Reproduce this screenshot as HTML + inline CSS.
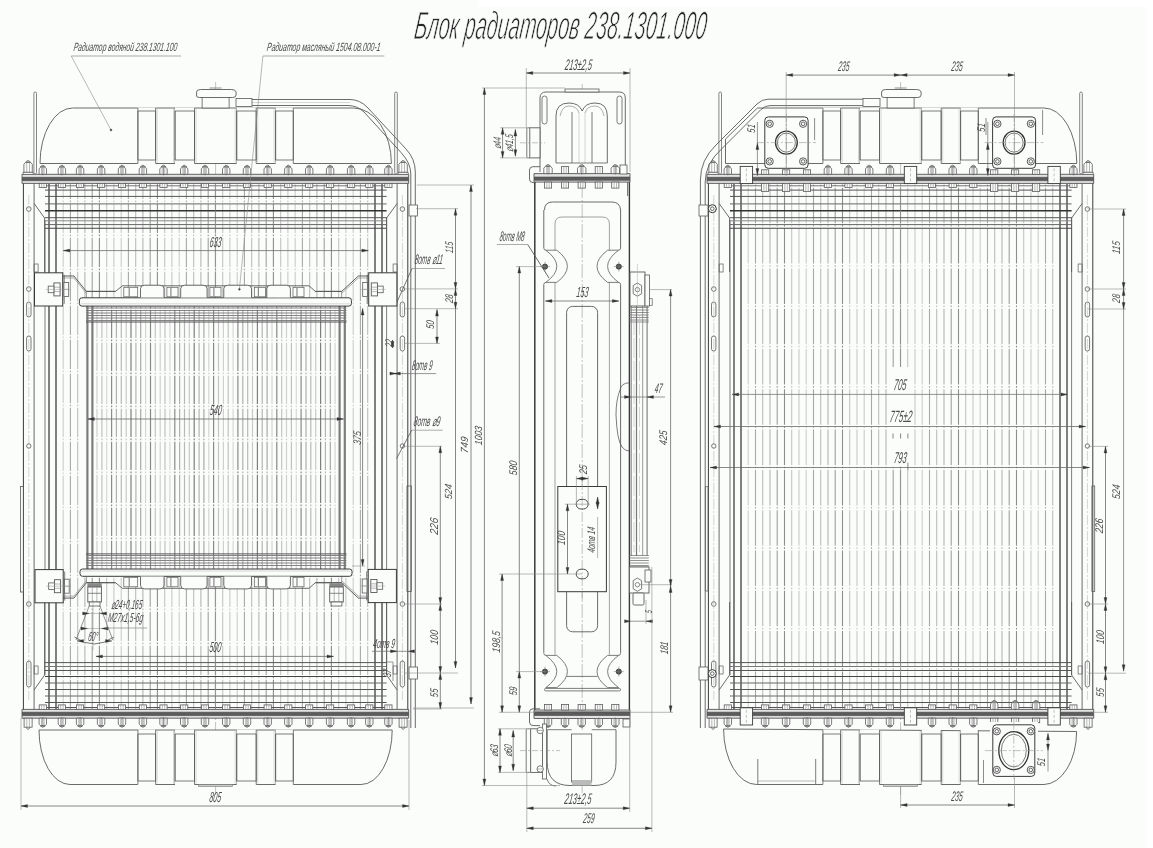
<!DOCTYPE html>
<html><head><meta charset="utf-8"><title>Блок радиаторов 238.1301.000</title>
<style>html,body{margin:0;padding:0;background:#fff;}body{width:1153px;height:848px;overflow:hidden;position:relative;font-family:"Liberation Sans",sans-serif;}
#bg{position:absolute;left:0;top:7px;width:1146px;height:841px;background:#fbfdfb;}
#bg2{position:absolute;left:0;top:0;width:478px;height:7px;background:#fbfdfb;}
svg{position:absolute;left:0;top:0;display:block;will-change:transform;filter:blur(0.35px);}</style></head>
<body><div id="bg"></div><div id="bg2"></div>
<svg width="1153" height="848" viewBox="0 0 1153 848" font-family="Liberation Sans, sans-serif" font-style="italic"><line x1="63.2" y1="184" x2="63.2" y2="710" stroke="#cccccc" stroke-width="1.1" stroke-dasharray="29.2 1.6 1.6 1.6" stroke-dashoffset="14.2"/>
<line x1="70.4" y1="184" x2="70.4" y2="710" stroke="#a8a8a8" stroke-width="1.1" stroke-dasharray="29.2 1.6 1.6 1.6" stroke-dashoffset="14.2"/>
<line x1="77.7" y1="184" x2="77.7" y2="710" stroke="#bcbcbc" stroke-width="1.1" stroke-dasharray="29.2 1.6 1.6 1.6" stroke-dashoffset="14.2"/>
<line x1="84.9" y1="184" x2="84.9" y2="710" stroke="#b4b4b4" stroke-width="1.1" stroke-dasharray="29.2 1.6 1.6 1.6" stroke-dashoffset="14.2"/>
<line x1="92.2" y1="184" x2="92.2" y2="710" stroke="#a0a0a0" stroke-width="1.1" stroke-dasharray="29.2 1.6 1.6 1.6" stroke-dashoffset="14.2"/>
<line x1="99.4" y1="184" x2="99.4" y2="710" stroke="#8e8e8e" stroke-width="1.1" stroke-dasharray="29.2 1.6 1.6 1.6" stroke-dashoffset="14.2"/>
<line x1="106.7" y1="184" x2="106.7" y2="710" stroke="#c4c4c4" stroke-width="1.1" stroke-dasharray="29.2 1.6 1.6 1.6" stroke-dashoffset="14.2"/>
<line x1="113.9" y1="184" x2="113.9" y2="710" stroke="#c8c8c8" stroke-width="1.1" stroke-dasharray="29.2 1.6 1.6 1.6" stroke-dashoffset="14.2"/>
<line x1="121.2" y1="184" x2="121.2" y2="710" stroke="#cccccc" stroke-width="1.1" stroke-dasharray="29.2 1.6 1.6 1.6" stroke-dashoffset="14.2"/>
<line x1="128.4" y1="184" x2="128.4" y2="710" stroke="#a8a8a8" stroke-width="1.1" stroke-dasharray="29.2 1.6 1.6 1.6" stroke-dashoffset="14.2"/>
<line x1="135.7" y1="184" x2="135.7" y2="710" stroke="#bcbcbc" stroke-width="1.1" stroke-dasharray="29.2 1.6 1.6 1.6" stroke-dashoffset="14.2"/>
<line x1="142.9" y1="184" x2="142.9" y2="710" stroke="#b4b4b4" stroke-width="1.1" stroke-dasharray="29.2 1.6 1.6 1.6" stroke-dashoffset="14.2"/>
<line x1="150.2" y1="184" x2="150.2" y2="710" stroke="#a0a0a0" stroke-width="1.1" stroke-dasharray="29.2 1.6 1.6 1.6" stroke-dashoffset="14.2"/>
<line x1="157.4" y1="184" x2="157.4" y2="710" stroke="#8e8e8e" stroke-width="1.1" stroke-dasharray="29.2 1.6 1.6 1.6" stroke-dashoffset="14.2"/>
<line x1="164.7" y1="184" x2="164.7" y2="710" stroke="#c4c4c4" stroke-width="1.1" stroke-dasharray="29.2 1.6 1.6 1.6" stroke-dashoffset="14.2"/>
<line x1="171.9" y1="184" x2="171.9" y2="710" stroke="#c8c8c8" stroke-width="1.1" stroke-dasharray="29.2 1.6 1.6 1.6" stroke-dashoffset="14.2"/>
<line x1="179.2" y1="184" x2="179.2" y2="710" stroke="#cccccc" stroke-width="1.1" stroke-dasharray="29.2 1.6 1.6 1.6" stroke-dashoffset="14.2"/>
<line x1="186.4" y1="184" x2="186.4" y2="710" stroke="#a8a8a8" stroke-width="1.1" stroke-dasharray="29.2 1.6 1.6 1.6" stroke-dashoffset="14.2"/>
<line x1="193.7" y1="184" x2="193.7" y2="710" stroke="#bcbcbc" stroke-width="1.1" stroke-dasharray="29.2 1.6 1.6 1.6" stroke-dashoffset="14.2"/>
<line x1="200.9" y1="184" x2="200.9" y2="710" stroke="#b4b4b4" stroke-width="1.1" stroke-dasharray="29.2 1.6 1.6 1.6" stroke-dashoffset="14.2"/>
<line x1="208.2" y1="184" x2="208.2" y2="710" stroke="#a0a0a0" stroke-width="1.1" stroke-dasharray="29.2 1.6 1.6 1.6" stroke-dashoffset="14.2"/>
<line x1="215.4" y1="184" x2="215.4" y2="710" stroke="#8e8e8e" stroke-width="1.1" stroke-dasharray="29.2 1.6 1.6 1.6" stroke-dashoffset="14.2"/>
<line x1="222.7" y1="184" x2="222.7" y2="710" stroke="#c4c4c4" stroke-width="1.1" stroke-dasharray="29.2 1.6 1.6 1.6" stroke-dashoffset="14.2"/>
<line x1="229.9" y1="184" x2="229.9" y2="710" stroke="#c8c8c8" stroke-width="1.1" stroke-dasharray="29.2 1.6 1.6 1.6" stroke-dashoffset="14.2"/>
<line x1="237.2" y1="184" x2="237.2" y2="710" stroke="#cccccc" stroke-width="1.1" stroke-dasharray="29.2 1.6 1.6 1.6" stroke-dashoffset="14.2"/>
<line x1="244.4" y1="184" x2="244.4" y2="710" stroke="#a8a8a8" stroke-width="1.1" stroke-dasharray="29.2 1.6 1.6 1.6" stroke-dashoffset="14.2"/>
<line x1="251.7" y1="184" x2="251.7" y2="710" stroke="#bcbcbc" stroke-width="1.1" stroke-dasharray="29.2 1.6 1.6 1.6" stroke-dashoffset="14.2"/>
<line x1="258.9" y1="184" x2="258.9" y2="710" stroke="#b4b4b4" stroke-width="1.1" stroke-dasharray="29.2 1.6 1.6 1.6" stroke-dashoffset="14.2"/>
<line x1="266.2" y1="184" x2="266.2" y2="710" stroke="#a0a0a0" stroke-width="1.1" stroke-dasharray="29.2 1.6 1.6 1.6" stroke-dashoffset="14.2"/>
<line x1="273.4" y1="184" x2="273.4" y2="710" stroke="#8e8e8e" stroke-width="1.1" stroke-dasharray="29.2 1.6 1.6 1.6" stroke-dashoffset="14.2"/>
<line x1="280.7" y1="184" x2="280.7" y2="710" stroke="#c4c4c4" stroke-width="1.1" stroke-dasharray="29.2 1.6 1.6 1.6" stroke-dashoffset="14.2"/>
<line x1="287.9" y1="184" x2="287.9" y2="710" stroke="#c8c8c8" stroke-width="1.1" stroke-dasharray="29.2 1.6 1.6 1.6" stroke-dashoffset="14.2"/>
<line x1="295.2" y1="184" x2="295.2" y2="710" stroke="#cccccc" stroke-width="1.1" stroke-dasharray="29.2 1.6 1.6 1.6" stroke-dashoffset="14.2"/>
<line x1="302.4" y1="184" x2="302.4" y2="710" stroke="#a8a8a8" stroke-width="1.1" stroke-dasharray="29.2 1.6 1.6 1.6" stroke-dashoffset="14.2"/>
<line x1="309.7" y1="184" x2="309.7" y2="710" stroke="#bcbcbc" stroke-width="1.1" stroke-dasharray="29.2 1.6 1.6 1.6" stroke-dashoffset="14.2"/>
<line x1="316.9" y1="184" x2="316.9" y2="710" stroke="#b4b4b4" stroke-width="1.1" stroke-dasharray="29.2 1.6 1.6 1.6" stroke-dashoffset="14.2"/>
<line x1="324.2" y1="184" x2="324.2" y2="710" stroke="#a0a0a0" stroke-width="1.1" stroke-dasharray="29.2 1.6 1.6 1.6" stroke-dashoffset="14.2"/>
<line x1="331.4" y1="184" x2="331.4" y2="710" stroke="#8e8e8e" stroke-width="1.1" stroke-dasharray="29.2 1.6 1.6 1.6" stroke-dashoffset="14.2"/>
<line x1="338.7" y1="184" x2="338.7" y2="710" stroke="#c4c4c4" stroke-width="1.1" stroke-dasharray="29.2 1.6 1.6 1.6" stroke-dashoffset="14.2"/>
<line x1="345.9" y1="184" x2="345.9" y2="710" stroke="#c8c8c8" stroke-width="1.1" stroke-dasharray="29.2 1.6 1.6 1.6" stroke-dashoffset="14.2"/>
<line x1="353.2" y1="184" x2="353.2" y2="710" stroke="#cccccc" stroke-width="1.1" stroke-dasharray="29.2 1.6 1.6 1.6" stroke-dashoffset="14.2"/>
<line x1="360.4" y1="184" x2="360.4" y2="710" stroke="#a8a8a8" stroke-width="1.1" stroke-dasharray="29.2 1.6 1.6 1.6" stroke-dashoffset="14.2"/>
<line x1="367.7" y1="184" x2="367.7" y2="710" stroke="#bcbcbc" stroke-width="1.1" stroke-dasharray="29.2 1.6 1.6 1.6" stroke-dashoffset="14.2"/>
<line x1="49" y1="184" x2="49" y2="710" stroke="#4a4a4a" stroke-width="1.4"/>
<line x1="56" y1="184" x2="56" y2="710" stroke="#4a4a4a" stroke-width="1.4"/>
<line x1="375" y1="184" x2="375" y2="710" stroke="#4a4a4a" stroke-width="1.4"/>
<line x1="382" y1="184" x2="382" y2="710" stroke="#4a4a4a" stroke-width="1.4"/>
<line x1="45" y1="220" x2="45" y2="675" stroke="#5a5a5a" stroke-width="0.8"/>
<line x1="386.6" y1="217" x2="386.6" y2="675" stroke="#5a5a5a" stroke-width="0.8"/>
<line x1="45" y1="185.8" x2="386.6" y2="185.8" stroke="#666" stroke-width="0.9"/>
<line x1="45" y1="190.1" x2="386.6" y2="190.1" stroke="#555" stroke-width="1"/>
<line x1="45" y1="196.4" x2="386.6" y2="196.4" stroke="#555" stroke-width="1"/>
<line x1="45" y1="203.9" x2="386.6" y2="203.9" stroke="#666" stroke-width="1"/>
<line x1="45" y1="210.8" x2="386.6" y2="210.8" stroke="#333" stroke-width="1.4"/>
<line x1="45" y1="217.7" x2="386.6" y2="217.7" stroke="#555" stroke-width="1"/>
<line x1="45" y1="220.8" x2="386.6" y2="220.8" stroke="#888" stroke-width="1"/>
<line x1="45" y1="224.6" x2="386.6" y2="224.6" stroke="#666" stroke-width="1"/>
<line x1="45" y1="228.3" x2="386.6" y2="228.3" stroke="#444" stroke-width="1.1"/>
<line x1="45" y1="662.6" x2="386.6" y2="662.6" stroke="#555" stroke-width="1"/>
<line x1="45" y1="666.5" x2="386.6" y2="666.5" stroke="#777" stroke-width="1"/>
<line x1="45" y1="670.5" x2="386.6" y2="670.5" stroke="#555" stroke-width="1"/>
<line x1="45" y1="676.5" x2="386.6" y2="676.5" stroke="#444" stroke-width="1.2"/>
<line x1="45" y1="683" x2="386.6" y2="683" stroke="#666" stroke-width="1"/>
<line x1="45" y1="689.5" x2="386.6" y2="689.5" stroke="#555" stroke-width="1"/>
<line x1="45" y1="696" x2="386.6" y2="696" stroke="#666" stroke-width="1"/>
<line x1="45" y1="702.5" x2="386.6" y2="702.5" stroke="#555" stroke-width="1"/>
<line x1="45" y1="707.5" x2="386.6" y2="707.5" stroke="#555" stroke-width="1"/>
<line x1="215.6" y1="82" x2="215.6" y2="795" stroke="#999" stroke-width="0.6" stroke-dasharray="14 2 2 2"/>
<line x1="23.4" y1="182" x2="23.4" y2="712" stroke="#3a3a3a" stroke-width="1"/>
<line x1="34.1" y1="182" x2="34.1" y2="712" stroke="#5a5a5a" stroke-width="0.9"/>
<line x1="28.8" y1="195" x2="28.8" y2="700" stroke="#aaa" stroke-width="0.5" stroke-dasharray="10 2 2 2"/>
<path d="M34.1 203.5 L44.6 218 L44.6 272" stroke="#5a5a5a" stroke-width="0.9" fill="none"/>
<path d="M44.6 602 L44.6 675 L34.1 690" stroke="#5a5a5a" stroke-width="0.9" fill="none"/>
<circle cx="28.8" cy="209" r="2.3" stroke="#5a5a5a" stroke-width="0.8" fill="none"/>
<circle cx="28.8" cy="289" r="2.3" stroke="#5a5a5a" stroke-width="0.8" fill="none"/>
<rect x="26.6" y="302" width="4.4" height="15" stroke="#5a5a5a" stroke-width="0.8" fill="none" rx="2.2"/>
<rect x="26.6" y="336" width="4.4" height="15" stroke="#5a5a5a" stroke-width="0.8" fill="none" rx="2.2"/>
<circle cx="28.8" cy="446" r="2.2" stroke="#5a5a5a" stroke-width="0.8" fill="none"/>
<circle cx="28.8" cy="604" r="2.3" stroke="#5a5a5a" stroke-width="0.8" fill="none"/>
<rect x="26.6" y="661" width="4.4" height="26" stroke="#5a5a5a" stroke-width="0.8" fill="none" rx="2.2"/>
<rect x="34.1" y="264" width="4" height="8" stroke="#5a5a5a" stroke-width="0.7" fill="none"/>
<rect x="34.1" y="666" width="4" height="8" stroke="#5a5a5a" stroke-width="0.7" fill="none"/>
<line x1="407.8" y1="182" x2="407.8" y2="712" stroke="#3a3a3a" stroke-width="1"/>
<line x1="397.1" y1="182" x2="397.1" y2="712" stroke="#5a5a5a" stroke-width="0.9"/>
<line x1="402.4" y1="195" x2="402.4" y2="700" stroke="#aaa" stroke-width="0.5" stroke-dasharray="10 2 2 2"/>
<path d="M397.1 203.5 L386.6 218 L386.6 272" stroke="#5a5a5a" stroke-width="0.9" fill="none"/>
<path d="M386.6 602 L386.6 675 L397.1 690" stroke="#5a5a5a" stroke-width="0.9" fill="none"/>
<circle cx="402.4" cy="209" r="2.3" stroke="#5a5a5a" stroke-width="0.8" fill="none"/>
<circle cx="402.4" cy="289" r="2.3" stroke="#5a5a5a" stroke-width="0.8" fill="none"/>
<rect x="400.2" y="302" width="4.4" height="15" stroke="#5a5a5a" stroke-width="0.8" fill="none" rx="2.2"/>
<rect x="400.2" y="336" width="4.4" height="15" stroke="#5a5a5a" stroke-width="0.8" fill="none" rx="2.2"/>
<circle cx="402.4" cy="446" r="2.2" stroke="#5a5a5a" stroke-width="0.8" fill="none"/>
<circle cx="402.4" cy="604" r="2.3" stroke="#5a5a5a" stroke-width="0.8" fill="none"/>
<rect x="400.2" y="661" width="4.4" height="26" stroke="#5a5a5a" stroke-width="0.8" fill="none" rx="2.2"/>
<rect x="393.1" y="264" width="4" height="8" stroke="#5a5a5a" stroke-width="0.7" fill="none"/>
<rect x="393.1" y="666" width="4" height="8" stroke="#5a5a5a" stroke-width="0.7" fill="none"/>
<path d="M137.9 108 L72.6 108 A32.6 55.5 0 0 0 40 163.5 L391.4 163.5 A37.9 55.5 0 0 0 353.5 108 Z" stroke="#5a5a5a" stroke-width="0.9" fill="#fbfdfb" />
<rect x="137.9" y="107.5" width="17.7" height="3.3" fill="#fbfdfb"/>
<rect x="137.9" y="160.2" width="17.7" height="3.8" fill="#fbfdfb"/>
<line x1="137.9" y1="111" x2="155.6" y2="111" stroke="#5a5a5a" stroke-width="0.8"/>
<line x1="137.9" y1="160" x2="155.6" y2="160" stroke="#5a5a5a" stroke-width="0.8"/>
<line x1="137.9" y1="111" x2="137.9" y2="160" stroke="#5a5a5a" stroke-width="0.8"/>
<line x1="155.6" y1="111" x2="155.6" y2="160" stroke="#5a5a5a" stroke-width="0.8"/>
<line x1="155.6" y1="108" x2="155.6" y2="163.5" stroke="#5a5a5a" stroke-width="0.8"/>
<line x1="175" y1="108" x2="175" y2="163.5" stroke="#5a5a5a" stroke-width="0.8"/>
<line x1="157.1" y1="109" x2="157.1" y2="162.5" stroke="#bbb" stroke-width="0.6"/>
<line x1="173.5" y1="109" x2="173.5" y2="162.5" stroke="#bbb" stroke-width="0.6"/>
<rect x="175" y="107.5" width="19.5" height="3.3" fill="#fbfdfb"/>
<rect x="175" y="160.2" width="19.5" height="3.8" fill="#fbfdfb"/>
<line x1="175" y1="111" x2="194.5" y2="111" stroke="#5a5a5a" stroke-width="0.8"/>
<line x1="175" y1="160" x2="194.5" y2="160" stroke="#5a5a5a" stroke-width="0.8"/>
<line x1="175" y1="111" x2="175" y2="160" stroke="#5a5a5a" stroke-width="0.8"/>
<line x1="194.5" y1="111" x2="194.5" y2="160" stroke="#5a5a5a" stroke-width="0.8"/>
<line x1="194.5" y1="108" x2="194.5" y2="163.5" stroke="#5a5a5a" stroke-width="0.8"/>
<line x1="236.7" y1="108" x2="236.7" y2="163.5" stroke="#5a5a5a" stroke-width="0.8"/>
<line x1="196" y1="109" x2="196" y2="162.5" stroke="#bbb" stroke-width="0.6"/>
<line x1="235.2" y1="109" x2="235.2" y2="162.5" stroke="#bbb" stroke-width="0.6"/>
<rect x="236.7" y="107.5" width="19.5" height="3.3" fill="#fbfdfb"/>
<rect x="236.7" y="160.2" width="19.5" height="3.8" fill="#fbfdfb"/>
<line x1="236.7" y1="111" x2="256.2" y2="111" stroke="#5a5a5a" stroke-width="0.8"/>
<line x1="236.7" y1="160" x2="256.2" y2="160" stroke="#5a5a5a" stroke-width="0.8"/>
<line x1="236.7" y1="111" x2="236.7" y2="160" stroke="#5a5a5a" stroke-width="0.8"/>
<line x1="256.2" y1="111" x2="256.2" y2="160" stroke="#5a5a5a" stroke-width="0.8"/>
<line x1="256.2" y1="108" x2="256.2" y2="163.5" stroke="#5a5a5a" stroke-width="0.8"/>
<line x1="275.6" y1="108" x2="275.6" y2="163.5" stroke="#5a5a5a" stroke-width="0.8"/>
<line x1="257.7" y1="109" x2="257.7" y2="162.5" stroke="#bbb" stroke-width="0.6"/>
<line x1="274.1" y1="109" x2="274.1" y2="162.5" stroke="#bbb" stroke-width="0.6"/>
<rect x="275.6" y="107.5" width="17.7" height="3.3" fill="#fbfdfb"/>
<rect x="275.6" y="160.2" width="17.7" height="3.8" fill="#fbfdfb"/>
<line x1="275.6" y1="111" x2="293.3" y2="111" stroke="#5a5a5a" stroke-width="0.8"/>
<line x1="275.6" y1="160" x2="293.3" y2="160" stroke="#5a5a5a" stroke-width="0.8"/>
<line x1="275.6" y1="111" x2="275.6" y2="160" stroke="#5a5a5a" stroke-width="0.8"/>
<line x1="293.3" y1="111" x2="293.3" y2="160" stroke="#5a5a5a" stroke-width="0.8"/>
<line x1="137.9" y1="108" x2="137.9" y2="163.5" stroke="#5a5a5a" stroke-width="0.8"/>
<line x1="293.3" y1="108" x2="293.3" y2="163.5" stroke="#5a5a5a" stroke-width="0.8"/>
<path d="M137.9 784.5 L70 784.5 A31 54.5 0 0 1 39 730 L392.2 730 A31 54.5 0 0 1 361.2 784.5 Z" stroke="#5a5a5a" stroke-width="0.9" fill="#fbfdfb" />
<rect x="137.9" y="729.5" width="17.7" height="4.3" fill="#fbfdfb"/>
<rect x="137.9" y="781.2" width="17.7" height="3.8" fill="#fbfdfb"/>
<line x1="137.9" y1="734" x2="155.6" y2="734" stroke="#5a5a5a" stroke-width="0.8"/>
<line x1="137.9" y1="781" x2="155.6" y2="781" stroke="#5a5a5a" stroke-width="0.8"/>
<line x1="137.9" y1="734" x2="137.9" y2="781" stroke="#5a5a5a" stroke-width="0.8"/>
<line x1="155.6" y1="734" x2="155.6" y2="781" stroke="#5a5a5a" stroke-width="0.8"/>
<line x1="155.6" y1="730" x2="155.6" y2="784.5" stroke="#5a5a5a" stroke-width="0.8"/>
<line x1="175" y1="730" x2="175" y2="784.5" stroke="#5a5a5a" stroke-width="0.8"/>
<line x1="157.1" y1="731" x2="157.1" y2="783.5" stroke="#bbb" stroke-width="0.6"/>
<line x1="173.5" y1="731" x2="173.5" y2="783.5" stroke="#bbb" stroke-width="0.6"/>
<rect x="175" y="729.5" width="19.5" height="4.3" fill="#fbfdfb"/>
<rect x="175" y="781.2" width="19.5" height="3.8" fill="#fbfdfb"/>
<line x1="175" y1="734" x2="194.5" y2="734" stroke="#5a5a5a" stroke-width="0.8"/>
<line x1="175" y1="781" x2="194.5" y2="781" stroke="#5a5a5a" stroke-width="0.8"/>
<line x1="175" y1="734" x2="175" y2="781" stroke="#5a5a5a" stroke-width="0.8"/>
<line x1="194.5" y1="734" x2="194.5" y2="781" stroke="#5a5a5a" stroke-width="0.8"/>
<line x1="194.5" y1="730" x2="194.5" y2="784.5" stroke="#5a5a5a" stroke-width="0.8"/>
<line x1="236.7" y1="730" x2="236.7" y2="784.5" stroke="#5a5a5a" stroke-width="0.8"/>
<line x1="196" y1="731" x2="196" y2="783.5" stroke="#bbb" stroke-width="0.6"/>
<line x1="235.2" y1="731" x2="235.2" y2="783.5" stroke="#bbb" stroke-width="0.6"/>
<rect x="236.7" y="729.5" width="19.5" height="4.3" fill="#fbfdfb"/>
<rect x="236.7" y="781.2" width="19.5" height="3.8" fill="#fbfdfb"/>
<line x1="236.7" y1="734" x2="256.2" y2="734" stroke="#5a5a5a" stroke-width="0.8"/>
<line x1="236.7" y1="781" x2="256.2" y2="781" stroke="#5a5a5a" stroke-width="0.8"/>
<line x1="236.7" y1="734" x2="236.7" y2="781" stroke="#5a5a5a" stroke-width="0.8"/>
<line x1="256.2" y1="734" x2="256.2" y2="781" stroke="#5a5a5a" stroke-width="0.8"/>
<line x1="256.2" y1="730" x2="256.2" y2="784.5" stroke="#5a5a5a" stroke-width="0.8"/>
<line x1="275.6" y1="730" x2="275.6" y2="784.5" stroke="#5a5a5a" stroke-width="0.8"/>
<line x1="257.7" y1="731" x2="257.7" y2="783.5" stroke="#bbb" stroke-width="0.6"/>
<line x1="274.1" y1="731" x2="274.1" y2="783.5" stroke="#bbb" stroke-width="0.6"/>
<rect x="275.6" y="729.5" width="17.7" height="4.3" fill="#fbfdfb"/>
<rect x="275.6" y="781.2" width="17.7" height="3.8" fill="#fbfdfb"/>
<line x1="275.6" y1="734" x2="293.3" y2="734" stroke="#5a5a5a" stroke-width="0.8"/>
<line x1="275.6" y1="781" x2="293.3" y2="781" stroke="#5a5a5a" stroke-width="0.8"/>
<line x1="275.6" y1="734" x2="275.6" y2="781" stroke="#5a5a5a" stroke-width="0.8"/>
<line x1="293.3" y1="734" x2="293.3" y2="781" stroke="#5a5a5a" stroke-width="0.8"/>
<line x1="137.9" y1="730" x2="137.9" y2="784.5" stroke="#5a5a5a" stroke-width="0.8"/>
<line x1="293.3" y1="730" x2="293.3" y2="784.5" stroke="#5a5a5a" stroke-width="0.8"/>
<rect x="198.6" y="784.5" width="34" height="2" stroke="#777" stroke-width="0.6" fill="#ccc"/>
<rect x="22" y="174.3" width="386.7" height="9.1" fill="#e4e4e4"/>
<rect x="22" y="177.3" width="386.7" height="3.4" fill="#5c5c5c"/>
<line x1="22" y1="174.3" x2="408.7" y2="174.3" stroke="#555" stroke-width="0.9"/>
<line x1="22" y1="183.4" x2="408.7" y2="183.4" stroke="#555" stroke-width="0.9"/>
<line x1="22" y1="177.3" x2="408.7" y2="177.3" stroke="#444" stroke-width="0.6"/>
<line x1="22" y1="180.7" x2="408.7" y2="180.7" stroke="#444" stroke-width="0.6"/>
<line x1="22" y1="174.3" x2="22" y2="183.4" stroke="#555" stroke-width="0.9"/>
<line x1="408.7" y1="174.3" x2="408.7" y2="183.4" stroke="#555" stroke-width="0.9"/>
<rect x="22" y="709.4" width="386.7" height="8.8" fill="#e4e4e4"/>
<rect x="22" y="712.2" width="386.7" height="3.4" fill="#5c5c5c"/>
<line x1="22" y1="709.4" x2="408.7" y2="709.4" stroke="#555" stroke-width="0.9"/>
<line x1="22" y1="718.2" x2="408.7" y2="718.2" stroke="#555" stroke-width="0.9"/>
<line x1="22" y1="712.2" x2="408.7" y2="712.2" stroke="#444" stroke-width="0.6"/>
<line x1="22" y1="715.6" x2="408.7" y2="715.6" stroke="#444" stroke-width="0.6"/>
<line x1="22" y1="709.4" x2="22" y2="718.2" stroke="#555" stroke-width="0.9"/>
<line x1="408.7" y1="709.4" x2="408.7" y2="718.2" stroke="#555" stroke-width="0.9"/>
<rect x="33.9" y="92" width="2.6" height="82" stroke="#666" stroke-width="0.8" fill="#fbfdfb" rx="1.3"/>
<rect x="394.7" y="92" width="2.6" height="82" stroke="#666" stroke-width="0.8" fill="#fbfdfb" rx="1.3"/>
<path d="M196.6 96 L196.6 92 Q196.6 89.5 200.6 89.5 L231.6 89.5 Q235.6 89.5 236.1 92 L236.1 95 Q236.1 97.5 232.6 97.5 L199.6 97.5 Q196.6 97.5 196.6 96 Z" stroke="#5a5a5a" stroke-width="0.9" fill="#fbfdfb" />
<rect x="202.1" y="97.5" width="27" height="10.5" stroke="#5a5a5a" stroke-width="0.8" fill="#fbfdfb"/>
<line x1="209.6" y1="88" x2="221.6" y2="88" stroke="#777" stroke-width="0.8"/>
<path d="M202.4 167.1 Q205 163.3 207.6 167.1 Z" stroke="#5a5a5a" stroke-width="0.7" fill="#b8b8b8" />
<path d="M201.3 174.3 L201.3 168.9 L202.9 167.1 L207.1 167.1 L208.7 168.9 L208.7 174.3Z" stroke="#5a5a5a" stroke-width="0.8" fill="#fbfdfb"/>
<line x1="203.7" y1="167.3" x2="203.7" y2="174.3" stroke="#888" stroke-width="0.6"/>
<line x1="206.3" y1="167.3" x2="206.3" y2="174.3" stroke="#888" stroke-width="0.6"/>
<line x1="205" y1="167.3" x2="205" y2="175.3" stroke="#555" stroke-width="0.6"/>
<rect x="201.4" y="183.4" width="7.2" height="4.2" stroke="#5a5a5a" stroke-width="0.8" fill="#fbfdfb"/>
<line x1="203.8" y1="183.4" x2="203.8" y2="187.6" stroke="#8a8a8a" stroke-width="0.6"/>
<line x1="206.2" y1="183.4" x2="206.2" y2="187.6" stroke="#8a8a8a" stroke-width="0.6"/>
<rect x="201.4" y="704.9" width="7.2" height="4.5" stroke="#5a5a5a" stroke-width="0.8" fill="#fbfdfb"/>
<line x1="203.8" y1="704.9" x2="203.8" y2="709.4" stroke="#8a8a8a" stroke-width="0.6"/>
<line x1="206.2" y1="704.9" x2="206.2" y2="709.4" stroke="#8a8a8a" stroke-width="0.6"/>
<path d="M201.3 718.2 L201.3 724.2 L202.9 725.8 L207.1 725.8 L208.7 724.2 L208.7 718.2Z" stroke="#5a5a5a" stroke-width="0.8" fill="#fbfdfb"/>
<line x1="203.7" y1="718.2" x2="203.7" y2="725.6" stroke="#888" stroke-width="0.6"/>
<line x1="206.3" y1="718.2" x2="206.3" y2="725.6" stroke="#888" stroke-width="0.6"/>
<path d="M202.4 725.8 Q205 728.8 207.6 725.8 Z" stroke="#5a5a5a" stroke-width="0.7" fill="#b8b8b8" />
<line x1="205" y1="717.2" x2="205" y2="726.2" stroke="#555" stroke-width="0.6"/>
<path d="M223.6 167.1 Q226.2 163.3 228.8 167.1 Z" stroke="#5a5a5a" stroke-width="0.7" fill="#b8b8b8" />
<path d="M222.5 174.3 L222.5 168.9 L224.1 167.1 L228.3 167.1 L229.9 168.9 L229.9 174.3Z" stroke="#5a5a5a" stroke-width="0.8" fill="#fbfdfb"/>
<line x1="224.9" y1="167.3" x2="224.9" y2="174.3" stroke="#888" stroke-width="0.6"/>
<line x1="227.5" y1="167.3" x2="227.5" y2="174.3" stroke="#888" stroke-width="0.6"/>
<line x1="226.2" y1="167.3" x2="226.2" y2="175.3" stroke="#555" stroke-width="0.6"/>
<rect x="222.6" y="183.4" width="7.2" height="4.2" stroke="#5a5a5a" stroke-width="0.8" fill="#fbfdfb"/>
<line x1="225" y1="183.4" x2="225" y2="187.6" stroke="#8a8a8a" stroke-width="0.6"/>
<line x1="227.4" y1="183.4" x2="227.4" y2="187.6" stroke="#8a8a8a" stroke-width="0.6"/>
<rect x="222.6" y="704.9" width="7.2" height="4.5" stroke="#5a5a5a" stroke-width="0.8" fill="#fbfdfb"/>
<line x1="225" y1="704.9" x2="225" y2="709.4" stroke="#8a8a8a" stroke-width="0.6"/>
<line x1="227.4" y1="704.9" x2="227.4" y2="709.4" stroke="#8a8a8a" stroke-width="0.6"/>
<path d="M222.5 718.2 L222.5 724.2 L224.1 725.8 L228.3 725.8 L229.9 724.2 L229.9 718.2Z" stroke="#5a5a5a" stroke-width="0.8" fill="#fbfdfb"/>
<line x1="224.9" y1="718.2" x2="224.9" y2="725.6" stroke="#888" stroke-width="0.6"/>
<line x1="227.5" y1="718.2" x2="227.5" y2="725.6" stroke="#888" stroke-width="0.6"/>
<path d="M223.6 725.8 Q226.2 728.8 228.8 725.8 Z" stroke="#5a5a5a" stroke-width="0.7" fill="#b8b8b8" />
<line x1="226.2" y1="717.2" x2="226.2" y2="726.2" stroke="#555" stroke-width="0.6"/>
<path d="M181.6 167.1 Q184.2 163.3 186.8 167.1 Z" stroke="#5a5a5a" stroke-width="0.7" fill="#b8b8b8" />
<path d="M180.5 174.3 L180.5 168.9 L182.1 167.1 L186.3 167.1 L187.9 168.9 L187.9 174.3Z" stroke="#5a5a5a" stroke-width="0.8" fill="#fbfdfb"/>
<line x1="182.9" y1="167.3" x2="182.9" y2="174.3" stroke="#888" stroke-width="0.6"/>
<line x1="185.5" y1="167.3" x2="185.5" y2="174.3" stroke="#888" stroke-width="0.6"/>
<line x1="184.2" y1="167.3" x2="184.2" y2="175.3" stroke="#555" stroke-width="0.6"/>
<rect x="180.6" y="183.4" width="7.2" height="4.2" stroke="#5a5a5a" stroke-width="0.8" fill="#fbfdfb"/>
<line x1="183" y1="183.4" x2="183" y2="187.6" stroke="#8a8a8a" stroke-width="0.6"/>
<line x1="185.4" y1="183.4" x2="185.4" y2="187.6" stroke="#8a8a8a" stroke-width="0.6"/>
<rect x="180.6" y="704.9" width="7.2" height="4.5" stroke="#5a5a5a" stroke-width="0.8" fill="#fbfdfb"/>
<line x1="183" y1="704.9" x2="183" y2="709.4" stroke="#8a8a8a" stroke-width="0.6"/>
<line x1="185.4" y1="704.9" x2="185.4" y2="709.4" stroke="#8a8a8a" stroke-width="0.6"/>
<path d="M180.5 718.2 L180.5 724.2 L182.1 725.8 L186.3 725.8 L187.9 724.2 L187.9 718.2Z" stroke="#5a5a5a" stroke-width="0.8" fill="#fbfdfb"/>
<line x1="182.9" y1="718.2" x2="182.9" y2="725.6" stroke="#888" stroke-width="0.6"/>
<line x1="185.5" y1="718.2" x2="185.5" y2="725.6" stroke="#888" stroke-width="0.6"/>
<path d="M181.6 725.8 Q184.2 728.8 186.8 725.8 Z" stroke="#5a5a5a" stroke-width="0.7" fill="#b8b8b8" />
<line x1="184.2" y1="717.2" x2="184.2" y2="726.2" stroke="#555" stroke-width="0.6"/>
<path d="M244.4 167.1 Q247 163.3 249.6 167.1 Z" stroke="#5a5a5a" stroke-width="0.7" fill="#b8b8b8" />
<path d="M243.3 174.3 L243.3 168.9 L244.9 167.1 L249.1 167.1 L250.7 168.9 L250.7 174.3Z" stroke="#5a5a5a" stroke-width="0.8" fill="#fbfdfb"/>
<line x1="245.7" y1="167.3" x2="245.7" y2="174.3" stroke="#888" stroke-width="0.6"/>
<line x1="248.3" y1="167.3" x2="248.3" y2="174.3" stroke="#888" stroke-width="0.6"/>
<line x1="247" y1="167.3" x2="247" y2="175.3" stroke="#555" stroke-width="0.6"/>
<rect x="243.4" y="183.4" width="7.2" height="4.2" stroke="#5a5a5a" stroke-width="0.8" fill="#fbfdfb"/>
<line x1="245.8" y1="183.4" x2="245.8" y2="187.6" stroke="#8a8a8a" stroke-width="0.6"/>
<line x1="248.2" y1="183.4" x2="248.2" y2="187.6" stroke="#8a8a8a" stroke-width="0.6"/>
<rect x="243.4" y="704.9" width="7.2" height="4.5" stroke="#5a5a5a" stroke-width="0.8" fill="#fbfdfb"/>
<line x1="245.8" y1="704.9" x2="245.8" y2="709.4" stroke="#8a8a8a" stroke-width="0.6"/>
<line x1="248.2" y1="704.9" x2="248.2" y2="709.4" stroke="#8a8a8a" stroke-width="0.6"/>
<path d="M243.3 718.2 L243.3 724.2 L244.9 725.8 L249.1 725.8 L250.7 724.2 L250.7 718.2Z" stroke="#5a5a5a" stroke-width="0.8" fill="#fbfdfb"/>
<line x1="245.7" y1="718.2" x2="245.7" y2="725.6" stroke="#888" stroke-width="0.6"/>
<line x1="248.3" y1="718.2" x2="248.3" y2="725.6" stroke="#888" stroke-width="0.6"/>
<path d="M244.4 725.8 Q247 728.8 249.6 725.8 Z" stroke="#5a5a5a" stroke-width="0.7" fill="#b8b8b8" />
<line x1="247" y1="717.2" x2="247" y2="726.2" stroke="#555" stroke-width="0.6"/>
<path d="M160.9 167.1 Q163.5 163.3 166.1 167.1 Z" stroke="#5a5a5a" stroke-width="0.7" fill="#b8b8b8" />
<path d="M159.8 174.3 L159.8 168.9 L161.4 167.1 L165.6 167.1 L167.2 168.9 L167.2 174.3Z" stroke="#5a5a5a" stroke-width="0.8" fill="#fbfdfb"/>
<line x1="162.2" y1="167.3" x2="162.2" y2="174.3" stroke="#888" stroke-width="0.6"/>
<line x1="164.8" y1="167.3" x2="164.8" y2="174.3" stroke="#888" stroke-width="0.6"/>
<line x1="163.5" y1="167.3" x2="163.5" y2="175.3" stroke="#555" stroke-width="0.6"/>
<rect x="159.9" y="183.4" width="7.2" height="4.2" stroke="#5a5a5a" stroke-width="0.8" fill="#fbfdfb"/>
<line x1="162.3" y1="183.4" x2="162.3" y2="187.6" stroke="#8a8a8a" stroke-width="0.6"/>
<line x1="164.7" y1="183.4" x2="164.7" y2="187.6" stroke="#8a8a8a" stroke-width="0.6"/>
<rect x="159.9" y="704.9" width="7.2" height="4.5" stroke="#5a5a5a" stroke-width="0.8" fill="#fbfdfb"/>
<line x1="162.3" y1="704.9" x2="162.3" y2="709.4" stroke="#8a8a8a" stroke-width="0.6"/>
<line x1="164.7" y1="704.9" x2="164.7" y2="709.4" stroke="#8a8a8a" stroke-width="0.6"/>
<path d="M159.8 718.2 L159.8 724.2 L161.4 725.8 L165.6 725.8 L167.2 724.2 L167.2 718.2Z" stroke="#5a5a5a" stroke-width="0.8" fill="#fbfdfb"/>
<line x1="162.2" y1="718.2" x2="162.2" y2="725.6" stroke="#888" stroke-width="0.6"/>
<line x1="164.8" y1="718.2" x2="164.8" y2="725.6" stroke="#888" stroke-width="0.6"/>
<path d="M160.9 725.8 Q163.5 728.8 166.1 725.8 Z" stroke="#5a5a5a" stroke-width="0.7" fill="#b8b8b8" />
<line x1="163.5" y1="717.2" x2="163.5" y2="726.2" stroke="#555" stroke-width="0.6"/>
<path d="M265.1 167.1 Q267.7 163.3 270.3 167.1 Z" stroke="#5a5a5a" stroke-width="0.7" fill="#b8b8b8" />
<path d="M264 174.3 L264 168.9 L265.6 167.1 L269.8 167.1 L271.4 168.9 L271.4 174.3Z" stroke="#5a5a5a" stroke-width="0.8" fill="#fbfdfb"/>
<line x1="266.4" y1="167.3" x2="266.4" y2="174.3" stroke="#888" stroke-width="0.6"/>
<line x1="269" y1="167.3" x2="269" y2="174.3" stroke="#888" stroke-width="0.6"/>
<line x1="267.7" y1="167.3" x2="267.7" y2="175.3" stroke="#555" stroke-width="0.6"/>
<rect x="264.1" y="183.4" width="7.2" height="4.2" stroke="#5a5a5a" stroke-width="0.8" fill="#fbfdfb"/>
<line x1="266.5" y1="183.4" x2="266.5" y2="187.6" stroke="#8a8a8a" stroke-width="0.6"/>
<line x1="268.9" y1="183.4" x2="268.9" y2="187.6" stroke="#8a8a8a" stroke-width="0.6"/>
<rect x="264.1" y="704.9" width="7.2" height="4.5" stroke="#5a5a5a" stroke-width="0.8" fill="#fbfdfb"/>
<line x1="266.5" y1="704.9" x2="266.5" y2="709.4" stroke="#8a8a8a" stroke-width="0.6"/>
<line x1="268.9" y1="704.9" x2="268.9" y2="709.4" stroke="#8a8a8a" stroke-width="0.6"/>
<path d="M264 718.2 L264 724.2 L265.6 725.8 L269.8 725.8 L271.4 724.2 L271.4 718.2Z" stroke="#5a5a5a" stroke-width="0.8" fill="#fbfdfb"/>
<line x1="266.4" y1="718.2" x2="266.4" y2="725.6" stroke="#888" stroke-width="0.6"/>
<line x1="269" y1="718.2" x2="269" y2="725.6" stroke="#888" stroke-width="0.6"/>
<path d="M265.1 725.8 Q267.7 728.8 270.3 725.8 Z" stroke="#5a5a5a" stroke-width="0.7" fill="#b8b8b8" />
<line x1="267.7" y1="717.2" x2="267.7" y2="726.2" stroke="#555" stroke-width="0.6"/>
<path d="M140.3 167.1 Q142.9 163.3 145.5 167.1 Z" stroke="#5a5a5a" stroke-width="0.7" fill="#b8b8b8" />
<path d="M139.2 174.3 L139.2 168.9 L140.8 167.1 L145 167.1 L146.6 168.9 L146.6 174.3Z" stroke="#5a5a5a" stroke-width="0.8" fill="#fbfdfb"/>
<line x1="141.6" y1="167.3" x2="141.6" y2="174.3" stroke="#888" stroke-width="0.6"/>
<line x1="144.2" y1="167.3" x2="144.2" y2="174.3" stroke="#888" stroke-width="0.6"/>
<line x1="142.9" y1="167.3" x2="142.9" y2="175.3" stroke="#555" stroke-width="0.6"/>
<rect x="139.3" y="183.4" width="7.2" height="4.2" stroke="#5a5a5a" stroke-width="0.8" fill="#fbfdfb"/>
<line x1="141.7" y1="183.4" x2="141.7" y2="187.6" stroke="#8a8a8a" stroke-width="0.6"/>
<line x1="144.1" y1="183.4" x2="144.1" y2="187.6" stroke="#8a8a8a" stroke-width="0.6"/>
<rect x="139.3" y="704.9" width="7.2" height="4.5" stroke="#5a5a5a" stroke-width="0.8" fill="#fbfdfb"/>
<line x1="141.7" y1="704.9" x2="141.7" y2="709.4" stroke="#8a8a8a" stroke-width="0.6"/>
<line x1="144.1" y1="704.9" x2="144.1" y2="709.4" stroke="#8a8a8a" stroke-width="0.6"/>
<path d="M139.2 718.2 L139.2 724.2 L140.8 725.8 L145 725.8 L146.6 724.2 L146.6 718.2Z" stroke="#5a5a5a" stroke-width="0.8" fill="#fbfdfb"/>
<line x1="141.6" y1="718.2" x2="141.6" y2="725.6" stroke="#888" stroke-width="0.6"/>
<line x1="144.2" y1="718.2" x2="144.2" y2="725.6" stroke="#888" stroke-width="0.6"/>
<path d="M140.3 725.8 Q142.9 728.8 145.5 725.8 Z" stroke="#5a5a5a" stroke-width="0.7" fill="#b8b8b8" />
<line x1="142.9" y1="717.2" x2="142.9" y2="726.2" stroke="#555" stroke-width="0.6"/>
<path d="M285.7 167.1 Q288.3 163.3 290.9 167.1 Z" stroke="#5a5a5a" stroke-width="0.7" fill="#b8b8b8" />
<path d="M284.6 174.3 L284.6 168.9 L286.2 167.1 L290.4 167.1 L292 168.9 L292 174.3Z" stroke="#5a5a5a" stroke-width="0.8" fill="#fbfdfb"/>
<line x1="287" y1="167.3" x2="287" y2="174.3" stroke="#888" stroke-width="0.6"/>
<line x1="289.6" y1="167.3" x2="289.6" y2="174.3" stroke="#888" stroke-width="0.6"/>
<line x1="288.3" y1="167.3" x2="288.3" y2="175.3" stroke="#555" stroke-width="0.6"/>
<rect x="284.7" y="183.4" width="7.2" height="4.2" stroke="#5a5a5a" stroke-width="0.8" fill="#fbfdfb"/>
<line x1="287.1" y1="183.4" x2="287.1" y2="187.6" stroke="#8a8a8a" stroke-width="0.6"/>
<line x1="289.5" y1="183.4" x2="289.5" y2="187.6" stroke="#8a8a8a" stroke-width="0.6"/>
<rect x="284.7" y="704.9" width="7.2" height="4.5" stroke="#5a5a5a" stroke-width="0.8" fill="#fbfdfb"/>
<line x1="287.1" y1="704.9" x2="287.1" y2="709.4" stroke="#8a8a8a" stroke-width="0.6"/>
<line x1="289.5" y1="704.9" x2="289.5" y2="709.4" stroke="#8a8a8a" stroke-width="0.6"/>
<path d="M284.6 718.2 L284.6 724.2 L286.2 725.8 L290.4 725.8 L292 724.2 L292 718.2Z" stroke="#5a5a5a" stroke-width="0.8" fill="#fbfdfb"/>
<line x1="287" y1="718.2" x2="287" y2="725.6" stroke="#888" stroke-width="0.6"/>
<line x1="289.6" y1="718.2" x2="289.6" y2="725.6" stroke="#888" stroke-width="0.6"/>
<path d="M285.7 725.8 Q288.3 728.8 290.9 725.8 Z" stroke="#5a5a5a" stroke-width="0.7" fill="#b8b8b8" />
<line x1="288.3" y1="717.2" x2="288.3" y2="726.2" stroke="#555" stroke-width="0.6"/>
<path d="M119.4 167.1 Q122 163.3 124.6 167.1 Z" stroke="#5a5a5a" stroke-width="0.7" fill="#b8b8b8" />
<path d="M118.3 174.3 L118.3 168.9 L119.9 167.1 L124.1 167.1 L125.7 168.9 L125.7 174.3Z" stroke="#5a5a5a" stroke-width="0.8" fill="#fbfdfb"/>
<line x1="120.7" y1="167.3" x2="120.7" y2="174.3" stroke="#888" stroke-width="0.6"/>
<line x1="123.3" y1="167.3" x2="123.3" y2="174.3" stroke="#888" stroke-width="0.6"/>
<line x1="122" y1="167.3" x2="122" y2="175.3" stroke="#555" stroke-width="0.6"/>
<rect x="118.4" y="183.4" width="7.2" height="4.2" stroke="#5a5a5a" stroke-width="0.8" fill="#fbfdfb"/>
<line x1="120.8" y1="183.4" x2="120.8" y2="187.6" stroke="#8a8a8a" stroke-width="0.6"/>
<line x1="123.2" y1="183.4" x2="123.2" y2="187.6" stroke="#8a8a8a" stroke-width="0.6"/>
<rect x="118.4" y="704.9" width="7.2" height="4.5" stroke="#5a5a5a" stroke-width="0.8" fill="#fbfdfb"/>
<line x1="120.8" y1="704.9" x2="120.8" y2="709.4" stroke="#8a8a8a" stroke-width="0.6"/>
<line x1="123.2" y1="704.9" x2="123.2" y2="709.4" stroke="#8a8a8a" stroke-width="0.6"/>
<path d="M118.3 718.2 L118.3 724.2 L119.9 725.8 L124.1 725.8 L125.7 724.2 L125.7 718.2Z" stroke="#5a5a5a" stroke-width="0.8" fill="#fbfdfb"/>
<line x1="120.7" y1="718.2" x2="120.7" y2="725.6" stroke="#888" stroke-width="0.6"/>
<line x1="123.3" y1="718.2" x2="123.3" y2="725.6" stroke="#888" stroke-width="0.6"/>
<path d="M119.4 725.8 Q122 728.8 124.6 725.8 Z" stroke="#5a5a5a" stroke-width="0.7" fill="#b8b8b8" />
<line x1="122" y1="717.2" x2="122" y2="726.2" stroke="#555" stroke-width="0.6"/>
<path d="M306.6 167.1 Q309.2 163.3 311.8 167.1 Z" stroke="#5a5a5a" stroke-width="0.7" fill="#b8b8b8" />
<path d="M305.5 174.3 L305.5 168.9 L307.1 167.1 L311.3 167.1 L312.9 168.9 L312.9 174.3Z" stroke="#5a5a5a" stroke-width="0.8" fill="#fbfdfb"/>
<line x1="307.9" y1="167.3" x2="307.9" y2="174.3" stroke="#888" stroke-width="0.6"/>
<line x1="310.5" y1="167.3" x2="310.5" y2="174.3" stroke="#888" stroke-width="0.6"/>
<line x1="309.2" y1="167.3" x2="309.2" y2="175.3" stroke="#555" stroke-width="0.6"/>
<rect x="305.6" y="183.4" width="7.2" height="4.2" stroke="#5a5a5a" stroke-width="0.8" fill="#fbfdfb"/>
<line x1="308" y1="183.4" x2="308" y2="187.6" stroke="#8a8a8a" stroke-width="0.6"/>
<line x1="310.4" y1="183.4" x2="310.4" y2="187.6" stroke="#8a8a8a" stroke-width="0.6"/>
<rect x="305.6" y="704.9" width="7.2" height="4.5" stroke="#5a5a5a" stroke-width="0.8" fill="#fbfdfb"/>
<line x1="308" y1="704.9" x2="308" y2="709.4" stroke="#8a8a8a" stroke-width="0.6"/>
<line x1="310.4" y1="704.9" x2="310.4" y2="709.4" stroke="#8a8a8a" stroke-width="0.6"/>
<path d="M305.5 718.2 L305.5 724.2 L307.1 725.8 L311.3 725.8 L312.9 724.2 L312.9 718.2Z" stroke="#5a5a5a" stroke-width="0.8" fill="#fbfdfb"/>
<line x1="307.9" y1="718.2" x2="307.9" y2="725.6" stroke="#888" stroke-width="0.6"/>
<line x1="310.5" y1="718.2" x2="310.5" y2="725.6" stroke="#888" stroke-width="0.6"/>
<path d="M306.6 725.8 Q309.2 728.8 311.8 725.8 Z" stroke="#5a5a5a" stroke-width="0.7" fill="#b8b8b8" />
<line x1="309.2" y1="717.2" x2="309.2" y2="726.2" stroke="#555" stroke-width="0.6"/>
<path d="M98.5 167.1 Q101.1 163.3 103.7 167.1 Z" stroke="#5a5a5a" stroke-width="0.7" fill="#b8b8b8" />
<path d="M97.4 174.3 L97.4 168.9 L99 167.1 L103.2 167.1 L104.8 168.9 L104.8 174.3Z" stroke="#5a5a5a" stroke-width="0.8" fill="#fbfdfb"/>
<line x1="99.8" y1="167.3" x2="99.8" y2="174.3" stroke="#888" stroke-width="0.6"/>
<line x1="102.4" y1="167.3" x2="102.4" y2="174.3" stroke="#888" stroke-width="0.6"/>
<line x1="101.1" y1="167.3" x2="101.1" y2="175.3" stroke="#555" stroke-width="0.6"/>
<rect x="97.5" y="183.4" width="7.2" height="4.2" stroke="#5a5a5a" stroke-width="0.8" fill="#fbfdfb"/>
<line x1="99.9" y1="183.4" x2="99.9" y2="187.6" stroke="#8a8a8a" stroke-width="0.6"/>
<line x1="102.3" y1="183.4" x2="102.3" y2="187.6" stroke="#8a8a8a" stroke-width="0.6"/>
<rect x="97.5" y="704.9" width="7.2" height="4.5" stroke="#5a5a5a" stroke-width="0.8" fill="#fbfdfb"/>
<line x1="99.9" y1="704.9" x2="99.9" y2="709.4" stroke="#8a8a8a" stroke-width="0.6"/>
<line x1="102.3" y1="704.9" x2="102.3" y2="709.4" stroke="#8a8a8a" stroke-width="0.6"/>
<path d="M97.4 718.2 L97.4 724.2 L99 725.8 L103.2 725.8 L104.8 724.2 L104.8 718.2Z" stroke="#5a5a5a" stroke-width="0.8" fill="#fbfdfb"/>
<line x1="99.8" y1="718.2" x2="99.8" y2="725.6" stroke="#888" stroke-width="0.6"/>
<line x1="102.4" y1="718.2" x2="102.4" y2="725.6" stroke="#888" stroke-width="0.6"/>
<path d="M98.5 725.8 Q101.1 728.8 103.7 725.8 Z" stroke="#5a5a5a" stroke-width="0.7" fill="#b8b8b8" />
<line x1="101.1" y1="717.2" x2="101.1" y2="726.2" stroke="#555" stroke-width="0.6"/>
<path d="M327.5 167.1 Q330.1 163.3 332.7 167.1 Z" stroke="#5a5a5a" stroke-width="0.7" fill="#b8b8b8" />
<path d="M326.4 174.3 L326.4 168.9 L328 167.1 L332.2 167.1 L333.8 168.9 L333.8 174.3Z" stroke="#5a5a5a" stroke-width="0.8" fill="#fbfdfb"/>
<line x1="328.8" y1="167.3" x2="328.8" y2="174.3" stroke="#888" stroke-width="0.6"/>
<line x1="331.4" y1="167.3" x2="331.4" y2="174.3" stroke="#888" stroke-width="0.6"/>
<line x1="330.1" y1="167.3" x2="330.1" y2="175.3" stroke="#555" stroke-width="0.6"/>
<rect x="326.5" y="183.4" width="7.2" height="4.2" stroke="#5a5a5a" stroke-width="0.8" fill="#fbfdfb"/>
<line x1="328.9" y1="183.4" x2="328.9" y2="187.6" stroke="#8a8a8a" stroke-width="0.6"/>
<line x1="331.3" y1="183.4" x2="331.3" y2="187.6" stroke="#8a8a8a" stroke-width="0.6"/>
<rect x="326.5" y="704.9" width="7.2" height="4.5" stroke="#5a5a5a" stroke-width="0.8" fill="#fbfdfb"/>
<line x1="328.9" y1="704.9" x2="328.9" y2="709.4" stroke="#8a8a8a" stroke-width="0.6"/>
<line x1="331.3" y1="704.9" x2="331.3" y2="709.4" stroke="#8a8a8a" stroke-width="0.6"/>
<path d="M326.4 718.2 L326.4 724.2 L328 725.8 L332.2 725.8 L333.8 724.2 L333.8 718.2Z" stroke="#5a5a5a" stroke-width="0.8" fill="#fbfdfb"/>
<line x1="328.8" y1="718.2" x2="328.8" y2="725.6" stroke="#888" stroke-width="0.6"/>
<line x1="331.4" y1="718.2" x2="331.4" y2="725.6" stroke="#888" stroke-width="0.6"/>
<path d="M327.5 725.8 Q330.1 728.8 332.7 725.8 Z" stroke="#5a5a5a" stroke-width="0.7" fill="#b8b8b8" />
<line x1="330.1" y1="717.2" x2="330.1" y2="726.2" stroke="#555" stroke-width="0.6"/>
<path d="M77.5 167.1 Q80.1 163.3 82.7 167.1 Z" stroke="#5a5a5a" stroke-width="0.7" fill="#b8b8b8" />
<path d="M76.4 174.3 L76.4 168.9 L78 167.1 L82.2 167.1 L83.8 168.9 L83.8 174.3Z" stroke="#5a5a5a" stroke-width="0.8" fill="#fbfdfb"/>
<line x1="78.8" y1="167.3" x2="78.8" y2="174.3" stroke="#888" stroke-width="0.6"/>
<line x1="81.4" y1="167.3" x2="81.4" y2="174.3" stroke="#888" stroke-width="0.6"/>
<line x1="80.1" y1="167.3" x2="80.1" y2="175.3" stroke="#555" stroke-width="0.6"/>
<rect x="76.5" y="183.4" width="7.2" height="4.2" stroke="#5a5a5a" stroke-width="0.8" fill="#fbfdfb"/>
<line x1="78.9" y1="183.4" x2="78.9" y2="187.6" stroke="#8a8a8a" stroke-width="0.6"/>
<line x1="81.3" y1="183.4" x2="81.3" y2="187.6" stroke="#8a8a8a" stroke-width="0.6"/>
<rect x="76.5" y="704.9" width="7.2" height="4.5" stroke="#5a5a5a" stroke-width="0.8" fill="#fbfdfb"/>
<line x1="78.9" y1="704.9" x2="78.9" y2="709.4" stroke="#8a8a8a" stroke-width="0.6"/>
<line x1="81.3" y1="704.9" x2="81.3" y2="709.4" stroke="#8a8a8a" stroke-width="0.6"/>
<path d="M76.4 718.2 L76.4 724.2 L78 725.8 L82.2 725.8 L83.8 724.2 L83.8 718.2Z" stroke="#5a5a5a" stroke-width="0.8" fill="#fbfdfb"/>
<line x1="78.8" y1="718.2" x2="78.8" y2="725.6" stroke="#888" stroke-width="0.6"/>
<line x1="81.4" y1="718.2" x2="81.4" y2="725.6" stroke="#888" stroke-width="0.6"/>
<path d="M77.5 725.8 Q80.1 728.8 82.7 725.8 Z" stroke="#5a5a5a" stroke-width="0.7" fill="#b8b8b8" />
<line x1="80.1" y1="717.2" x2="80.1" y2="726.2" stroke="#555" stroke-width="0.6"/>
<path d="M348.5 167.1 Q351.1 163.3 353.7 167.1 Z" stroke="#5a5a5a" stroke-width="0.7" fill="#b8b8b8" />
<path d="M347.4 174.3 L347.4 168.9 L349 167.1 L353.2 167.1 L354.8 168.9 L354.8 174.3Z" stroke="#5a5a5a" stroke-width="0.8" fill="#fbfdfb"/>
<line x1="349.8" y1="167.3" x2="349.8" y2="174.3" stroke="#888" stroke-width="0.6"/>
<line x1="352.4" y1="167.3" x2="352.4" y2="174.3" stroke="#888" stroke-width="0.6"/>
<line x1="351.1" y1="167.3" x2="351.1" y2="175.3" stroke="#555" stroke-width="0.6"/>
<rect x="347.5" y="183.4" width="7.2" height="4.2" stroke="#5a5a5a" stroke-width="0.8" fill="#fbfdfb"/>
<line x1="349.9" y1="183.4" x2="349.9" y2="187.6" stroke="#8a8a8a" stroke-width="0.6"/>
<line x1="352.3" y1="183.4" x2="352.3" y2="187.6" stroke="#8a8a8a" stroke-width="0.6"/>
<rect x="347.5" y="704.9" width="7.2" height="4.5" stroke="#5a5a5a" stroke-width="0.8" fill="#fbfdfb"/>
<line x1="349.9" y1="704.9" x2="349.9" y2="709.4" stroke="#8a8a8a" stroke-width="0.6"/>
<line x1="352.3" y1="704.9" x2="352.3" y2="709.4" stroke="#8a8a8a" stroke-width="0.6"/>
<path d="M347.4 718.2 L347.4 724.2 L349 725.8 L353.2 725.8 L354.8 724.2 L354.8 718.2Z" stroke="#5a5a5a" stroke-width="0.8" fill="#fbfdfb"/>
<line x1="349.8" y1="718.2" x2="349.8" y2="725.6" stroke="#888" stroke-width="0.6"/>
<line x1="352.4" y1="718.2" x2="352.4" y2="725.6" stroke="#888" stroke-width="0.6"/>
<path d="M348.5 725.8 Q351.1 728.8 353.7 725.8 Z" stroke="#5a5a5a" stroke-width="0.7" fill="#b8b8b8" />
<line x1="351.1" y1="717.2" x2="351.1" y2="726.2" stroke="#555" stroke-width="0.6"/>
<path d="M59.3 167.1 Q61.9 163.3 64.5 167.1 Z" stroke="#5a5a5a" stroke-width="0.7" fill="#b8b8b8" />
<path d="M58.2 174.3 L58.2 168.9 L59.8 167.1 L64 167.1 L65.6 168.9 L65.6 174.3Z" stroke="#5a5a5a" stroke-width="0.8" fill="#fbfdfb"/>
<line x1="60.6" y1="167.3" x2="60.6" y2="174.3" stroke="#888" stroke-width="0.6"/>
<line x1="63.2" y1="167.3" x2="63.2" y2="174.3" stroke="#888" stroke-width="0.6"/>
<line x1="61.9" y1="167.3" x2="61.9" y2="175.3" stroke="#555" stroke-width="0.6"/>
<rect x="58.3" y="183.4" width="7.2" height="4.2" stroke="#5a5a5a" stroke-width="0.8" fill="#fbfdfb"/>
<line x1="60.7" y1="183.4" x2="60.7" y2="187.6" stroke="#8a8a8a" stroke-width="0.6"/>
<line x1="63.1" y1="183.4" x2="63.1" y2="187.6" stroke="#8a8a8a" stroke-width="0.6"/>
<rect x="58.3" y="704.9" width="7.2" height="4.5" stroke="#5a5a5a" stroke-width="0.8" fill="#fbfdfb"/>
<line x1="60.7" y1="704.9" x2="60.7" y2="709.4" stroke="#8a8a8a" stroke-width="0.6"/>
<line x1="63.1" y1="704.9" x2="63.1" y2="709.4" stroke="#8a8a8a" stroke-width="0.6"/>
<path d="M58.2 718.2 L58.2 724.2 L59.8 725.8 L64 725.8 L65.6 724.2 L65.6 718.2Z" stroke="#5a5a5a" stroke-width="0.8" fill="#fbfdfb"/>
<line x1="60.6" y1="718.2" x2="60.6" y2="725.6" stroke="#888" stroke-width="0.6"/>
<line x1="63.2" y1="718.2" x2="63.2" y2="725.6" stroke="#888" stroke-width="0.6"/>
<path d="M59.3 725.8 Q61.9 728.8 64.5 725.8 Z" stroke="#5a5a5a" stroke-width="0.7" fill="#b8b8b8" />
<line x1="61.9" y1="717.2" x2="61.9" y2="726.2" stroke="#555" stroke-width="0.6"/>
<path d="M366.7 167.1 Q369.3 163.3 371.9 167.1 Z" stroke="#5a5a5a" stroke-width="0.7" fill="#b8b8b8" />
<path d="M365.6 174.3 L365.6 168.9 L367.2 167.1 L371.4 167.1 L373 168.9 L373 174.3Z" stroke="#5a5a5a" stroke-width="0.8" fill="#fbfdfb"/>
<line x1="368" y1="167.3" x2="368" y2="174.3" stroke="#888" stroke-width="0.6"/>
<line x1="370.6" y1="167.3" x2="370.6" y2="174.3" stroke="#888" stroke-width="0.6"/>
<line x1="369.3" y1="167.3" x2="369.3" y2="175.3" stroke="#555" stroke-width="0.6"/>
<rect x="365.7" y="183.4" width="7.2" height="4.2" stroke="#5a5a5a" stroke-width="0.8" fill="#fbfdfb"/>
<line x1="368.1" y1="183.4" x2="368.1" y2="187.6" stroke="#8a8a8a" stroke-width="0.6"/>
<line x1="370.5" y1="183.4" x2="370.5" y2="187.6" stroke="#8a8a8a" stroke-width="0.6"/>
<rect x="365.7" y="704.9" width="7.2" height="4.5" stroke="#5a5a5a" stroke-width="0.8" fill="#fbfdfb"/>
<line x1="368.1" y1="704.9" x2="368.1" y2="709.4" stroke="#8a8a8a" stroke-width="0.6"/>
<line x1="370.5" y1="704.9" x2="370.5" y2="709.4" stroke="#8a8a8a" stroke-width="0.6"/>
<path d="M365.6 718.2 L365.6 724.2 L367.2 725.8 L371.4 725.8 L373 724.2 L373 718.2Z" stroke="#5a5a5a" stroke-width="0.8" fill="#fbfdfb"/>
<line x1="368" y1="718.2" x2="368" y2="725.6" stroke="#888" stroke-width="0.6"/>
<line x1="370.6" y1="718.2" x2="370.6" y2="725.6" stroke="#888" stroke-width="0.6"/>
<path d="M366.7 725.8 Q369.3 728.8 371.9 725.8 Z" stroke="#5a5a5a" stroke-width="0.7" fill="#b8b8b8" />
<line x1="369.3" y1="717.2" x2="369.3" y2="726.2" stroke="#555" stroke-width="0.6"/>
<path d="M40.2 167.1 Q42.8 163.3 45.4 167.1 Z" stroke="#5a5a5a" stroke-width="0.7" fill="#b8b8b8" />
<path d="M39.1 174.3 L39.1 168.9 L40.7 167.1 L44.9 167.1 L46.5 168.9 L46.5 174.3Z" stroke="#5a5a5a" stroke-width="0.8" fill="#fbfdfb"/>
<line x1="41.5" y1="167.3" x2="41.5" y2="174.3" stroke="#888" stroke-width="0.6"/>
<line x1="44.1" y1="167.3" x2="44.1" y2="174.3" stroke="#888" stroke-width="0.6"/>
<line x1="42.8" y1="167.3" x2="42.8" y2="175.3" stroke="#555" stroke-width="0.6"/>
<rect x="39.2" y="183.4" width="7.2" height="4.2" stroke="#5a5a5a" stroke-width="0.8" fill="#fbfdfb"/>
<line x1="41.6" y1="183.4" x2="41.6" y2="187.6" stroke="#8a8a8a" stroke-width="0.6"/>
<line x1="44" y1="183.4" x2="44" y2="187.6" stroke="#8a8a8a" stroke-width="0.6"/>
<rect x="39.2" y="704.9" width="7.2" height="4.5" stroke="#5a5a5a" stroke-width="0.8" fill="#fbfdfb"/>
<line x1="41.6" y1="704.9" x2="41.6" y2="709.4" stroke="#8a8a8a" stroke-width="0.6"/>
<line x1="44" y1="704.9" x2="44" y2="709.4" stroke="#8a8a8a" stroke-width="0.6"/>
<path d="M39.1 718.2 L39.1 724.2 L40.7 725.8 L44.9 725.8 L46.5 724.2 L46.5 718.2Z" stroke="#5a5a5a" stroke-width="0.8" fill="#fbfdfb"/>
<line x1="41.5" y1="718.2" x2="41.5" y2="725.6" stroke="#888" stroke-width="0.6"/>
<line x1="44.1" y1="718.2" x2="44.1" y2="725.6" stroke="#888" stroke-width="0.6"/>
<path d="M40.2 725.8 Q42.8 728.8 45.4 725.8 Z" stroke="#5a5a5a" stroke-width="0.7" fill="#b8b8b8" />
<line x1="42.8" y1="717.2" x2="42.8" y2="726.2" stroke="#555" stroke-width="0.6"/>
<path d="M385.8 167.1 Q388.4 163.3 391 167.1 Z" stroke="#5a5a5a" stroke-width="0.7" fill="#b8b8b8" />
<path d="M384.7 174.3 L384.7 168.9 L386.3 167.1 L390.5 167.1 L392.1 168.9 L392.1 174.3Z" stroke="#5a5a5a" stroke-width="0.8" fill="#fbfdfb"/>
<line x1="387.1" y1="167.3" x2="387.1" y2="174.3" stroke="#888" stroke-width="0.6"/>
<line x1="389.7" y1="167.3" x2="389.7" y2="174.3" stroke="#888" stroke-width="0.6"/>
<line x1="388.4" y1="167.3" x2="388.4" y2="175.3" stroke="#555" stroke-width="0.6"/>
<rect x="384.8" y="183.4" width="7.2" height="4.2" stroke="#5a5a5a" stroke-width="0.8" fill="#fbfdfb"/>
<line x1="387.2" y1="183.4" x2="387.2" y2="187.6" stroke="#8a8a8a" stroke-width="0.6"/>
<line x1="389.6" y1="183.4" x2="389.6" y2="187.6" stroke="#8a8a8a" stroke-width="0.6"/>
<rect x="384.8" y="704.9" width="7.2" height="4.5" stroke="#5a5a5a" stroke-width="0.8" fill="#fbfdfb"/>
<line x1="387.2" y1="704.9" x2="387.2" y2="709.4" stroke="#8a8a8a" stroke-width="0.6"/>
<line x1="389.6" y1="704.9" x2="389.6" y2="709.4" stroke="#8a8a8a" stroke-width="0.6"/>
<path d="M384.7 718.2 L384.7 724.2 L386.3 725.8 L390.5 725.8 L392.1 724.2 L392.1 718.2Z" stroke="#5a5a5a" stroke-width="0.8" fill="#fbfdfb"/>
<line x1="387.1" y1="718.2" x2="387.1" y2="725.6" stroke="#888" stroke-width="0.6"/>
<line x1="389.7" y1="718.2" x2="389.7" y2="725.6" stroke="#888" stroke-width="0.6"/>
<path d="M385.8 725.8 Q388.4 728.8 391 725.8 Z" stroke="#5a5a5a" stroke-width="0.7" fill="#b8b8b8" />
<line x1="388.4" y1="717.2" x2="388.4" y2="726.2" stroke="#555" stroke-width="0.6"/>
<path d="M25.5 162.5 Q28.1 158.5 30.7 162.5 Z" stroke="#5a5a5a" stroke-width="0.7" fill="#b8b8b8" />
<path d="M23.9 172.3 L23.9 164.2 L25.5 162.5 L30.7 162.5 L32.3 164.2 L32.3 172.3Z" stroke="#5a5a5a" stroke-width="0.8" fill="#fbfdfb"/>
<rect x="23.1" y="172.3" width="10" height="2" stroke="#5a5a5a" stroke-width="0.7" fill="#fbfdfb"/>
<line x1="26.7" y1="162.5" x2="26.7" y2="172.3" stroke="#888" stroke-width="0.6"/>
<line x1="29.5" y1="162.5" x2="29.5" y2="172.3" stroke="#888" stroke-width="0.6"/>
<rect x="24.1" y="718.2" width="8" height="9" stroke="#5a5a5a" stroke-width="0.8" fill="#fbfdfb"/>
<line x1="26.8" y1="718.2" x2="26.8" y2="727.2" stroke="#8a8a8a" stroke-width="0.6"/>
<line x1="29.4" y1="718.2" x2="29.4" y2="727.2" stroke="#8a8a8a" stroke-width="0.6"/>
<path d="M26.1 727.2 Q28.1 731.5 30.1 727.2" stroke="#5a5a5a" stroke-width="0.8" fill="none" />
<path d="M400.5 162.5 Q403.1 158.5 405.7 162.5 Z" stroke="#5a5a5a" stroke-width="0.7" fill="#b8b8b8" />
<path d="M398.9 172.3 L398.9 164.2 L400.5 162.5 L405.7 162.5 L407.3 164.2 L407.3 172.3Z" stroke="#5a5a5a" stroke-width="0.8" fill="#fbfdfb"/>
<rect x="398.1" y="172.3" width="10" height="2" stroke="#5a5a5a" stroke-width="0.7" fill="#fbfdfb"/>
<line x1="401.7" y1="162.5" x2="401.7" y2="172.3" stroke="#888" stroke-width="0.6"/>
<line x1="404.5" y1="162.5" x2="404.5" y2="172.3" stroke="#888" stroke-width="0.6"/>
<rect x="399.1" y="718.2" width="8" height="9" stroke="#5a5a5a" stroke-width="0.8" fill="#fbfdfb"/>
<line x1="401.8" y1="718.2" x2="401.8" y2="727.2" stroke="#8a8a8a" stroke-width="0.6"/>
<line x1="404.4" y1="718.2" x2="404.4" y2="727.2" stroke="#8a8a8a" stroke-width="0.6"/>
<path d="M401.1 727.2 Q403.1 731.5 405.1 727.2" stroke="#5a5a5a" stroke-width="0.8" fill="none" />
<line x1="748.2" y1="184" x2="748.2" y2="710" stroke="#cccccc" stroke-width="1.1" stroke-dasharray="35.5 1.6 1.6 1.6" stroke-dashoffset="36.5"/>
<line x1="755.5" y1="184" x2="755.5" y2="710" stroke="#a8a8a8" stroke-width="1.1" stroke-dasharray="35.5 1.6 1.6 1.6" stroke-dashoffset="36.5"/>
<line x1="762.7" y1="184" x2="762.7" y2="710" stroke="#bcbcbc" stroke-width="1.1" stroke-dasharray="35.5 1.6 1.6 1.6" stroke-dashoffset="36.5"/>
<line x1="770" y1="184" x2="770" y2="710" stroke="#b4b4b4" stroke-width="1.1" stroke-dasharray="35.5 1.6 1.6 1.6" stroke-dashoffset="36.5"/>
<line x1="777.2" y1="184" x2="777.2" y2="710" stroke="#a0a0a0" stroke-width="1.1" stroke-dasharray="35.5 1.6 1.6 1.6" stroke-dashoffset="36.5"/>
<line x1="784.5" y1="184" x2="784.5" y2="710" stroke="#8e8e8e" stroke-width="1.1" stroke-dasharray="35.5 1.6 1.6 1.6" stroke-dashoffset="36.5"/>
<line x1="791.7" y1="184" x2="791.7" y2="710" stroke="#c4c4c4" stroke-width="1.1" stroke-dasharray="35.5 1.6 1.6 1.6" stroke-dashoffset="36.5"/>
<line x1="799" y1="184" x2="799" y2="710" stroke="#c8c8c8" stroke-width="1.1" stroke-dasharray="35.5 1.6 1.6 1.6" stroke-dashoffset="36.5"/>
<line x1="806.2" y1="184" x2="806.2" y2="710" stroke="#cccccc" stroke-width="1.1" stroke-dasharray="35.5 1.6 1.6 1.6" stroke-dashoffset="36.5"/>
<line x1="813.5" y1="184" x2="813.5" y2="710" stroke="#a8a8a8" stroke-width="1.1" stroke-dasharray="35.5 1.6 1.6 1.6" stroke-dashoffset="36.5"/>
<line x1="820.7" y1="184" x2="820.7" y2="710" stroke="#bcbcbc" stroke-width="1.1" stroke-dasharray="35.5 1.6 1.6 1.6" stroke-dashoffset="36.5"/>
<line x1="828" y1="184" x2="828" y2="710" stroke="#b4b4b4" stroke-width="1.1" stroke-dasharray="35.5 1.6 1.6 1.6" stroke-dashoffset="36.5"/>
<line x1="835.2" y1="184" x2="835.2" y2="710" stroke="#a0a0a0" stroke-width="1.1" stroke-dasharray="35.5 1.6 1.6 1.6" stroke-dashoffset="36.5"/>
<line x1="842.5" y1="184" x2="842.5" y2="710" stroke="#8e8e8e" stroke-width="1.1" stroke-dasharray="35.5 1.6 1.6 1.6" stroke-dashoffset="36.5"/>
<line x1="849.7" y1="184" x2="849.7" y2="710" stroke="#c4c4c4" stroke-width="1.1" stroke-dasharray="35.5 1.6 1.6 1.6" stroke-dashoffset="36.5"/>
<line x1="857" y1="184" x2="857" y2="710" stroke="#c8c8c8" stroke-width="1.1" stroke-dasharray="35.5 1.6 1.6 1.6" stroke-dashoffset="36.5"/>
<line x1="864.2" y1="184" x2="864.2" y2="710" stroke="#cccccc" stroke-width="1.1" stroke-dasharray="35.5 1.6 1.6 1.6" stroke-dashoffset="36.5"/>
<line x1="871.5" y1="184" x2="871.5" y2="710" stroke="#a8a8a8" stroke-width="1.1" stroke-dasharray="35.5 1.6 1.6 1.6" stroke-dashoffset="36.5"/>
<line x1="878.7" y1="184" x2="878.7" y2="710" stroke="#bcbcbc" stroke-width="1.1" stroke-dasharray="35.5 1.6 1.6 1.6" stroke-dashoffset="36.5"/>
<line x1="886" y1="184" x2="886" y2="710" stroke="#b4b4b4" stroke-width="1.1" stroke-dasharray="35.5 1.6 1.6 1.6" stroke-dashoffset="36.5"/>
<line x1="893.2" y1="184" x2="893.2" y2="710" stroke="#a0a0a0" stroke-width="1.1" stroke-dasharray="35.5 1.6 1.6 1.6" stroke-dashoffset="36.5"/>
<line x1="900.5" y1="184" x2="900.5" y2="710" stroke="#8e8e8e" stroke-width="1.1" stroke-dasharray="35.5 1.6 1.6 1.6" stroke-dashoffset="36.5"/>
<line x1="907.7" y1="184" x2="907.7" y2="710" stroke="#c4c4c4" stroke-width="1.1" stroke-dasharray="35.5 1.6 1.6 1.6" stroke-dashoffset="36.5"/>
<line x1="915" y1="184" x2="915" y2="710" stroke="#c8c8c8" stroke-width="1.1" stroke-dasharray="35.5 1.6 1.6 1.6" stroke-dashoffset="36.5"/>
<line x1="922.2" y1="184" x2="922.2" y2="710" stroke="#cccccc" stroke-width="1.1" stroke-dasharray="35.5 1.6 1.6 1.6" stroke-dashoffset="36.5"/>
<line x1="929.5" y1="184" x2="929.5" y2="710" stroke="#a8a8a8" stroke-width="1.1" stroke-dasharray="35.5 1.6 1.6 1.6" stroke-dashoffset="36.5"/>
<line x1="936.7" y1="184" x2="936.7" y2="710" stroke="#bcbcbc" stroke-width="1.1" stroke-dasharray="35.5 1.6 1.6 1.6" stroke-dashoffset="36.5"/>
<line x1="944" y1="184" x2="944" y2="710" stroke="#b4b4b4" stroke-width="1.1" stroke-dasharray="35.5 1.6 1.6 1.6" stroke-dashoffset="36.5"/>
<line x1="951.2" y1="184" x2="951.2" y2="710" stroke="#a0a0a0" stroke-width="1.1" stroke-dasharray="35.5 1.6 1.6 1.6" stroke-dashoffset="36.5"/>
<line x1="958.5" y1="184" x2="958.5" y2="710" stroke="#8e8e8e" stroke-width="1.1" stroke-dasharray="35.5 1.6 1.6 1.6" stroke-dashoffset="36.5"/>
<line x1="965.7" y1="184" x2="965.7" y2="710" stroke="#c4c4c4" stroke-width="1.1" stroke-dasharray="35.5 1.6 1.6 1.6" stroke-dashoffset="36.5"/>
<line x1="973" y1="184" x2="973" y2="710" stroke="#c8c8c8" stroke-width="1.1" stroke-dasharray="35.5 1.6 1.6 1.6" stroke-dashoffset="36.5"/>
<line x1="980.2" y1="184" x2="980.2" y2="710" stroke="#cccccc" stroke-width="1.1" stroke-dasharray="35.5 1.6 1.6 1.6" stroke-dashoffset="36.5"/>
<line x1="987.5" y1="184" x2="987.5" y2="710" stroke="#a8a8a8" stroke-width="1.1" stroke-dasharray="35.5 1.6 1.6 1.6" stroke-dashoffset="36.5"/>
<line x1="994.7" y1="184" x2="994.7" y2="710" stroke="#bcbcbc" stroke-width="1.1" stroke-dasharray="35.5 1.6 1.6 1.6" stroke-dashoffset="36.5"/>
<line x1="1002" y1="184" x2="1002" y2="710" stroke="#b4b4b4" stroke-width="1.1" stroke-dasharray="35.5 1.6 1.6 1.6" stroke-dashoffset="36.5"/>
<line x1="1009.2" y1="184" x2="1009.2" y2="710" stroke="#a0a0a0" stroke-width="1.1" stroke-dasharray="35.5 1.6 1.6 1.6" stroke-dashoffset="36.5"/>
<line x1="1016.5" y1="184" x2="1016.5" y2="710" stroke="#8e8e8e" stroke-width="1.1" stroke-dasharray="35.5 1.6 1.6 1.6" stroke-dashoffset="36.5"/>
<line x1="1023.7" y1="184" x2="1023.7" y2="710" stroke="#c4c4c4" stroke-width="1.1" stroke-dasharray="35.5 1.6 1.6 1.6" stroke-dashoffset="36.5"/>
<line x1="1031" y1="184" x2="1031" y2="710" stroke="#c8c8c8" stroke-width="1.1" stroke-dasharray="35.5 1.6 1.6 1.6" stroke-dashoffset="36.5"/>
<line x1="1038.2" y1="184" x2="1038.2" y2="710" stroke="#cccccc" stroke-width="1.1" stroke-dasharray="35.5 1.6 1.6 1.6" stroke-dashoffset="36.5"/>
<line x1="1045.5" y1="184" x2="1045.5" y2="710" stroke="#a8a8a8" stroke-width="1.1" stroke-dasharray="35.5 1.6 1.6 1.6" stroke-dashoffset="36.5"/>
<line x1="1052.7" y1="184" x2="1052.7" y2="710" stroke="#bcbcbc" stroke-width="1.1" stroke-dasharray="35.5 1.6 1.6 1.6" stroke-dashoffset="36.5"/>
<line x1="734" y1="184" x2="734" y2="710" stroke="#4a4a4a" stroke-width="1.4"/>
<line x1="741" y1="184" x2="741" y2="710" stroke="#4a4a4a" stroke-width="1.4"/>
<line x1="1060" y1="184" x2="1060" y2="710" stroke="#4a4a4a" stroke-width="1.4"/>
<line x1="1067" y1="184" x2="1067" y2="710" stroke="#4a4a4a" stroke-width="1.4"/>
<line x1="730" y1="220" x2="730" y2="675" stroke="#5a5a5a" stroke-width="0.8"/>
<line x1="1071.6" y1="217" x2="1071.6" y2="675" stroke="#5a5a5a" stroke-width="0.8"/>
<line x1="730" y1="185.8" x2="1071.6" y2="185.8" stroke="#666" stroke-width="0.9"/>
<line x1="730" y1="190.1" x2="1071.6" y2="190.1" stroke="#555" stroke-width="1"/>
<line x1="730" y1="196.4" x2="1071.6" y2="196.4" stroke="#555" stroke-width="1"/>
<line x1="730" y1="203.9" x2="1071.6" y2="203.9" stroke="#666" stroke-width="1"/>
<line x1="730" y1="210.8" x2="1071.6" y2="210.8" stroke="#333" stroke-width="1.4"/>
<line x1="730" y1="217.7" x2="1071.6" y2="217.7" stroke="#555" stroke-width="1"/>
<line x1="730" y1="220.8" x2="1071.6" y2="220.8" stroke="#888" stroke-width="1"/>
<line x1="730" y1="224.6" x2="1071.6" y2="224.6" stroke="#666" stroke-width="1"/>
<line x1="730" y1="228.3" x2="1071.6" y2="228.3" stroke="#444" stroke-width="1.1"/>
<line x1="730" y1="662.6" x2="1071.6" y2="662.6" stroke="#555" stroke-width="1"/>
<line x1="730" y1="666.5" x2="1071.6" y2="666.5" stroke="#777" stroke-width="1"/>
<line x1="730" y1="670.5" x2="1071.6" y2="670.5" stroke="#555" stroke-width="1"/>
<line x1="730" y1="676.5" x2="1071.6" y2="676.5" stroke="#444" stroke-width="1.2"/>
<line x1="730" y1="683" x2="1071.6" y2="683" stroke="#666" stroke-width="1"/>
<line x1="730" y1="689.5" x2="1071.6" y2="689.5" stroke="#555" stroke-width="1"/>
<line x1="730" y1="696" x2="1071.6" y2="696" stroke="#666" stroke-width="1"/>
<line x1="730" y1="702.5" x2="1071.6" y2="702.5" stroke="#555" stroke-width="1"/>
<line x1="730" y1="707.5" x2="1071.6" y2="707.5" stroke="#555" stroke-width="1"/>
<line x1="900.6" y1="82" x2="900.6" y2="795" stroke="#999" stroke-width="0.6" stroke-dasharray="14 2 2 2"/>
<line x1="708.4" y1="182" x2="708.4" y2="712" stroke="#3a3a3a" stroke-width="1"/>
<line x1="719.1" y1="182" x2="719.1" y2="712" stroke="#5a5a5a" stroke-width="0.9"/>
<line x1="713.8" y1="195" x2="713.8" y2="700" stroke="#aaa" stroke-width="0.5" stroke-dasharray="10 2 2 2"/>
<path d="M719.1 203.5 L729.6 218 L729.6 272" stroke="#5a5a5a" stroke-width="0.9" fill="none"/>
<path d="M729.6 602 L729.6 675 L719.1 690" stroke="#5a5a5a" stroke-width="0.9" fill="none"/>
<circle cx="713.8" cy="209" r="2.3" stroke="#5a5a5a" stroke-width="0.8" fill="none"/>
<circle cx="713.8" cy="289" r="2.3" stroke="#5a5a5a" stroke-width="0.8" fill="none"/>
<rect x="711.5" y="302" width="4.4" height="15" stroke="#5a5a5a" stroke-width="0.8" fill="none" rx="2.2"/>
<rect x="711.5" y="336" width="4.4" height="15" stroke="#5a5a5a" stroke-width="0.8" fill="none" rx="2.2"/>
<circle cx="713.8" cy="446" r="2.2" stroke="#5a5a5a" stroke-width="0.8" fill="none"/>
<circle cx="713.8" cy="604" r="2.3" stroke="#5a5a5a" stroke-width="0.8" fill="none"/>
<rect x="711.5" y="661" width="4.4" height="26" stroke="#5a5a5a" stroke-width="0.8" fill="none" rx="2.2"/>
<rect x="719.1" y="264" width="4" height="8" stroke="#5a5a5a" stroke-width="0.7" fill="none"/>
<rect x="719.1" y="666" width="4" height="8" stroke="#5a5a5a" stroke-width="0.7" fill="none"/>
<line x1="1092.8" y1="182" x2="1092.8" y2="712" stroke="#3a3a3a" stroke-width="1"/>
<line x1="1082.1" y1="182" x2="1082.1" y2="712" stroke="#5a5a5a" stroke-width="0.9"/>
<line x1="1087.4" y1="195" x2="1087.4" y2="700" stroke="#aaa" stroke-width="0.5" stroke-dasharray="10 2 2 2"/>
<path d="M1082.1 203.5 L1071.6 218 L1071.6 272" stroke="#5a5a5a" stroke-width="0.9" fill="none"/>
<path d="M1071.6 602 L1071.6 675 L1082.1 690" stroke="#5a5a5a" stroke-width="0.9" fill="none"/>
<circle cx="1087.4" cy="209" r="2.3" stroke="#5a5a5a" stroke-width="0.8" fill="none"/>
<circle cx="1087.4" cy="289" r="2.3" stroke="#5a5a5a" stroke-width="0.8" fill="none"/>
<rect x="1085.2" y="302" width="4.4" height="15" stroke="#5a5a5a" stroke-width="0.8" fill="none" rx="2.2"/>
<rect x="1085.2" y="336" width="4.4" height="15" stroke="#5a5a5a" stroke-width="0.8" fill="none" rx="2.2"/>
<circle cx="1087.4" cy="446" r="2.2" stroke="#5a5a5a" stroke-width="0.8" fill="none"/>
<circle cx="1087.4" cy="604" r="2.3" stroke="#5a5a5a" stroke-width="0.8" fill="none"/>
<rect x="1085.2" y="661" width="4.4" height="26" stroke="#5a5a5a" stroke-width="0.8" fill="none" rx="2.2"/>
<rect x="1078.1" y="264" width="4" height="8" stroke="#5a5a5a" stroke-width="0.7" fill="none"/>
<rect x="1078.1" y="666" width="4" height="8" stroke="#5a5a5a" stroke-width="0.7" fill="none"/>
<path d="M822.9 108 L757.4 108 L725.5 139 L725.5 163.5 L1076.8 163.5 A32.8 55.5 0 0 0 1044 108 Z" stroke="#5a5a5a" stroke-width="0.9" fill="#fbfdfb" />
<rect x="822.9" y="107.5" width="17.7" height="3.3" fill="#fbfdfb"/>
<rect x="822.9" y="160.2" width="17.7" height="3.8" fill="#fbfdfb"/>
<line x1="822.9" y1="111" x2="840.6" y2="111" stroke="#5a5a5a" stroke-width="0.8"/>
<line x1="822.9" y1="160" x2="840.6" y2="160" stroke="#5a5a5a" stroke-width="0.8"/>
<line x1="822.9" y1="111" x2="822.9" y2="160" stroke="#5a5a5a" stroke-width="0.8"/>
<line x1="840.6" y1="111" x2="840.6" y2="160" stroke="#5a5a5a" stroke-width="0.8"/>
<line x1="840.6" y1="108" x2="840.6" y2="163.5" stroke="#5a5a5a" stroke-width="0.8"/>
<line x1="860" y1="108" x2="860" y2="163.5" stroke="#5a5a5a" stroke-width="0.8"/>
<line x1="842.1" y1="109" x2="842.1" y2="162.5" stroke="#bbb" stroke-width="0.6"/>
<line x1="858.5" y1="109" x2="858.5" y2="162.5" stroke="#bbb" stroke-width="0.6"/>
<rect x="860" y="107.5" width="19.5" height="3.3" fill="#fbfdfb"/>
<rect x="860" y="160.2" width="19.5" height="3.8" fill="#fbfdfb"/>
<line x1="860" y1="111" x2="879.5" y2="111" stroke="#5a5a5a" stroke-width="0.8"/>
<line x1="860" y1="160" x2="879.5" y2="160" stroke="#5a5a5a" stroke-width="0.8"/>
<line x1="860" y1="111" x2="860" y2="160" stroke="#5a5a5a" stroke-width="0.8"/>
<line x1="879.5" y1="111" x2="879.5" y2="160" stroke="#5a5a5a" stroke-width="0.8"/>
<line x1="879.5" y1="108" x2="879.5" y2="163.5" stroke="#5a5a5a" stroke-width="0.8"/>
<line x1="921.7" y1="108" x2="921.7" y2="163.5" stroke="#5a5a5a" stroke-width="0.8"/>
<line x1="881" y1="109" x2="881" y2="162.5" stroke="#bbb" stroke-width="0.6"/>
<line x1="920.2" y1="109" x2="920.2" y2="162.5" stroke="#bbb" stroke-width="0.6"/>
<rect x="921.7" y="107.5" width="19.5" height="3.3" fill="#fbfdfb"/>
<rect x="921.7" y="160.2" width="19.5" height="3.8" fill="#fbfdfb"/>
<line x1="921.7" y1="111" x2="941.2" y2="111" stroke="#5a5a5a" stroke-width="0.8"/>
<line x1="921.7" y1="160" x2="941.2" y2="160" stroke="#5a5a5a" stroke-width="0.8"/>
<line x1="921.7" y1="111" x2="921.7" y2="160" stroke="#5a5a5a" stroke-width="0.8"/>
<line x1="941.2" y1="111" x2="941.2" y2="160" stroke="#5a5a5a" stroke-width="0.8"/>
<line x1="941.2" y1="108" x2="941.2" y2="163.5" stroke="#5a5a5a" stroke-width="0.8"/>
<line x1="960.6" y1="108" x2="960.6" y2="163.5" stroke="#5a5a5a" stroke-width="0.8"/>
<line x1="942.7" y1="109" x2="942.7" y2="162.5" stroke="#bbb" stroke-width="0.6"/>
<line x1="959.1" y1="109" x2="959.1" y2="162.5" stroke="#bbb" stroke-width="0.6"/>
<rect x="960.6" y="107.5" width="17.7" height="3.3" fill="#fbfdfb"/>
<rect x="960.6" y="160.2" width="17.7" height="3.8" fill="#fbfdfb"/>
<line x1="960.6" y1="111" x2="978.3" y2="111" stroke="#5a5a5a" stroke-width="0.8"/>
<line x1="960.6" y1="160" x2="978.3" y2="160" stroke="#5a5a5a" stroke-width="0.8"/>
<line x1="960.6" y1="111" x2="960.6" y2="160" stroke="#5a5a5a" stroke-width="0.8"/>
<line x1="978.3" y1="111" x2="978.3" y2="160" stroke="#5a5a5a" stroke-width="0.8"/>
<line x1="822.9" y1="108" x2="822.9" y2="163.5" stroke="#5a5a5a" stroke-width="0.8"/>
<line x1="978.3" y1="108" x2="978.3" y2="163.5" stroke="#5a5a5a" stroke-width="0.8"/>
<path d="M822.9 784.5 L756.6 784.5 A33 55.5 0 0 1 723.6 729 L1076.6 731.5 A33 53 0 0 1 1044 784.5 Z" stroke="#5a5a5a" stroke-width="0.9" fill="#fbfdfb" />
<rect x="822.9" y="729.5" width="17.7" height="4.3" fill="#fbfdfb"/>
<rect x="822.9" y="781.2" width="17.7" height="3.8" fill="#fbfdfb"/>
<line x1="822.9" y1="734" x2="840.6" y2="734" stroke="#5a5a5a" stroke-width="0.8"/>
<line x1="822.9" y1="781" x2="840.6" y2="781" stroke="#5a5a5a" stroke-width="0.8"/>
<line x1="822.9" y1="734" x2="822.9" y2="781" stroke="#5a5a5a" stroke-width="0.8"/>
<line x1="840.6" y1="734" x2="840.6" y2="781" stroke="#5a5a5a" stroke-width="0.8"/>
<line x1="840.6" y1="730" x2="840.6" y2="784.5" stroke="#5a5a5a" stroke-width="0.8"/>
<line x1="860" y1="730" x2="860" y2="784.5" stroke="#5a5a5a" stroke-width="0.8"/>
<line x1="842.1" y1="731" x2="842.1" y2="783.5" stroke="#bbb" stroke-width="0.6"/>
<line x1="858.5" y1="731" x2="858.5" y2="783.5" stroke="#bbb" stroke-width="0.6"/>
<rect x="860" y="729.5" width="19.5" height="4.3" fill="#fbfdfb"/>
<rect x="860" y="781.2" width="19.5" height="3.8" fill="#fbfdfb"/>
<line x1="860" y1="734" x2="879.5" y2="734" stroke="#5a5a5a" stroke-width="0.8"/>
<line x1="860" y1="781" x2="879.5" y2="781" stroke="#5a5a5a" stroke-width="0.8"/>
<line x1="860" y1="734" x2="860" y2="781" stroke="#5a5a5a" stroke-width="0.8"/>
<line x1="879.5" y1="734" x2="879.5" y2="781" stroke="#5a5a5a" stroke-width="0.8"/>
<line x1="879.5" y1="730" x2="879.5" y2="784.5" stroke="#5a5a5a" stroke-width="0.8"/>
<line x1="921.7" y1="730" x2="921.7" y2="784.5" stroke="#5a5a5a" stroke-width="0.8"/>
<line x1="881" y1="731" x2="881" y2="783.5" stroke="#bbb" stroke-width="0.6"/>
<line x1="920.2" y1="731" x2="920.2" y2="783.5" stroke="#bbb" stroke-width="0.6"/>
<rect x="921.7" y="729.5" width="19.5" height="4.3" fill="#fbfdfb"/>
<rect x="921.7" y="781.2" width="19.5" height="3.8" fill="#fbfdfb"/>
<line x1="921.7" y1="734" x2="941.2" y2="734" stroke="#5a5a5a" stroke-width="0.8"/>
<line x1="921.7" y1="781" x2="941.2" y2="781" stroke="#5a5a5a" stroke-width="0.8"/>
<line x1="921.7" y1="734" x2="921.7" y2="781" stroke="#5a5a5a" stroke-width="0.8"/>
<line x1="941.2" y1="734" x2="941.2" y2="781" stroke="#5a5a5a" stroke-width="0.8"/>
<line x1="941.2" y1="730" x2="941.2" y2="784.5" stroke="#5a5a5a" stroke-width="0.8"/>
<line x1="960.6" y1="730" x2="960.6" y2="784.5" stroke="#5a5a5a" stroke-width="0.8"/>
<line x1="942.7" y1="731" x2="942.7" y2="783.5" stroke="#bbb" stroke-width="0.6"/>
<line x1="959.1" y1="731" x2="959.1" y2="783.5" stroke="#bbb" stroke-width="0.6"/>
<rect x="960.6" y="729.5" width="17.7" height="4.3" fill="#fbfdfb"/>
<rect x="960.6" y="781.2" width="17.7" height="3.8" fill="#fbfdfb"/>
<line x1="960.6" y1="734" x2="978.3" y2="734" stroke="#5a5a5a" stroke-width="0.8"/>
<line x1="960.6" y1="781" x2="978.3" y2="781" stroke="#5a5a5a" stroke-width="0.8"/>
<line x1="960.6" y1="734" x2="960.6" y2="781" stroke="#5a5a5a" stroke-width="0.8"/>
<line x1="978.3" y1="734" x2="978.3" y2="781" stroke="#5a5a5a" stroke-width="0.8"/>
<line x1="822.9" y1="730" x2="822.9" y2="784.5" stroke="#5a5a5a" stroke-width="0.8"/>
<line x1="978.3" y1="730" x2="978.3" y2="784.5" stroke="#5a5a5a" stroke-width="0.8"/>
<rect x="883.6" y="784.5" width="34" height="2" stroke="#777" stroke-width="0.6" fill="#ccc"/>
<rect x="707" y="174.3" width="386.7" height="9.1" fill="#e4e4e4"/>
<rect x="707" y="177.3" width="386.7" height="3.4" fill="#5c5c5c"/>
<line x1="707" y1="174.3" x2="1093.7" y2="174.3" stroke="#555" stroke-width="0.9"/>
<line x1="707" y1="183.4" x2="1093.7" y2="183.4" stroke="#555" stroke-width="0.9"/>
<line x1="707" y1="177.3" x2="1093.7" y2="177.3" stroke="#444" stroke-width="0.6"/>
<line x1="707" y1="180.7" x2="1093.7" y2="180.7" stroke="#444" stroke-width="0.6"/>
<line x1="707" y1="174.3" x2="707" y2="183.4" stroke="#555" stroke-width="0.9"/>
<line x1="1093.7" y1="174.3" x2="1093.7" y2="183.4" stroke="#555" stroke-width="0.9"/>
<rect x="707" y="709.4" width="386.7" height="8.8" fill="#e4e4e4"/>
<rect x="707" y="712.2" width="386.7" height="3.4" fill="#5c5c5c"/>
<line x1="707" y1="709.4" x2="1093.7" y2="709.4" stroke="#555" stroke-width="0.9"/>
<line x1="707" y1="718.2" x2="1093.7" y2="718.2" stroke="#555" stroke-width="0.9"/>
<line x1="707" y1="712.2" x2="1093.7" y2="712.2" stroke="#444" stroke-width="0.6"/>
<line x1="707" y1="715.6" x2="1093.7" y2="715.6" stroke="#444" stroke-width="0.6"/>
<line x1="707" y1="709.4" x2="707" y2="718.2" stroke="#555" stroke-width="0.9"/>
<line x1="1093.7" y1="709.4" x2="1093.7" y2="718.2" stroke="#555" stroke-width="0.9"/>
<rect x="718.9" y="92" width="2.6" height="82" stroke="#666" stroke-width="0.8" fill="#fbfdfb" rx="1.3"/>
<rect x="1079.7" y="92" width="2.6" height="82" stroke="#666" stroke-width="0.8" fill="#fbfdfb" rx="1.3"/>
<path d="M881.6 96 L881.6 92 Q881.6 89.5 885.6 89.5 L916.6 89.5 Q920.6 89.5 921.1 92 L921.1 95 Q921.1 97.5 917.6 97.5 L884.6 97.5 Q881.6 97.5 881.6 96 Z" stroke="#5a5a5a" stroke-width="0.9" fill="#fbfdfb" />
<rect x="887.1" y="97.5" width="27" height="10.5" stroke="#5a5a5a" stroke-width="0.8" fill="#fbfdfb"/>
<line x1="894.6" y1="88" x2="906.6" y2="88" stroke="#777" stroke-width="0.8"/>
<path d="M887.4 167.1 Q890 163.3 892.6 167.1 Z" stroke="#5a5a5a" stroke-width="0.7" fill="#b8b8b8" />
<path d="M886.3 174.3 L886.3 168.9 L887.9 167.1 L892.1 167.1 L893.7 168.9 L893.7 174.3Z" stroke="#5a5a5a" stroke-width="0.8" fill="#fbfdfb"/>
<line x1="888.7" y1="167.3" x2="888.7" y2="174.3" stroke="#888" stroke-width="0.6"/>
<line x1="891.3" y1="167.3" x2="891.3" y2="174.3" stroke="#888" stroke-width="0.6"/>
<line x1="890" y1="167.3" x2="890" y2="175.3" stroke="#555" stroke-width="0.6"/>
<rect x="886.4" y="183.4" width="7.2" height="4.2" stroke="#5a5a5a" stroke-width="0.8" fill="#fbfdfb"/>
<line x1="888.8" y1="183.4" x2="888.8" y2="187.6" stroke="#8a8a8a" stroke-width="0.6"/>
<line x1="891.2" y1="183.4" x2="891.2" y2="187.6" stroke="#8a8a8a" stroke-width="0.6"/>
<rect x="886.4" y="704.9" width="7.2" height="4.5" stroke="#5a5a5a" stroke-width="0.8" fill="#fbfdfb"/>
<line x1="888.8" y1="704.9" x2="888.8" y2="709.4" stroke="#8a8a8a" stroke-width="0.6"/>
<line x1="891.2" y1="704.9" x2="891.2" y2="709.4" stroke="#8a8a8a" stroke-width="0.6"/>
<path d="M886.3 718.2 L886.3 724.2 L887.9 725.8 L892.1 725.8 L893.7 724.2 L893.7 718.2Z" stroke="#5a5a5a" stroke-width="0.8" fill="#fbfdfb"/>
<line x1="888.7" y1="718.2" x2="888.7" y2="725.6" stroke="#888" stroke-width="0.6"/>
<line x1="891.3" y1="718.2" x2="891.3" y2="725.6" stroke="#888" stroke-width="0.6"/>
<path d="M887.4 725.8 Q890 728.8 892.6 725.8 Z" stroke="#5a5a5a" stroke-width="0.7" fill="#b8b8b8" />
<line x1="890" y1="717.2" x2="890" y2="726.2" stroke="#555" stroke-width="0.6"/>
<path d="M866.6 167.1 Q869.2 163.3 871.8 167.1 Z" stroke="#5a5a5a" stroke-width="0.7" fill="#b8b8b8" />
<path d="M865.5 174.3 L865.5 168.9 L867.1 167.1 L871.3 167.1 L872.9 168.9 L872.9 174.3Z" stroke="#5a5a5a" stroke-width="0.8" fill="#fbfdfb"/>
<line x1="867.9" y1="167.3" x2="867.9" y2="174.3" stroke="#888" stroke-width="0.6"/>
<line x1="870.5" y1="167.3" x2="870.5" y2="174.3" stroke="#888" stroke-width="0.6"/>
<line x1="869.2" y1="167.3" x2="869.2" y2="175.3" stroke="#555" stroke-width="0.6"/>
<rect x="865.6" y="183.4" width="7.2" height="4.2" stroke="#5a5a5a" stroke-width="0.8" fill="#fbfdfb"/>
<line x1="868" y1="183.4" x2="868" y2="187.6" stroke="#8a8a8a" stroke-width="0.6"/>
<line x1="870.4" y1="183.4" x2="870.4" y2="187.6" stroke="#8a8a8a" stroke-width="0.6"/>
<rect x="865.6" y="704.9" width="7.2" height="4.5" stroke="#5a5a5a" stroke-width="0.8" fill="#fbfdfb"/>
<line x1="868" y1="704.9" x2="868" y2="709.4" stroke="#8a8a8a" stroke-width="0.6"/>
<line x1="870.4" y1="704.9" x2="870.4" y2="709.4" stroke="#8a8a8a" stroke-width="0.6"/>
<path d="M865.5 718.2 L865.5 724.2 L867.1 725.8 L871.3 725.8 L872.9 724.2 L872.9 718.2Z" stroke="#5a5a5a" stroke-width="0.8" fill="#fbfdfb"/>
<line x1="867.9" y1="718.2" x2="867.9" y2="725.6" stroke="#888" stroke-width="0.6"/>
<line x1="870.5" y1="718.2" x2="870.5" y2="725.6" stroke="#888" stroke-width="0.6"/>
<path d="M866.6 725.8 Q869.2 728.8 871.8 725.8 Z" stroke="#5a5a5a" stroke-width="0.7" fill="#b8b8b8" />
<line x1="869.2" y1="717.2" x2="869.2" y2="726.2" stroke="#555" stroke-width="0.6"/>
<path d="M929.4 167.1 Q932 163.3 934.6 167.1 Z" stroke="#5a5a5a" stroke-width="0.7" fill="#b8b8b8" />
<path d="M928.3 174.3 L928.3 168.9 L929.9 167.1 L934.1 167.1 L935.7 168.9 L935.7 174.3Z" stroke="#5a5a5a" stroke-width="0.8" fill="#fbfdfb"/>
<line x1="930.7" y1="167.3" x2="930.7" y2="174.3" stroke="#888" stroke-width="0.6"/>
<line x1="933.3" y1="167.3" x2="933.3" y2="174.3" stroke="#888" stroke-width="0.6"/>
<line x1="932" y1="167.3" x2="932" y2="175.3" stroke="#555" stroke-width="0.6"/>
<rect x="928.4" y="183.4" width="7.2" height="4.2" stroke="#5a5a5a" stroke-width="0.8" fill="#fbfdfb"/>
<line x1="930.8" y1="183.4" x2="930.8" y2="187.6" stroke="#8a8a8a" stroke-width="0.6"/>
<line x1="933.2" y1="183.4" x2="933.2" y2="187.6" stroke="#8a8a8a" stroke-width="0.6"/>
<rect x="928.4" y="704.9" width="7.2" height="4.5" stroke="#5a5a5a" stroke-width="0.8" fill="#fbfdfb"/>
<line x1="930.8" y1="704.9" x2="930.8" y2="709.4" stroke="#8a8a8a" stroke-width="0.6"/>
<line x1="933.2" y1="704.9" x2="933.2" y2="709.4" stroke="#8a8a8a" stroke-width="0.6"/>
<path d="M928.3 718.2 L928.3 724.2 L929.9 725.8 L934.1 725.8 L935.7 724.2 L935.7 718.2Z" stroke="#5a5a5a" stroke-width="0.8" fill="#fbfdfb"/>
<line x1="930.7" y1="718.2" x2="930.7" y2="725.6" stroke="#888" stroke-width="0.6"/>
<line x1="933.3" y1="718.2" x2="933.3" y2="725.6" stroke="#888" stroke-width="0.6"/>
<path d="M929.4 725.8 Q932 728.8 934.6 725.8 Z" stroke="#5a5a5a" stroke-width="0.7" fill="#b8b8b8" />
<line x1="932" y1="717.2" x2="932" y2="726.2" stroke="#555" stroke-width="0.6"/>
<path d="M845.9 167.1 Q848.5 163.3 851.1 167.1 Z" stroke="#5a5a5a" stroke-width="0.7" fill="#b8b8b8" />
<path d="M844.8 174.3 L844.8 168.9 L846.4 167.1 L850.6 167.1 L852.2 168.9 L852.2 174.3Z" stroke="#5a5a5a" stroke-width="0.8" fill="#fbfdfb"/>
<line x1="847.2" y1="167.3" x2="847.2" y2="174.3" stroke="#888" stroke-width="0.6"/>
<line x1="849.8" y1="167.3" x2="849.8" y2="174.3" stroke="#888" stroke-width="0.6"/>
<line x1="848.5" y1="167.3" x2="848.5" y2="175.3" stroke="#555" stroke-width="0.6"/>
<rect x="844.9" y="183.4" width="7.2" height="4.2" stroke="#5a5a5a" stroke-width="0.8" fill="#fbfdfb"/>
<line x1="847.3" y1="183.4" x2="847.3" y2="187.6" stroke="#8a8a8a" stroke-width="0.6"/>
<line x1="849.7" y1="183.4" x2="849.7" y2="187.6" stroke="#8a8a8a" stroke-width="0.6"/>
<rect x="844.9" y="704.9" width="7.2" height="4.5" stroke="#5a5a5a" stroke-width="0.8" fill="#fbfdfb"/>
<line x1="847.3" y1="704.9" x2="847.3" y2="709.4" stroke="#8a8a8a" stroke-width="0.6"/>
<line x1="849.7" y1="704.9" x2="849.7" y2="709.4" stroke="#8a8a8a" stroke-width="0.6"/>
<path d="M844.8 718.2 L844.8 724.2 L846.4 725.8 L850.6 725.8 L852.2 724.2 L852.2 718.2Z" stroke="#5a5a5a" stroke-width="0.8" fill="#fbfdfb"/>
<line x1="847.2" y1="718.2" x2="847.2" y2="725.6" stroke="#888" stroke-width="0.6"/>
<line x1="849.8" y1="718.2" x2="849.8" y2="725.6" stroke="#888" stroke-width="0.6"/>
<path d="M845.9 725.8 Q848.5 728.8 851.1 725.8 Z" stroke="#5a5a5a" stroke-width="0.7" fill="#b8b8b8" />
<line x1="848.5" y1="717.2" x2="848.5" y2="726.2" stroke="#555" stroke-width="0.6"/>
<path d="M950.1 167.1 Q952.7 163.3 955.3 167.1 Z" stroke="#5a5a5a" stroke-width="0.7" fill="#b8b8b8" />
<path d="M949 174.3 L949 168.9 L950.6 167.1 L954.8 167.1 L956.4 168.9 L956.4 174.3Z" stroke="#5a5a5a" stroke-width="0.8" fill="#fbfdfb"/>
<line x1="951.4" y1="167.3" x2="951.4" y2="174.3" stroke="#888" stroke-width="0.6"/>
<line x1="954" y1="167.3" x2="954" y2="174.3" stroke="#888" stroke-width="0.6"/>
<line x1="952.7" y1="167.3" x2="952.7" y2="175.3" stroke="#555" stroke-width="0.6"/>
<rect x="949.1" y="183.4" width="7.2" height="4.2" stroke="#5a5a5a" stroke-width="0.8" fill="#fbfdfb"/>
<line x1="951.5" y1="183.4" x2="951.5" y2="187.6" stroke="#8a8a8a" stroke-width="0.6"/>
<line x1="953.9" y1="183.4" x2="953.9" y2="187.6" stroke="#8a8a8a" stroke-width="0.6"/>
<rect x="949.1" y="704.9" width="7.2" height="4.5" stroke="#5a5a5a" stroke-width="0.8" fill="#fbfdfb"/>
<line x1="951.5" y1="704.9" x2="951.5" y2="709.4" stroke="#8a8a8a" stroke-width="0.6"/>
<line x1="953.9" y1="704.9" x2="953.9" y2="709.4" stroke="#8a8a8a" stroke-width="0.6"/>
<path d="M949 718.2 L949 724.2 L950.6 725.8 L954.8 725.8 L956.4 724.2 L956.4 718.2Z" stroke="#5a5a5a" stroke-width="0.8" fill="#fbfdfb"/>
<line x1="951.4" y1="718.2" x2="951.4" y2="725.6" stroke="#888" stroke-width="0.6"/>
<line x1="954" y1="718.2" x2="954" y2="725.6" stroke="#888" stroke-width="0.6"/>
<path d="M950.1 725.8 Q952.7 728.8 955.3 725.8 Z" stroke="#5a5a5a" stroke-width="0.7" fill="#b8b8b8" />
<line x1="952.7" y1="717.2" x2="952.7" y2="726.2" stroke="#555" stroke-width="0.6"/>
<path d="M825.3 167.1 Q827.9 163.3 830.5 167.1 Z" stroke="#5a5a5a" stroke-width="0.7" fill="#b8b8b8" />
<path d="M824.2 174.3 L824.2 168.9 L825.8 167.1 L830 167.1 L831.6 168.9 L831.6 174.3Z" stroke="#5a5a5a" stroke-width="0.8" fill="#fbfdfb"/>
<line x1="826.6" y1="167.3" x2="826.6" y2="174.3" stroke="#888" stroke-width="0.6"/>
<line x1="829.2" y1="167.3" x2="829.2" y2="174.3" stroke="#888" stroke-width="0.6"/>
<line x1="827.9" y1="167.3" x2="827.9" y2="175.3" stroke="#555" stroke-width="0.6"/>
<rect x="824.3" y="183.4" width="7.2" height="4.2" stroke="#5a5a5a" stroke-width="0.8" fill="#fbfdfb"/>
<line x1="826.7" y1="183.4" x2="826.7" y2="187.6" stroke="#8a8a8a" stroke-width="0.6"/>
<line x1="829.1" y1="183.4" x2="829.1" y2="187.6" stroke="#8a8a8a" stroke-width="0.6"/>
<rect x="824.3" y="704.9" width="7.2" height="4.5" stroke="#5a5a5a" stroke-width="0.8" fill="#fbfdfb"/>
<line x1="826.7" y1="704.9" x2="826.7" y2="709.4" stroke="#8a8a8a" stroke-width="0.6"/>
<line x1="829.1" y1="704.9" x2="829.1" y2="709.4" stroke="#8a8a8a" stroke-width="0.6"/>
<path d="M824.2 718.2 L824.2 724.2 L825.8 725.8 L830 725.8 L831.6 724.2 L831.6 718.2Z" stroke="#5a5a5a" stroke-width="0.8" fill="#fbfdfb"/>
<line x1="826.6" y1="718.2" x2="826.6" y2="725.6" stroke="#888" stroke-width="0.6"/>
<line x1="829.2" y1="718.2" x2="829.2" y2="725.6" stroke="#888" stroke-width="0.6"/>
<path d="M825.3 725.8 Q827.9 728.8 830.5 725.8 Z" stroke="#5a5a5a" stroke-width="0.7" fill="#b8b8b8" />
<line x1="827.9" y1="717.2" x2="827.9" y2="726.2" stroke="#555" stroke-width="0.6"/>
<path d="M970.7 167.1 Q973.3 163.3 975.9 167.1 Z" stroke="#5a5a5a" stroke-width="0.7" fill="#b8b8b8" />
<path d="M969.6 174.3 L969.6 168.9 L971.2 167.1 L975.4 167.1 L977 168.9 L977 174.3Z" stroke="#5a5a5a" stroke-width="0.8" fill="#fbfdfb"/>
<line x1="972" y1="167.3" x2="972" y2="174.3" stroke="#888" stroke-width="0.6"/>
<line x1="974.6" y1="167.3" x2="974.6" y2="174.3" stroke="#888" stroke-width="0.6"/>
<line x1="973.3" y1="167.3" x2="973.3" y2="175.3" stroke="#555" stroke-width="0.6"/>
<rect x="969.7" y="183.4" width="7.2" height="4.2" stroke="#5a5a5a" stroke-width="0.8" fill="#fbfdfb"/>
<line x1="972.1" y1="183.4" x2="972.1" y2="187.6" stroke="#8a8a8a" stroke-width="0.6"/>
<line x1="974.5" y1="183.4" x2="974.5" y2="187.6" stroke="#8a8a8a" stroke-width="0.6"/>
<rect x="969.7" y="704.9" width="7.2" height="4.5" stroke="#5a5a5a" stroke-width="0.8" fill="#fbfdfb"/>
<line x1="972.1" y1="704.9" x2="972.1" y2="709.4" stroke="#8a8a8a" stroke-width="0.6"/>
<line x1="974.5" y1="704.9" x2="974.5" y2="709.4" stroke="#8a8a8a" stroke-width="0.6"/>
<path d="M969.6 718.2 L969.6 724.2 L971.2 725.8 L975.4 725.8 L977 724.2 L977 718.2Z" stroke="#5a5a5a" stroke-width="0.8" fill="#fbfdfb"/>
<line x1="972" y1="718.2" x2="972" y2="725.6" stroke="#888" stroke-width="0.6"/>
<line x1="974.6" y1="718.2" x2="974.6" y2="725.6" stroke="#888" stroke-width="0.6"/>
<path d="M970.7 725.8 Q973.3 728.8 975.9 725.8 Z" stroke="#5a5a5a" stroke-width="0.7" fill="#b8b8b8" />
<line x1="973.3" y1="717.2" x2="973.3" y2="726.2" stroke="#555" stroke-width="0.6"/>
<rect x="803.4" y="169.8" width="7.2" height="4.5" stroke="#5a5a5a" stroke-width="0.8" fill="#fbfdfb"/>
<line x1="805.8" y1="169.8" x2="805.8" y2="174.3" stroke="#8a8a8a" stroke-width="0.6"/>
<line x1="808.2" y1="169.8" x2="808.2" y2="174.3" stroke="#8a8a8a" stroke-width="0.6"/>
<rect x="803.4" y="183.4" width="7.2" height="8" stroke="#5a5a5a" stroke-width="0.8" fill="#fbfdfb"/>
<line x1="805.8" y1="183.4" x2="805.8" y2="191.4" stroke="#8a8a8a" stroke-width="0.6"/>
<line x1="808.2" y1="183.4" x2="808.2" y2="191.4" stroke="#8a8a8a" stroke-width="0.6"/>
<rect x="803.4" y="704.9" width="7.2" height="4.5" stroke="#5a5a5a" stroke-width="0.8" fill="#fbfdfb"/>
<line x1="805.8" y1="704.9" x2="805.8" y2="709.4" stroke="#8a8a8a" stroke-width="0.6"/>
<line x1="808.2" y1="704.9" x2="808.2" y2="709.4" stroke="#8a8a8a" stroke-width="0.6"/>
<path d="M803.3 718.2 L803.3 724.2 L804.9 725.8 L809.1 725.8 L810.7 724.2 L810.7 718.2Z" stroke="#5a5a5a" stroke-width="0.8" fill="#fbfdfb"/>
<line x1="805.7" y1="718.2" x2="805.7" y2="725.6" stroke="#888" stroke-width="0.6"/>
<line x1="808.3" y1="718.2" x2="808.3" y2="725.6" stroke="#888" stroke-width="0.6"/>
<path d="M804.4 725.8 Q807 728.8 809.6 725.8 Z" stroke="#5a5a5a" stroke-width="0.7" fill="#b8b8b8" />
<line x1="807" y1="717.2" x2="807" y2="726.2" stroke="#555" stroke-width="0.6"/>
<rect x="990.6" y="169.8" width="7.2" height="4.5" stroke="#5a5a5a" stroke-width="0.8" fill="#fbfdfb"/>
<line x1="993" y1="169.8" x2="993" y2="174.3" stroke="#8a8a8a" stroke-width="0.6"/>
<line x1="995.4" y1="169.8" x2="995.4" y2="174.3" stroke="#8a8a8a" stroke-width="0.6"/>
<rect x="990.6" y="183.4" width="7.2" height="8" stroke="#5a5a5a" stroke-width="0.8" fill="#fbfdfb"/>
<line x1="993" y1="183.4" x2="993" y2="191.4" stroke="#8a8a8a" stroke-width="0.6"/>
<line x1="995.4" y1="183.4" x2="995.4" y2="191.4" stroke="#8a8a8a" stroke-width="0.6"/>
<path d="M991.6 702.2 Q994.2 698.4 996.8 702.2 Z" stroke="#5a5a5a" stroke-width="0.7" fill="#b8b8b8" />
<path d="M990.5 709.4 L990.5 704 L992.1 702.2 L996.3 702.2 L997.9 704 L997.9 709.4Z" stroke="#5a5a5a" stroke-width="0.8" fill="#fbfdfb"/>
<line x1="992.9" y1="702.4" x2="992.9" y2="709.4" stroke="#888" stroke-width="0.6"/>
<line x1="995.5" y1="702.4" x2="995.5" y2="709.4" stroke="#888" stroke-width="0.6"/>
<line x1="994.2" y1="702.4" x2="994.2" y2="710.4" stroke="#555" stroke-width="0.6"/>
<rect x="990.6" y="718.2" width="7.2" height="4.5" stroke="#5a5a5a" stroke-width="0.8" fill="#fbfdfb"/>
<line x1="993" y1="718.2" x2="993" y2="722.7" stroke="#8a8a8a" stroke-width="0.6"/>
<line x1="995.4" y1="718.2" x2="995.4" y2="722.7" stroke="#8a8a8a" stroke-width="0.6"/>
<rect x="782.5" y="169.8" width="7.2" height="4.5" stroke="#5a5a5a" stroke-width="0.8" fill="#fbfdfb"/>
<line x1="784.9" y1="169.8" x2="784.9" y2="174.3" stroke="#8a8a8a" stroke-width="0.6"/>
<line x1="787.3" y1="169.8" x2="787.3" y2="174.3" stroke="#8a8a8a" stroke-width="0.6"/>
<rect x="782.5" y="183.4" width="7.2" height="8" stroke="#5a5a5a" stroke-width="0.8" fill="#fbfdfb"/>
<line x1="784.9" y1="183.4" x2="784.9" y2="191.4" stroke="#8a8a8a" stroke-width="0.6"/>
<line x1="787.3" y1="183.4" x2="787.3" y2="191.4" stroke="#8a8a8a" stroke-width="0.6"/>
<rect x="782.5" y="704.9" width="7.2" height="4.5" stroke="#5a5a5a" stroke-width="0.8" fill="#fbfdfb"/>
<line x1="784.9" y1="704.9" x2="784.9" y2="709.4" stroke="#8a8a8a" stroke-width="0.6"/>
<line x1="787.3" y1="704.9" x2="787.3" y2="709.4" stroke="#8a8a8a" stroke-width="0.6"/>
<path d="M782.4 718.2 L782.4 724.2 L784 725.8 L788.2 725.8 L789.8 724.2 L789.8 718.2Z" stroke="#5a5a5a" stroke-width="0.8" fill="#fbfdfb"/>
<line x1="784.8" y1="718.2" x2="784.8" y2="725.6" stroke="#888" stroke-width="0.6"/>
<line x1="787.4" y1="718.2" x2="787.4" y2="725.6" stroke="#888" stroke-width="0.6"/>
<path d="M783.5 725.8 Q786.1 728.8 788.7 725.8 Z" stroke="#5a5a5a" stroke-width="0.7" fill="#b8b8b8" />
<line x1="786.1" y1="717.2" x2="786.1" y2="726.2" stroke="#555" stroke-width="0.6"/>
<rect x="1011.5" y="169.8" width="7.2" height="4.5" stroke="#5a5a5a" stroke-width="0.8" fill="#fbfdfb"/>
<line x1="1013.9" y1="169.8" x2="1013.9" y2="174.3" stroke="#8a8a8a" stroke-width="0.6"/>
<line x1="1016.3" y1="169.8" x2="1016.3" y2="174.3" stroke="#8a8a8a" stroke-width="0.6"/>
<rect x="1011.5" y="183.4" width="7.2" height="8" stroke="#5a5a5a" stroke-width="0.8" fill="#fbfdfb"/>
<line x1="1013.9" y1="183.4" x2="1013.9" y2="191.4" stroke="#8a8a8a" stroke-width="0.6"/>
<line x1="1016.3" y1="183.4" x2="1016.3" y2="191.4" stroke="#8a8a8a" stroke-width="0.6"/>
<path d="M1012.5 702.2 Q1015.1 698.4 1017.7 702.2 Z" stroke="#5a5a5a" stroke-width="0.7" fill="#b8b8b8" />
<path d="M1011.4 709.4 L1011.4 704 L1013 702.2 L1017.2 702.2 L1018.8 704 L1018.8 709.4Z" stroke="#5a5a5a" stroke-width="0.8" fill="#fbfdfb"/>
<line x1="1013.8" y1="702.4" x2="1013.8" y2="709.4" stroke="#888" stroke-width="0.6"/>
<line x1="1016.4" y1="702.4" x2="1016.4" y2="709.4" stroke="#888" stroke-width="0.6"/>
<line x1="1015.1" y1="702.4" x2="1015.1" y2="710.4" stroke="#555" stroke-width="0.6"/>
<rect x="1011.5" y="718.2" width="7.2" height="4.5" stroke="#5a5a5a" stroke-width="0.8" fill="#fbfdfb"/>
<line x1="1013.9" y1="718.2" x2="1013.9" y2="722.7" stroke="#8a8a8a" stroke-width="0.6"/>
<line x1="1016.3" y1="718.2" x2="1016.3" y2="722.7" stroke="#8a8a8a" stroke-width="0.6"/>
<rect x="761.5" y="169.8" width="7.2" height="4.5" stroke="#5a5a5a" stroke-width="0.8" fill="#fbfdfb"/>
<line x1="763.9" y1="169.8" x2="763.9" y2="174.3" stroke="#8a8a8a" stroke-width="0.6"/>
<line x1="766.3" y1="169.8" x2="766.3" y2="174.3" stroke="#8a8a8a" stroke-width="0.6"/>
<rect x="761.5" y="183.4" width="7.2" height="8" stroke="#5a5a5a" stroke-width="0.8" fill="#fbfdfb"/>
<line x1="763.9" y1="183.4" x2="763.9" y2="191.4" stroke="#8a8a8a" stroke-width="0.6"/>
<line x1="766.3" y1="183.4" x2="766.3" y2="191.4" stroke="#8a8a8a" stroke-width="0.6"/>
<rect x="761.5" y="704.9" width="7.2" height="4.5" stroke="#5a5a5a" stroke-width="0.8" fill="#fbfdfb"/>
<line x1="763.9" y1="704.9" x2="763.9" y2="709.4" stroke="#8a8a8a" stroke-width="0.6"/>
<line x1="766.3" y1="704.9" x2="766.3" y2="709.4" stroke="#8a8a8a" stroke-width="0.6"/>
<path d="M761.4 718.2 L761.4 724.2 L763 725.8 L767.2 725.8 L768.8 724.2 L768.8 718.2Z" stroke="#5a5a5a" stroke-width="0.8" fill="#fbfdfb"/>
<line x1="763.8" y1="718.2" x2="763.8" y2="725.6" stroke="#888" stroke-width="0.6"/>
<line x1="766.4" y1="718.2" x2="766.4" y2="725.6" stroke="#888" stroke-width="0.6"/>
<path d="M762.5 725.8 Q765.1 728.8 767.7 725.8 Z" stroke="#5a5a5a" stroke-width="0.7" fill="#b8b8b8" />
<line x1="765.1" y1="717.2" x2="765.1" y2="726.2" stroke="#555" stroke-width="0.6"/>
<rect x="1032.5" y="169.8" width="7.2" height="4.5" stroke="#5a5a5a" stroke-width="0.8" fill="#fbfdfb"/>
<line x1="1034.9" y1="169.8" x2="1034.9" y2="174.3" stroke="#8a8a8a" stroke-width="0.6"/>
<line x1="1037.3" y1="169.8" x2="1037.3" y2="174.3" stroke="#8a8a8a" stroke-width="0.6"/>
<rect x="1032.5" y="183.4" width="7.2" height="8" stroke="#5a5a5a" stroke-width="0.8" fill="#fbfdfb"/>
<line x1="1034.9" y1="183.4" x2="1034.9" y2="191.4" stroke="#8a8a8a" stroke-width="0.6"/>
<line x1="1037.3" y1="183.4" x2="1037.3" y2="191.4" stroke="#8a8a8a" stroke-width="0.6"/>
<path d="M1033.5 702.2 Q1036.1 698.4 1038.7 702.2 Z" stroke="#5a5a5a" stroke-width="0.7" fill="#b8b8b8" />
<path d="M1032.4 709.4 L1032.4 704 L1034 702.2 L1038.2 702.2 L1039.8 704 L1039.8 709.4Z" stroke="#5a5a5a" stroke-width="0.8" fill="#fbfdfb"/>
<line x1="1034.8" y1="702.4" x2="1034.8" y2="709.4" stroke="#888" stroke-width="0.6"/>
<line x1="1037.4" y1="702.4" x2="1037.4" y2="709.4" stroke="#888" stroke-width="0.6"/>
<line x1="1036.1" y1="702.4" x2="1036.1" y2="710.4" stroke="#555" stroke-width="0.6"/>
<rect x="1032.5" y="718.2" width="7.2" height="4.5" stroke="#5a5a5a" stroke-width="0.8" fill="#fbfdfb"/>
<line x1="1034.9" y1="718.2" x2="1034.9" y2="722.7" stroke="#8a8a8a" stroke-width="0.6"/>
<line x1="1037.3" y1="718.2" x2="1037.3" y2="722.7" stroke="#8a8a8a" stroke-width="0.6"/>
<path d="M725.2 167.1 Q727.8 163.3 730.4 167.1 Z" stroke="#5a5a5a" stroke-width="0.7" fill="#b8b8b8" />
<path d="M724.1 174.3 L724.1 168.9 L725.7 167.1 L729.9 167.1 L731.5 168.9 L731.5 174.3Z" stroke="#5a5a5a" stroke-width="0.8" fill="#fbfdfb"/>
<line x1="726.5" y1="167.3" x2="726.5" y2="174.3" stroke="#888" stroke-width="0.6"/>
<line x1="729.1" y1="167.3" x2="729.1" y2="174.3" stroke="#888" stroke-width="0.6"/>
<line x1="727.8" y1="167.3" x2="727.8" y2="175.3" stroke="#555" stroke-width="0.6"/>
<rect x="724.2" y="183.4" width="7.2" height="4.2" stroke="#5a5a5a" stroke-width="0.8" fill="#fbfdfb"/>
<line x1="726.6" y1="183.4" x2="726.6" y2="187.6" stroke="#8a8a8a" stroke-width="0.6"/>
<line x1="729" y1="183.4" x2="729" y2="187.6" stroke="#8a8a8a" stroke-width="0.6"/>
<rect x="724.2" y="704.9" width="7.2" height="4.5" stroke="#5a5a5a" stroke-width="0.8" fill="#fbfdfb"/>
<line x1="726.6" y1="704.9" x2="726.6" y2="709.4" stroke="#8a8a8a" stroke-width="0.6"/>
<line x1="729" y1="704.9" x2="729" y2="709.4" stroke="#8a8a8a" stroke-width="0.6"/>
<path d="M724.1 718.2 L724.1 724.2 L725.7 725.8 L729.9 725.8 L731.5 724.2 L731.5 718.2Z" stroke="#5a5a5a" stroke-width="0.8" fill="#fbfdfb"/>
<line x1="726.5" y1="718.2" x2="726.5" y2="725.6" stroke="#888" stroke-width="0.6"/>
<line x1="729.1" y1="718.2" x2="729.1" y2="725.6" stroke="#888" stroke-width="0.6"/>
<path d="M725.2 725.8 Q727.8 728.8 730.4 725.8 Z" stroke="#5a5a5a" stroke-width="0.7" fill="#b8b8b8" />
<line x1="727.8" y1="717.2" x2="727.8" y2="726.2" stroke="#555" stroke-width="0.6"/>
<path d="M1070.8 167.1 Q1073.4 163.3 1076 167.1 Z" stroke="#5a5a5a" stroke-width="0.7" fill="#b8b8b8" />
<path d="M1069.7 174.3 L1069.7 168.9 L1071.3 167.1 L1075.5 167.1 L1077.1 168.9 L1077.1 174.3Z" stroke="#5a5a5a" stroke-width="0.8" fill="#fbfdfb"/>
<line x1="1072.1" y1="167.3" x2="1072.1" y2="174.3" stroke="#888" stroke-width="0.6"/>
<line x1="1074.7" y1="167.3" x2="1074.7" y2="174.3" stroke="#888" stroke-width="0.6"/>
<line x1="1073.4" y1="167.3" x2="1073.4" y2="175.3" stroke="#555" stroke-width="0.6"/>
<rect x="1069.8" y="183.4" width="7.2" height="4.2" stroke="#5a5a5a" stroke-width="0.8" fill="#fbfdfb"/>
<line x1="1072.2" y1="183.4" x2="1072.2" y2="187.6" stroke="#8a8a8a" stroke-width="0.6"/>
<line x1="1074.6" y1="183.4" x2="1074.6" y2="187.6" stroke="#8a8a8a" stroke-width="0.6"/>
<rect x="1069.8" y="704.9" width="7.2" height="4.5" stroke="#5a5a5a" stroke-width="0.8" fill="#fbfdfb"/>
<line x1="1072.2" y1="704.9" x2="1072.2" y2="709.4" stroke="#8a8a8a" stroke-width="0.6"/>
<line x1="1074.6" y1="704.9" x2="1074.6" y2="709.4" stroke="#8a8a8a" stroke-width="0.6"/>
<path d="M1069.7 718.2 L1069.7 724.2 L1071.3 725.8 L1075.5 725.8 L1077.1 724.2 L1077.1 718.2Z" stroke="#5a5a5a" stroke-width="0.8" fill="#fbfdfb"/>
<line x1="1072.1" y1="718.2" x2="1072.1" y2="725.6" stroke="#888" stroke-width="0.6"/>
<line x1="1074.7" y1="718.2" x2="1074.7" y2="725.6" stroke="#888" stroke-width="0.6"/>
<path d="M1070.8 725.8 Q1073.4 728.8 1076 725.8 Z" stroke="#5a5a5a" stroke-width="0.7" fill="#b8b8b8" />
<line x1="1073.4" y1="717.2" x2="1073.4" y2="726.2" stroke="#555" stroke-width="0.6"/>
<path d="M710.5 162.5 Q713.1 158.5 715.7 162.5 Z" stroke="#5a5a5a" stroke-width="0.7" fill="#b8b8b8" />
<path d="M708.9 172.3 L708.9 164.2 L710.5 162.5 L715.7 162.5 L717.3 164.2 L717.3 172.3Z" stroke="#5a5a5a" stroke-width="0.8" fill="#fbfdfb"/>
<rect x="708.1" y="172.3" width="10" height="2" stroke="#5a5a5a" stroke-width="0.7" fill="#fbfdfb"/>
<line x1="711.7" y1="162.5" x2="711.7" y2="172.3" stroke="#888" stroke-width="0.6"/>
<line x1="714.5" y1="162.5" x2="714.5" y2="172.3" stroke="#888" stroke-width="0.6"/>
<rect x="709.1" y="718.2" width="8" height="9" stroke="#5a5a5a" stroke-width="0.8" fill="#fbfdfb"/>
<line x1="711.8" y1="718.2" x2="711.8" y2="727.2" stroke="#8a8a8a" stroke-width="0.6"/>
<line x1="714.4" y1="718.2" x2="714.4" y2="727.2" stroke="#8a8a8a" stroke-width="0.6"/>
<path d="M711.1 727.2 Q713.1 731.5 715.1 727.2" stroke="#5a5a5a" stroke-width="0.8" fill="none" />
<path d="M1085.5 162.5 Q1088.1 158.5 1090.7 162.5 Z" stroke="#5a5a5a" stroke-width="0.7" fill="#b8b8b8" />
<path d="M1083.9 172.3 L1083.9 164.2 L1085.5 162.5 L1090.7 162.5 L1092.3 164.2 L1092.3 172.3Z" stroke="#5a5a5a" stroke-width="0.8" fill="#fbfdfb"/>
<rect x="1083.1" y="172.3" width="10" height="2" stroke="#5a5a5a" stroke-width="0.7" fill="#fbfdfb"/>
<line x1="1086.7" y1="162.5" x2="1086.7" y2="172.3" stroke="#888" stroke-width="0.6"/>
<line x1="1089.5" y1="162.5" x2="1089.5" y2="172.3" stroke="#888" stroke-width="0.6"/>
<rect x="1084.1" y="718.2" width="8" height="9" stroke="#5a5a5a" stroke-width="0.8" fill="#fbfdfb"/>
<line x1="1086.8" y1="718.2" x2="1086.8" y2="727.2" stroke="#8a8a8a" stroke-width="0.6"/>
<line x1="1089.4" y1="718.2" x2="1089.4" y2="727.2" stroke="#8a8a8a" stroke-width="0.6"/>
<path d="M1086.1 727.2 Q1088.1 731.5 1090.1 727.2" stroke="#5a5a5a" stroke-width="0.8" fill="none" />
<rect x="84" y="306" width="263" height="263" fill="#fbfdfb"/>
<line x1="97" y1="306" x2="97" y2="569" stroke="#d0d0d0" stroke-width="1.2" stroke-dasharray="28.2 1.6 1.6 1.6" stroke-dashoffset="29.2"/>
<line x1="101.9" y1="306" x2="101.9" y2="569" stroke="#c0c0c0" stroke-width="1.2" stroke-dasharray="28.2 1.6 1.6 1.6" stroke-dashoffset="29.2"/>
<line x1="106.7" y1="306" x2="106.7" y2="569" stroke="#d8d8d8" stroke-width="1.2" stroke-dasharray="28.2 1.6 1.6 1.6" stroke-dashoffset="29.2"/>
<line x1="111.6" y1="306" x2="111.6" y2="569" stroke="#8a8a8a" stroke-width="1.2" stroke-dasharray="28.2 1.6 1.6 1.6" stroke-dashoffset="29.2"/>
<line x1="116.4" y1="306" x2="116.4" y2="569" stroke="#b0b0b0" stroke-width="1.2" stroke-dasharray="28.2 1.6 1.6 1.6" stroke-dashoffset="29.2"/>
<line x1="121.3" y1="306" x2="121.3" y2="569" stroke="#b8b8b8" stroke-width="1.2" stroke-dasharray="28.2 1.6 1.6 1.6" stroke-dashoffset="29.2"/>
<line x1="126.2" y1="306" x2="126.2" y2="569" stroke="#c8c8c8" stroke-width="1.2" stroke-dasharray="28.2 1.6 1.6 1.6" stroke-dashoffset="29.2"/>
<line x1="131" y1="306" x2="131" y2="569" stroke="#7e7e7e" stroke-width="1.2" stroke-dasharray="28.2 1.6 1.6 1.6" stroke-dashoffset="29.2"/>
<line x1="135.9" y1="306" x2="135.9" y2="569" stroke="#b4b4b4" stroke-width="1.2" stroke-dasharray="28.2 1.6 1.6 1.6" stroke-dashoffset="29.2"/>
<line x1="140.7" y1="306" x2="140.7" y2="569" stroke="#a8a8a8" stroke-width="1.2" stroke-dasharray="28.2 1.6 1.6 1.6" stroke-dashoffset="29.2"/>
<line x1="145.6" y1="306" x2="145.6" y2="569" stroke="#d4d4d4" stroke-width="1.2" stroke-dasharray="28.2 1.6 1.6 1.6" stroke-dashoffset="29.2"/>
<line x1="150.5" y1="306" x2="150.5" y2="569" stroke="#888888" stroke-width="1.2" stroke-dasharray="28.2 1.6 1.6 1.6" stroke-dashoffset="29.2"/>
<line x1="155.3" y1="306" x2="155.3" y2="569" stroke="#c4c4c4" stroke-width="1.2" stroke-dasharray="28.2 1.6 1.6 1.6" stroke-dashoffset="29.2"/>
<line x1="160.2" y1="306" x2="160.2" y2="569" stroke="#d0d0d0" stroke-width="1.2" stroke-dasharray="28.2 1.6 1.6 1.6" stroke-dashoffset="29.2"/>
<line x1="165" y1="306" x2="165" y2="569" stroke="#c0c0c0" stroke-width="1.2" stroke-dasharray="28.2 1.6 1.6 1.6" stroke-dashoffset="29.2"/>
<line x1="169.9" y1="306" x2="169.9" y2="569" stroke="#d8d8d8" stroke-width="1.2" stroke-dasharray="28.2 1.6 1.6 1.6" stroke-dashoffset="29.2"/>
<line x1="174.8" y1="306" x2="174.8" y2="569" stroke="#8a8a8a" stroke-width="1.2" stroke-dasharray="28.2 1.6 1.6 1.6" stroke-dashoffset="29.2"/>
<line x1="179.6" y1="306" x2="179.6" y2="569" stroke="#b0b0b0" stroke-width="1.2" stroke-dasharray="28.2 1.6 1.6 1.6" stroke-dashoffset="29.2"/>
<line x1="184.5" y1="306" x2="184.5" y2="569" stroke="#b8b8b8" stroke-width="1.2" stroke-dasharray="28.2 1.6 1.6 1.6" stroke-dashoffset="29.2"/>
<line x1="189.3" y1="306" x2="189.3" y2="569" stroke="#c8c8c8" stroke-width="1.2" stroke-dasharray="28.2 1.6 1.6 1.6" stroke-dashoffset="29.2"/>
<line x1="194.2" y1="306" x2="194.2" y2="569" stroke="#7e7e7e" stroke-width="1.2" stroke-dasharray="28.2 1.6 1.6 1.6" stroke-dashoffset="29.2"/>
<line x1="199.1" y1="306" x2="199.1" y2="569" stroke="#b4b4b4" stroke-width="1.2" stroke-dasharray="28.2 1.6 1.6 1.6" stroke-dashoffset="29.2"/>
<line x1="203.9" y1="306" x2="203.9" y2="569" stroke="#a8a8a8" stroke-width="1.2" stroke-dasharray="28.2 1.6 1.6 1.6" stroke-dashoffset="29.2"/>
<line x1="208.8" y1="306" x2="208.8" y2="569" stroke="#d4d4d4" stroke-width="1.2" stroke-dasharray="28.2 1.6 1.6 1.6" stroke-dashoffset="29.2"/>
<line x1="213.6" y1="306" x2="213.6" y2="569" stroke="#888888" stroke-width="1.2" stroke-dasharray="28.2 1.6 1.6 1.6" stroke-dashoffset="29.2"/>
<line x1="218.5" y1="306" x2="218.5" y2="569" stroke="#c4c4c4" stroke-width="1.2" stroke-dasharray="28.2 1.6 1.6 1.6" stroke-dashoffset="29.2"/>
<line x1="223.4" y1="306" x2="223.4" y2="569" stroke="#d0d0d0" stroke-width="1.2" stroke-dasharray="28.2 1.6 1.6 1.6" stroke-dashoffset="29.2"/>
<line x1="228.2" y1="306" x2="228.2" y2="569" stroke="#c0c0c0" stroke-width="1.2" stroke-dasharray="28.2 1.6 1.6 1.6" stroke-dashoffset="29.2"/>
<line x1="233.1" y1="306" x2="233.1" y2="569" stroke="#d8d8d8" stroke-width="1.2" stroke-dasharray="28.2 1.6 1.6 1.6" stroke-dashoffset="29.2"/>
<line x1="237.9" y1="306" x2="237.9" y2="569" stroke="#8a8a8a" stroke-width="1.2" stroke-dasharray="28.2 1.6 1.6 1.6" stroke-dashoffset="29.2"/>
<line x1="242.8" y1="306" x2="242.8" y2="569" stroke="#b0b0b0" stroke-width="1.2" stroke-dasharray="28.2 1.6 1.6 1.6" stroke-dashoffset="29.2"/>
<line x1="247.7" y1="306" x2="247.7" y2="569" stroke="#b8b8b8" stroke-width="1.2" stroke-dasharray="28.2 1.6 1.6 1.6" stroke-dashoffset="29.2"/>
<line x1="252.5" y1="306" x2="252.5" y2="569" stroke="#c8c8c8" stroke-width="1.2" stroke-dasharray="28.2 1.6 1.6 1.6" stroke-dashoffset="29.2"/>
<line x1="257.4" y1="306" x2="257.4" y2="569" stroke="#7e7e7e" stroke-width="1.2" stroke-dasharray="28.2 1.6 1.6 1.6" stroke-dashoffset="29.2"/>
<line x1="262.2" y1="306" x2="262.2" y2="569" stroke="#b4b4b4" stroke-width="1.2" stroke-dasharray="28.2 1.6 1.6 1.6" stroke-dashoffset="29.2"/>
<line x1="267.1" y1="306" x2="267.1" y2="569" stroke="#a8a8a8" stroke-width="1.2" stroke-dasharray="28.2 1.6 1.6 1.6" stroke-dashoffset="29.2"/>
<line x1="272" y1="306" x2="272" y2="569" stroke="#d4d4d4" stroke-width="1.2" stroke-dasharray="28.2 1.6 1.6 1.6" stroke-dashoffset="29.2"/>
<line x1="276.8" y1="306" x2="276.8" y2="569" stroke="#888888" stroke-width="1.2" stroke-dasharray="28.2 1.6 1.6 1.6" stroke-dashoffset="29.2"/>
<line x1="281.7" y1="306" x2="281.7" y2="569" stroke="#c4c4c4" stroke-width="1.2" stroke-dasharray="28.2 1.6 1.6 1.6" stroke-dashoffset="29.2"/>
<line x1="286.5" y1="306" x2="286.5" y2="569" stroke="#d0d0d0" stroke-width="1.2" stroke-dasharray="28.2 1.6 1.6 1.6" stroke-dashoffset="29.2"/>
<line x1="291.4" y1="306" x2="291.4" y2="569" stroke="#c0c0c0" stroke-width="1.2" stroke-dasharray="28.2 1.6 1.6 1.6" stroke-dashoffset="29.2"/>
<line x1="296.3" y1="306" x2="296.3" y2="569" stroke="#d8d8d8" stroke-width="1.2" stroke-dasharray="28.2 1.6 1.6 1.6" stroke-dashoffset="29.2"/>
<line x1="301.1" y1="306" x2="301.1" y2="569" stroke="#8a8a8a" stroke-width="1.2" stroke-dasharray="28.2 1.6 1.6 1.6" stroke-dashoffset="29.2"/>
<line x1="306" y1="306" x2="306" y2="569" stroke="#b0b0b0" stroke-width="1.2" stroke-dasharray="28.2 1.6 1.6 1.6" stroke-dashoffset="29.2"/>
<line x1="310.8" y1="306" x2="310.8" y2="569" stroke="#b8b8b8" stroke-width="1.2" stroke-dasharray="28.2 1.6 1.6 1.6" stroke-dashoffset="29.2"/>
<line x1="315.7" y1="306" x2="315.7" y2="569" stroke="#c8c8c8" stroke-width="1.2" stroke-dasharray="28.2 1.6 1.6 1.6" stroke-dashoffset="29.2"/>
<line x1="320.6" y1="306" x2="320.6" y2="569" stroke="#7e7e7e" stroke-width="1.2" stroke-dasharray="28.2 1.6 1.6 1.6" stroke-dashoffset="29.2"/>
<line x1="325.4" y1="306" x2="325.4" y2="569" stroke="#b4b4b4" stroke-width="1.2" stroke-dasharray="28.2 1.6 1.6 1.6" stroke-dashoffset="29.2"/>
<line x1="330.3" y1="306" x2="330.3" y2="569" stroke="#a8a8a8" stroke-width="1.2" stroke-dasharray="28.2 1.6 1.6 1.6" stroke-dashoffset="29.2"/>
<line x1="335.1" y1="306" x2="335.1" y2="569" stroke="#d4d4d4" stroke-width="1.2" stroke-dasharray="28.2 1.6 1.6 1.6" stroke-dashoffset="29.2"/>
<line x1="87.4" y1="306" x2="87.4" y2="569" stroke="#7c7c7c" stroke-width="2.2"/>
<line x1="92.4" y1="306" x2="92.4" y2="569" stroke="#7c7c7c" stroke-width="2.2"/>
<line x1="339.6" y1="306" x2="339.6" y2="569" stroke="#7c7c7c" stroke-width="2.2"/>
<line x1="344.8" y1="306" x2="344.8" y2="569" stroke="#7c7c7c" stroke-width="2.2"/>
<line x1="86" y1="308" x2="346.5" y2="308" stroke="#777" stroke-width="0.9"/>
<line x1="86" y1="310.5" x2="346.5" y2="310.5" stroke="#777" stroke-width="0.9"/>
<line x1="86" y1="313" x2="346.5" y2="313" stroke="#777" stroke-width="0.9"/>
<line x1="86" y1="315.5" x2="346.5" y2="315.5" stroke="#777" stroke-width="0.9"/>
<line x1="86" y1="318" x2="346.5" y2="318" stroke="#777" stroke-width="0.9"/>
<line x1="86" y1="320.5" x2="346.5" y2="320.5" stroke="#777" stroke-width="0.9"/>
<line x1="86" y1="322" x2="346.5" y2="322" stroke="#555" stroke-width="1"/>
<line x1="86" y1="555.5" x2="346.5" y2="555.5" stroke="#777" stroke-width="0.9"/>
<line x1="86" y1="558" x2="346.5" y2="558" stroke="#777" stroke-width="0.9"/>
<line x1="86" y1="560.5" x2="346.5" y2="560.5" stroke="#777" stroke-width="0.9"/>
<line x1="86" y1="563" x2="346.5" y2="563" stroke="#777" stroke-width="0.9"/>
<line x1="86" y1="565.5" x2="346.5" y2="565.5" stroke="#777" stroke-width="0.9"/>
<line x1="86" y1="553.9" x2="346.5" y2="553.9" stroke="#555" stroke-width="1"/>
<rect x="79.4" y="297.8" width="272" height="8.3" stroke="#3a3a3a" stroke-width="1" fill="#fbfdfb" rx="2.5"/>
<line x1="81" y1="303.8" x2="350" y2="303.8" stroke="#bbb" stroke-width="0.6"/>
<rect x="80" y="569" width="272" height="7.3" stroke="#3a3a3a" stroke-width="1" fill="#fbfdfb" rx="2.5"/>
<line x1="81" y1="571" x2="350" y2="571" stroke="#bbb" stroke-width="0.6"/>
<path d="M115.5 291.4 L122.4 285.8 L309 285.8 L315.3 291.4" stroke="#5a5a5a" stroke-width="0.9" fill="none"/>
<line x1="115.5" y1="291.4" x2="86.4" y2="291.4" stroke="#5a5a5a" stroke-width="0.9"/>
<line x1="315.3" y1="291.4" x2="341.7" y2="291.4" stroke="#5a5a5a" stroke-width="0.9"/>
<line x1="86.4" y1="291.4" x2="86.4" y2="297.8" stroke="#5a5a5a" stroke-width="0.6"/>
<line x1="341.7" y1="291.4" x2="341.7" y2="297.8" stroke="#5a5a5a" stroke-width="0.6"/>
<path d="M140.5 297.5 L140.5 288.8 Q140.5 285.2 144.5 285.2 L160 285.2 Q164 285.2 164 288.8 L164 297.5" stroke="#5a5a5a" stroke-width="0.9" fill="#fbfdfb" />
<path d="M180.7 297.5 L180.7 288.8 Q180.7 285.2 184.7 285.2 L203.1 285.2 Q207.1 285.2 207.1 288.8 L207.1 297.5" stroke="#5a5a5a" stroke-width="0.9" fill="#fbfdfb" />
<path d="M223.8 297.5 L223.8 288.8 Q223.8 285.2 227.8 285.2 L247.5 285.2 Q251.5 285.2 251.5 288.8 L251.5 297.5" stroke="#5a5a5a" stroke-width="0.9" fill="#fbfdfb" />
<path d="M266.8 297.5 L266.8 288.8 Q266.8 285.2 270.8 285.2 L286.4 285.2 Q290.4 285.2 290.4 288.8 L290.4 297.5" stroke="#5a5a5a" stroke-width="0.9" fill="#fbfdfb" />
<rect x="123.8" y="287.3" width="13.9" height="9.5" stroke="#5a5a5a" stroke-width="0.7" fill="#fbfdfb"/>
<line x1="129.2" y1="287.3" x2="129.2" y2="296.8" stroke="#888" stroke-width="1.2"/>
<rect x="166.9" y="287.3" width="11.1" height="9.5" stroke="#5a5a5a" stroke-width="0.7" fill="#fbfdfb"/>
<line x1="170.9" y1="287.3" x2="170.9" y2="296.8" stroke="#888" stroke-width="1.2"/>
<rect x="209.9" y="287.3" width="11.1" height="9.5" stroke="#5a5a5a" stroke-width="0.7" fill="#fbfdfb"/>
<line x1="213.9" y1="287.3" x2="213.9" y2="296.8" stroke="#888" stroke-width="1.2"/>
<rect x="254.3" y="287.3" width="11.1" height="9.5" stroke="#5a5a5a" stroke-width="0.7" fill="#fbfdfb"/>
<line x1="258.4" y1="287.3" x2="258.4" y2="296.8" stroke="#888" stroke-width="1.2"/>
<rect x="293" y="287.3" width="11" height="9.5" stroke="#5a5a5a" stroke-width="0.7" fill="#fbfdfb"/>
<line x1="297" y1="287.3" x2="297" y2="296.8" stroke="#888" stroke-width="1.2"/>
<path d="M62.8 276 L73.9 276 L86.4 291.4 L115.5 291.4" stroke="#5a5a5a" stroke-width="1" fill="none"/>
<path d="M62.8 278 L73.9 278 L86.4 293.4" stroke="#8a8a8a" stroke-width="0.7" fill="none"/>
<path d="M368 276 L358.4 276 L341.7 291.4 L315.3 291.4" stroke="#5a5a5a" stroke-width="1" fill="none"/>
<path d="M368 278 L358.4 278 L341.7 293.4" stroke="#8a8a8a" stroke-width="0.7" fill="none"/>
<path d="M115.5 582.7 L122.4 588.3 L309 588.3 L315.3 582.7" stroke="#5a5a5a" stroke-width="0.9" fill="none"/>
<line x1="115.5" y1="582.7" x2="86.4" y2="582.7" stroke="#5a5a5a" stroke-width="0.9"/>
<line x1="315.3" y1="582.7" x2="341.7" y2="582.7" stroke="#5a5a5a" stroke-width="0.9"/>
<line x1="86.4" y1="582.7" x2="86.4" y2="576.3" stroke="#5a5a5a" stroke-width="0.6"/>
<line x1="341.7" y1="582.7" x2="341.7" y2="576.3" stroke="#5a5a5a" stroke-width="0.6"/>
<path d="M140.5 576.6 L140.5 585.3 Q140.5 588.9 144.5 588.9 L160 588.9 Q164 588.9 164 585.3 L164 576.6" stroke="#5a5a5a" stroke-width="0.9" fill="#fbfdfb" />
<path d="M180.7 576.6 L180.7 585.3 Q180.7 588.9 184.7 588.9 L203.1 588.9 Q207.1 588.9 207.1 585.3 L207.1 576.6" stroke="#5a5a5a" stroke-width="0.9" fill="#fbfdfb" />
<path d="M223.8 576.6 L223.8 585.3 Q223.8 588.9 227.8 588.9 L247.5 588.9 Q251.5 588.9 251.5 585.3 L251.5 576.6" stroke="#5a5a5a" stroke-width="0.9" fill="#fbfdfb" />
<path d="M266.8 576.6 L266.8 585.3 Q266.8 588.9 270.8 588.9 L286.4 588.9 Q290.4 588.9 290.4 585.3 L290.4 576.6" stroke="#5a5a5a" stroke-width="0.9" fill="#fbfdfb" />
<rect x="123.8" y="577.3" width="13.9" height="9.5" stroke="#5a5a5a" stroke-width="0.7" fill="#fbfdfb"/>
<line x1="129.2" y1="577.3" x2="129.2" y2="586.8" stroke="#888" stroke-width="1.2"/>
<rect x="166.9" y="577.3" width="11.1" height="9.5" stroke="#5a5a5a" stroke-width="0.7" fill="#fbfdfb"/>
<line x1="170.9" y1="577.3" x2="170.9" y2="586.8" stroke="#888" stroke-width="1.2"/>
<rect x="209.9" y="577.3" width="11.1" height="9.5" stroke="#5a5a5a" stroke-width="0.7" fill="#fbfdfb"/>
<line x1="213.9" y1="577.3" x2="213.9" y2="586.8" stroke="#888" stroke-width="1.2"/>
<rect x="254.3" y="577.3" width="11.1" height="9.5" stroke="#5a5a5a" stroke-width="0.7" fill="#fbfdfb"/>
<line x1="258.4" y1="577.3" x2="258.4" y2="586.8" stroke="#888" stroke-width="1.2"/>
<rect x="293" y="577.3" width="11" height="9.5" stroke="#5a5a5a" stroke-width="0.7" fill="#fbfdfb"/>
<line x1="297" y1="577.3" x2="297" y2="586.8" stroke="#888" stroke-width="1.2"/>
<path d="M62.8 598.1 L73.9 598.1 L86.4 582.7 L115.5 582.7" stroke="#5a5a5a" stroke-width="1" fill="none"/>
<path d="M62.8 596.1 L73.9 596.1 L86.4 580.7" stroke="#8a8a8a" stroke-width="0.7" fill="none"/>
<path d="M368 598.1 L358.4 598.1 L341.7 582.7 L315.3 582.7" stroke="#5a5a5a" stroke-width="1" fill="none"/>
<path d="M368 596.1 L358.4 596.1 L341.7 580.7" stroke="#8a8a8a" stroke-width="0.7" fill="none"/>
<rect x="87.4" y="583.2" width="14.4" height="3.8" fill="#888"/>
<rect x="87.8" y="587" width="13.6" height="15" stroke="#5a5a5a" stroke-width="0.9" fill="#fbfdfb"/>
<line x1="92.3" y1="587" x2="92.3" y2="602" stroke="#8a8a8a" stroke-width="0.6"/>
<line x1="96.9" y1="587" x2="96.9" y2="602" stroke="#8a8a8a" stroke-width="0.6"/>
<line x1="87.8" y1="593.3" x2="101.4" y2="593.3" stroke="#5a5a5a" stroke-width="0.7"/>
<rect x="89.2" y="602" width="10.8" height="4" stroke="#5a5a5a" stroke-width="0.8" fill="#fbfdfb"/>
<rect x="329.3" y="583.2" width="14.4" height="3.8" fill="#888"/>
<rect x="329.7" y="587" width="13.6" height="15" stroke="#5a5a5a" stroke-width="0.9" fill="#fbfdfb"/>
<line x1="334.2" y1="587" x2="334.2" y2="602" stroke="#8a8a8a" stroke-width="0.6"/>
<line x1="338.8" y1="587" x2="338.8" y2="602" stroke="#8a8a8a" stroke-width="0.6"/>
<line x1="329.7" y1="593.3" x2="343.3" y2="593.3" stroke="#5a5a5a" stroke-width="0.7"/>
<rect x="331.1" y="602" width="10.8" height="4" stroke="#5a5a5a" stroke-width="0.8" fill="#fbfdfb"/>
<line x1="89.2" y1="606" x2="76" y2="640" stroke="#666" stroke-width="0.7"/>
<line x1="100" y1="606" x2="112.8" y2="640" stroke="#666" stroke-width="0.7"/>
<path d="M74.5 637 Q94 651 114 637" stroke="#555" stroke-width="0.8" fill="none" />
<line x1="93" y1="600" x2="93" y2="650" stroke="#888" stroke-width="0.5"/>
<line x1="82" y1="613.4" x2="106" y2="613.4" stroke="#888" stroke-width="0.5"/>
<line x1="81" y1="628.5" x2="108" y2="628.5" stroke="#888" stroke-width="0.5"/>
<path d="M89.2 613.4 L82.7 611.9 L82.7 614.9Z" stroke="#333" stroke-width="0.3" fill="#333"/>
<path d="M100 613.4 L106.5 611.9 L106.5 614.9Z" stroke="#333" stroke-width="0.3" fill="#333"/>
<path d="M87.5 628.5 L81 627 L81 630Z" stroke="#333" stroke-width="0.3" fill="#333"/>
<path d="M101.5 628.5 L108 627 L108 630Z" stroke="#333" stroke-width="0.3" fill="#333"/>
<path d="M77 641 L83.5 639.5 L83.5 642.5Z" stroke="#333" stroke-width="0.3" fill="#333"/>
<path d="M112 641 L105.5 639.5 L105.5 642.5Z" stroke="#333" stroke-width="0.3" fill="#333"/>
<rect x="34.5" y="272.8" width="28.2" height="33.2" stroke="#3a3a3a" stroke-width="1" fill="#fbfdfb"/>
<line x1="64.2" y1="274.8" x2="64.2" y2="303.8" stroke="#5a5a5a" stroke-width="0.8"/>
<rect x="63.9" y="282.4" width="4.8" height="14" stroke="#5a5a5a" stroke-width="0.8" fill="#fbfdfb"/>
<line x1="63.9" y1="289.4" x2="68.7" y2="289.4" stroke="#8a8a8a" stroke-width="0.6"/>
<rect x="53.9" y="282.9" width="6.2" height="13" stroke="#5a5a5a" stroke-width="0.9" fill="#fbfdfb"/>
<line x1="53.9" y1="287.2" x2="60.1" y2="287.2" stroke="#8a8a8a" stroke-width="0.6"/>
<line x1="53.9" y1="291.6" x2="60.1" y2="291.6" stroke="#8a8a8a" stroke-width="0.6"/>
<rect x="48.2" y="286.1" width="5.7" height="6.6" stroke="#5a5a5a" stroke-width="0.8" fill="#fbfdfb"/>
<line x1="70.7" y1="289.4" x2="45.7" y2="289.4" stroke="#999" stroke-width="0.5"/>
<rect x="368.7" y="272.8" width="28.2" height="33.2" stroke="#3a3a3a" stroke-width="1" fill="#fbfdfb"/>
<line x1="367.2" y1="274.8" x2="367.2" y2="303.8" stroke="#5a5a5a" stroke-width="0.8"/>
<rect x="362.7" y="282.4" width="4.8" height="14" stroke="#5a5a5a" stroke-width="0.8" fill="#fbfdfb"/>
<line x1="362.7" y1="289.4" x2="367.5" y2="289.4" stroke="#8a8a8a" stroke-width="0.6"/>
<rect x="371.3" y="282.9" width="6.2" height="13" stroke="#5a5a5a" stroke-width="0.9" fill="#fbfdfb"/>
<line x1="371.3" y1="287.2" x2="377.5" y2="287.2" stroke="#8a8a8a" stroke-width="0.6"/>
<line x1="371.3" y1="291.6" x2="377.5" y2="291.6" stroke="#8a8a8a" stroke-width="0.6"/>
<rect x="377.5" y="286.1" width="5.7" height="6.6" stroke="#5a5a5a" stroke-width="0.8" fill="#fbfdfb"/>
<line x1="360.7" y1="289.4" x2="385.7" y2="289.4" stroke="#999" stroke-width="0.5"/>
<rect x="35" y="569.6" width="28.2" height="33.2" stroke="#3a3a3a" stroke-width="1" fill="#fbfdfb"/>
<line x1="64.7" y1="571.6" x2="64.7" y2="600.6" stroke="#5a5a5a" stroke-width="0.8"/>
<rect x="64.4" y="579.2" width="4.8" height="14" stroke="#5a5a5a" stroke-width="0.8" fill="#fbfdfb"/>
<line x1="64.4" y1="586.2" x2="69.2" y2="586.2" stroke="#8a8a8a" stroke-width="0.6"/>
<rect x="54.4" y="579.7" width="6.2" height="13" stroke="#5a5a5a" stroke-width="0.9" fill="#fbfdfb"/>
<line x1="54.4" y1="584" x2="60.6" y2="584" stroke="#8a8a8a" stroke-width="0.6"/>
<line x1="54.4" y1="588.4" x2="60.6" y2="588.4" stroke="#8a8a8a" stroke-width="0.6"/>
<rect x="48.7" y="582.9" width="5.7" height="6.6" stroke="#5a5a5a" stroke-width="0.8" fill="#fbfdfb"/>
<line x1="71.2" y1="586.2" x2="46.2" y2="586.2" stroke="#999" stroke-width="0.5"/>
<rect x="368.2" y="569.4" width="28.2" height="33.2" stroke="#3a3a3a" stroke-width="1" fill="#fbfdfb"/>
<line x1="366.7" y1="571.4" x2="366.7" y2="600.4" stroke="#5a5a5a" stroke-width="0.8"/>
<rect x="362.2" y="579" width="4.8" height="14" stroke="#5a5a5a" stroke-width="0.8" fill="#fbfdfb"/>
<line x1="362.2" y1="586" x2="367" y2="586" stroke="#8a8a8a" stroke-width="0.6"/>
<rect x="370.8" y="579.5" width="6.2" height="13" stroke="#5a5a5a" stroke-width="0.9" fill="#fbfdfb"/>
<line x1="370.8" y1="583.8" x2="377" y2="583.8" stroke="#8a8a8a" stroke-width="0.6"/>
<line x1="370.8" y1="588.2" x2="377" y2="588.2" stroke="#8a8a8a" stroke-width="0.6"/>
<rect x="377" y="582.7" width="5.7" height="6.6" stroke="#5a5a5a" stroke-width="0.8" fill="#fbfdfb"/>
<line x1="360.2" y1="586" x2="385.2" y2="586" stroke="#999" stroke-width="0.5"/>
<path d="M236 99.5 L350 99.5 Q360 99.5 368 108 L406 149 Q415.3 159 415.3 172 L415.3 728" stroke="#5a5a5a" stroke-width="0.9" fill="none" />
<path d="M236 105.5 L348 105.5 Q357 105.5 364 112 L401 152.5 Q410.8 163 410.8 174 L410.8 728" stroke="#5a5a5a" stroke-width="0.9" fill="none" />
<line x1="240" y1="102.5" x2="350" y2="102.5" stroke="#ccc" stroke-width="0.8"/>
<rect x="236" y="98.5" width="16" height="8" stroke="#5a5a5a" stroke-width="0.8" fill="#fbfdfb"/>
<rect x="409" y="205" width="8.5" height="11" stroke="#5a5a5a" stroke-width="0.8" fill="#fbfdfb"/>
<rect x="409" y="667" width="8.5" height="12" stroke="#5a5a5a" stroke-width="0.8" fill="#fbfdfb"/>
<rect x="407" y="486" width="4.3" height="105.5" stroke="#5a5a5a" stroke-width="0.8" fill="none"/>
<rect x="20.5" y="486.4" width="3" height="105.6" stroke="#5a5a5a" stroke-width="0.8" fill="none"/>
<line x1="534.8" y1="181" x2="534.8" y2="711" stroke="#3a3a3a" stroke-width="1.5"/>
<line x1="627.6" y1="182" x2="627.6" y2="196" stroke="#5a5a5a" stroke-width="0.9"/>
<line x1="629.4" y1="181" x2="629.4" y2="711" stroke="#3a3a3a" stroke-width="1.4"/>
<line x1="582.2" y1="84" x2="582.2" y2="793" stroke="#999" stroke-width="0.6" stroke-dasharray="14 2 2 2"/>
<line x1="620.6" y1="210" x2="620.6" y2="248" stroke="#5a5a5a" stroke-width="0.9"/>
<line x1="620.6" y1="284.6" x2="620.6" y2="652.8" stroke="#5a5a5a" stroke-width="0.9"/>
<line x1="609.4" y1="224" x2="609.4" y2="250.2" stroke="#8a8a8a" stroke-width="0.8"/>
<line x1="609.4" y1="282.4" x2="609.4" y2="654.8" stroke="#8a8a8a" stroke-width="0.8"/>
<path d="M620.6 248 Q620.6 250.2 618.4 250.2 L607.6 250.2" stroke="#5a5a5a" stroke-width="0.8" fill="none" />
<path d="M607.6 250.2 Q586.4 266.4 607.6 282.4" stroke="#5a5a5a" stroke-width="0.8" fill="none" />
<path d="M618.6 250.2 Q596.6 266.4 618.6 282.4" stroke="#5a5a5a" stroke-width="0.8" fill="none" />
<path d="M607.6 282.4 L618.4 282.4 Q620.6 282.4 620.6 284.6" stroke="#5a5a5a" stroke-width="0.8" fill="none" />
<path d="M620.6 653.2 Q620.6 655.4 618.4 655.4 L607.6 655.4" stroke="#5a5a5a" stroke-width="0.8" fill="none" />
<path d="M607.6 655.4 Q586.4 671.6 607.6 687.6" stroke="#5a5a5a" stroke-width="0.8" fill="none" />
<path d="M618.6 655.4 Q596.6 671.6 618.6 687.6" stroke="#5a5a5a" stroke-width="0.8" fill="none" />
<line x1="607.6" y1="687.6" x2="618.6" y2="687.6" stroke="#5a5a5a" stroke-width="0.8"/>
<line x1="543.8" y1="210" x2="543.8" y2="248" stroke="#5a5a5a" stroke-width="0.9"/>
<line x1="543.8" y1="284.6" x2="543.8" y2="652.8" stroke="#5a5a5a" stroke-width="0.9"/>
<line x1="555" y1="224" x2="555" y2="250.2" stroke="#8a8a8a" stroke-width="0.8"/>
<line x1="555" y1="282.4" x2="555" y2="654.8" stroke="#8a8a8a" stroke-width="0.8"/>
<path d="M543.8 248 Q543.8 250.2 546 250.2 L556.8 250.2" stroke="#5a5a5a" stroke-width="0.8" fill="none" />
<path d="M556.8 250.2 Q578 266.4 556.8 282.4" stroke="#5a5a5a" stroke-width="0.8" fill="none" />
<path d="M545.8 250.2 Q567.8 266.4 545.8 282.4" stroke="#5a5a5a" stroke-width="0.8" fill="none" />
<path d="M556.8 282.4 L546 282.4 Q543.8 282.4 543.8 284.6" stroke="#5a5a5a" stroke-width="0.8" fill="none" />
<path d="M543.8 653.2 Q543.8 655.4 546 655.4 L556.8 655.4" stroke="#5a5a5a" stroke-width="0.8" fill="none" />
<path d="M556.8 655.4 Q578 671.6 556.8 687.6" stroke="#5a5a5a" stroke-width="0.8" fill="none" />
<path d="M545.8 655.4 Q567.8 671.6 545.8 687.6" stroke="#5a5a5a" stroke-width="0.8" fill="none" />
<line x1="556.8" y1="687.6" x2="545.8" y2="687.6" stroke="#5a5a5a" stroke-width="0.8"/>
<path d="M544.5 210 Q544.5 202 552.5 202 L611.9 202 Q619.9 202 620.6 210" stroke="#5a5a5a" stroke-width="0.9" fill="none" />
<path d="M555 224 Q555 217 562 217 L602.4 217 Q609.4 217 609.4 224" stroke="#8a8a8a" stroke-width="0.8" fill="none" />
<rect x="544.5" y="688.4" width="76.1" height="2.5" stroke="#5a5a5a" stroke-width="0.8" fill="none" rx="1.2"/>
<line x1="566.6" y1="676.4" x2="597.6" y2="676.4" stroke="#5a5a5a" stroke-width="0.8"/>
<rect x="566.6" y="306.4" width="31" height="325.4" stroke="#5a5a5a" stroke-width="0.9" fill="none" rx="6"/>
<circle cx="545" cy="266.6" r="2.6" stroke="#333" stroke-width="0.8" fill="#555"/>
<line x1="540" y1="266.6" x2="550" y2="266.6" stroke="#777" stroke-width="0.5"/>
<line x1="545" y1="261.6" x2="545" y2="271.6" stroke="#777" stroke-width="0.5"/>
<circle cx="618.8" cy="266.6" r="2.6" stroke="#333" stroke-width="0.8" fill="#555"/>
<line x1="613.8" y1="266.6" x2="623.8" y2="266.6" stroke="#777" stroke-width="0.5"/>
<line x1="618.8" y1="261.6" x2="618.8" y2="271.6" stroke="#777" stroke-width="0.5"/>
<circle cx="545" cy="671.6" r="2.6" stroke="#333" stroke-width="0.8" fill="#555"/>
<line x1="540" y1="671.6" x2="550" y2="671.6" stroke="#777" stroke-width="0.5"/>
<line x1="545" y1="666.6" x2="545" y2="676.6" stroke="#777" stroke-width="0.5"/>
<circle cx="618.8" cy="671.6" r="2.6" stroke="#333" stroke-width="0.8" fill="#555"/>
<line x1="613.8" y1="671.6" x2="623.8" y2="671.6" stroke="#777" stroke-width="0.5"/>
<line x1="618.8" y1="666.6" x2="618.8" y2="676.6" stroke="#777" stroke-width="0.5"/>
<rect x="557.8" y="486.5" width="48.6" height="105.2" stroke="#3a3a3a" stroke-width="1" fill="#fbfdfb"/>
<line x1="582.2" y1="480" x2="582.2" y2="600" stroke="#999" stroke-width="0.6" stroke-dasharray="10 2 2 2"/>
<rect x="576.2" y="499.4" width="12" height="9.6" stroke="#3a3a3a" stroke-width="0.9" fill="none" rx="4.8"/>
<rect x="576.2" y="569.2" width="12" height="9.6" stroke="#3a3a3a" stroke-width="0.9" fill="none" rx="4.8"/>
<path d="M540 172 L540 98 Q540 92 546 92 L619.3 92 Q625.3 92 625.3 98 L625.3 172" stroke="#5a5a5a" stroke-width="0.9" fill="#fbfdfb" />
<rect x="565" y="89" width="34" height="3" stroke="#5a5a5a" stroke-width="0.8" fill="#fbfdfb"/>
<rect x="542" y="96" width="5" height="28" stroke="#5a5a5a" stroke-width="0.8" fill="none" rx="2.5"/>
<rect x="617" y="96" width="5" height="28" stroke="#5a5a5a" stroke-width="0.8" fill="none" rx="2.5"/>
<path d="M556 163 L556 116 Q556 103 569 103 Q579 103 582.2 111 Q585 103 595 103 Q607.3 103 607.3 116 L607.3 163" stroke="#5a5a5a" stroke-width="0.9" fill="none" />
<path d="M560 116 Q562 106 569 106 Q577 106 579 113" stroke="#8a8a8a" stroke-width="0.7" fill="none" />
<path d="M585 113 Q587 106 595 106 Q602 106 604 116" stroke="#8a8a8a" stroke-width="0.7" fill="none" />
<line x1="572" y1="112" x2="572" y2="163" stroke="#5a5a5a" stroke-width="0.8"/>
<line x1="592" y1="112" x2="592" y2="163" stroke="#5a5a5a" stroke-width="0.8"/>
<line x1="579" y1="113" x2="579" y2="163" stroke="#bbb" stroke-width="0.6"/>
<line x1="585" y1="113" x2="585" y2="163" stroke="#bbb" stroke-width="0.6"/>
<line x1="556" y1="163" x2="607.3" y2="163" stroke="#5a5a5a" stroke-width="0.8"/>
<rect x="529.5" y="127.8" width="10.5" height="30.1" stroke="#5a5a5a" stroke-width="0.9" fill="#fbfdfb"/>
<rect x="526.8" y="127.8" width="3" height="30.1" stroke="#5a5a5a" stroke-width="0.8" fill="#fbfdfb" rx="1"/>
<line x1="520" y1="142.8" x2="545" y2="142.8" stroke="#999" stroke-width="0.6" stroke-dasharray="6 2 2 2"/>
<rect x="534" y="173.6" width="96" height="8.5" fill="#e4e4e4"/>
<rect x="534" y="177" width="96" height="3.3" fill="#5c5c5c"/>
<line x1="534" y1="173.6" x2="630" y2="173.6" stroke="#555" stroke-width="0.9"/>
<line x1="534" y1="182.1" x2="630" y2="182.1" stroke="#555" stroke-width="0.9"/>
<line x1="534" y1="177" x2="630" y2="177" stroke="#444" stroke-width="0.6"/>
<line x1="534" y1="180.3" x2="630" y2="180.3" stroke="#444" stroke-width="0.6"/>
<line x1="534" y1="173.6" x2="534" y2="182.1" stroke="#555" stroke-width="0.9"/>
<line x1="630" y1="173.6" x2="630" y2="182.1" stroke="#555" stroke-width="0.9"/>
<rect x="534" y="710" width="96" height="8.5" fill="#e4e4e4"/>
<rect x="534" y="711.8" width="96" height="3.7" fill="#5c5c5c"/>
<line x1="534" y1="710" x2="630" y2="710" stroke="#555" stroke-width="0.9"/>
<line x1="534" y1="718.5" x2="630" y2="718.5" stroke="#555" stroke-width="0.9"/>
<line x1="534" y1="711.8" x2="630" y2="711.8" stroke="#444" stroke-width="0.6"/>
<line x1="534" y1="715.5" x2="630" y2="715.5" stroke="#444" stroke-width="0.6"/>
<line x1="534" y1="710" x2="534" y2="718.5" stroke="#555" stroke-width="0.9"/>
<line x1="630" y1="710" x2="630" y2="718.5" stroke="#555" stroke-width="0.9"/>
<path d="M545.4 166.4 Q548 162.6 550.6 166.4 Z" stroke="#5a5a5a" stroke-width="0.7" fill="#b8b8b8" />
<path d="M543.8 173.6 L543.8 168.2 L545.4 166.4 L550.6 166.4 L552.2 168.2 L552.2 173.6Z" stroke="#5a5a5a" stroke-width="0.8" fill="#fbfdfb"/>
<line x1="546.7" y1="166.6" x2="546.7" y2="173.6" stroke="#888" stroke-width="0.6"/>
<line x1="549.3" y1="166.6" x2="549.3" y2="173.6" stroke="#888" stroke-width="0.6"/>
<line x1="548" y1="166.6" x2="548" y2="174.6" stroke="#555" stroke-width="0.6"/>
<rect x="544.4" y="182.1" width="7.2" height="6" stroke="#5a5a5a" stroke-width="0.8" fill="#fbfdfb"/>
<line x1="546.8" y1="182.1" x2="546.8" y2="188.1" stroke="#8a8a8a" stroke-width="0.6"/>
<line x1="549.2" y1="182.1" x2="549.2" y2="188.1" stroke="#8a8a8a" stroke-width="0.6"/>
<rect x="544.4" y="704.5" width="7.2" height="5.5" stroke="#5a5a5a" stroke-width="0.8" fill="#fbfdfb"/>
<line x1="546.8" y1="704.5" x2="546.8" y2="710" stroke="#8a8a8a" stroke-width="0.6"/>
<line x1="549.2" y1="704.5" x2="549.2" y2="710" stroke="#8a8a8a" stroke-width="0.6"/>
<path d="M544.3 718.5 L544.3 724.5 L545.9 726.1 L550.1 726.1 L551.7 724.5 L551.7 718.5Z" stroke="#5a5a5a" stroke-width="0.8" fill="#fbfdfb"/>
<line x1="546.7" y1="718.5" x2="546.7" y2="725.9" stroke="#888" stroke-width="0.6"/>
<line x1="549.3" y1="718.5" x2="549.3" y2="725.9" stroke="#888" stroke-width="0.6"/>
<path d="M545.4 726.1 Q548 729.1 550.6 726.1 Z" stroke="#5a5a5a" stroke-width="0.7" fill="#b8b8b8" />
<line x1="548" y1="717.5" x2="548" y2="726.5" stroke="#555" stroke-width="0.6"/>
<rect x="561.4" y="166.6" width="7.2" height="7" stroke="#5a5a5a" stroke-width="0.8" fill="#fbfdfb"/>
<line x1="563.8" y1="166.6" x2="563.8" y2="173.6" stroke="#8a8a8a" stroke-width="0.6"/>
<line x1="566.2" y1="166.6" x2="566.2" y2="173.6" stroke="#8a8a8a" stroke-width="0.6"/>
<rect x="561.4" y="182.1" width="7.2" height="6" stroke="#5a5a5a" stroke-width="0.8" fill="#fbfdfb"/>
<line x1="563.8" y1="182.1" x2="563.8" y2="188.1" stroke="#8a8a8a" stroke-width="0.6"/>
<line x1="566.2" y1="182.1" x2="566.2" y2="188.1" stroke="#8a8a8a" stroke-width="0.6"/>
<rect x="561.4" y="704.5" width="7.2" height="5.5" stroke="#5a5a5a" stroke-width="0.8" fill="#fbfdfb"/>
<line x1="563.8" y1="704.5" x2="563.8" y2="710" stroke="#8a8a8a" stroke-width="0.6"/>
<line x1="566.2" y1="704.5" x2="566.2" y2="710" stroke="#8a8a8a" stroke-width="0.6"/>
<path d="M561.3 718.5 L561.3 724.5 L562.9 726.1 L567.1 726.1 L568.7 724.5 L568.7 718.5Z" stroke="#5a5a5a" stroke-width="0.8" fill="#fbfdfb"/>
<line x1="563.7" y1="718.5" x2="563.7" y2="725.9" stroke="#888" stroke-width="0.6"/>
<line x1="566.3" y1="718.5" x2="566.3" y2="725.9" stroke="#888" stroke-width="0.6"/>
<path d="M562.4 726.1 Q565 729.1 567.6 726.1 Z" stroke="#5a5a5a" stroke-width="0.7" fill="#b8b8b8" />
<line x1="565" y1="717.5" x2="565" y2="726.5" stroke="#555" stroke-width="0.6"/>
<path d="M579.1 166.4 Q581.7 162.6 584.3 166.4 Z" stroke="#5a5a5a" stroke-width="0.7" fill="#b8b8b8" />
<path d="M577.5 173.6 L577.5 168.2 L579.1 166.4 L584.3 166.4 L585.9 168.2 L585.9 173.6Z" stroke="#5a5a5a" stroke-width="0.8" fill="#fbfdfb"/>
<line x1="580.4" y1="166.6" x2="580.4" y2="173.6" stroke="#888" stroke-width="0.6"/>
<line x1="583" y1="166.6" x2="583" y2="173.6" stroke="#888" stroke-width="0.6"/>
<line x1="581.7" y1="166.6" x2="581.7" y2="174.6" stroke="#555" stroke-width="0.6"/>
<rect x="578.1" y="182.1" width="7.2" height="6" stroke="#5a5a5a" stroke-width="0.8" fill="#fbfdfb"/>
<line x1="580.5" y1="182.1" x2="580.5" y2="188.1" stroke="#8a8a8a" stroke-width="0.6"/>
<line x1="582.9" y1="182.1" x2="582.9" y2="188.1" stroke="#8a8a8a" stroke-width="0.6"/>
<rect x="578.1" y="704.5" width="7.2" height="5.5" stroke="#5a5a5a" stroke-width="0.8" fill="#fbfdfb"/>
<line x1="580.5" y1="704.5" x2="580.5" y2="710" stroke="#8a8a8a" stroke-width="0.6"/>
<line x1="582.9" y1="704.5" x2="582.9" y2="710" stroke="#8a8a8a" stroke-width="0.6"/>
<path d="M578 718.5 L578 724.5 L579.6 726.1 L583.8 726.1 L585.4 724.5 L585.4 718.5Z" stroke="#5a5a5a" stroke-width="0.8" fill="#fbfdfb"/>
<line x1="580.4" y1="718.5" x2="580.4" y2="725.9" stroke="#888" stroke-width="0.6"/>
<line x1="583" y1="718.5" x2="583" y2="725.9" stroke="#888" stroke-width="0.6"/>
<path d="M579.1 726.1 Q581.7 729.1 584.3 726.1 Z" stroke="#5a5a5a" stroke-width="0.7" fill="#b8b8b8" />
<line x1="581.7" y1="717.5" x2="581.7" y2="726.5" stroke="#555" stroke-width="0.6"/>
<rect x="595.2" y="166.6" width="7.2" height="7" stroke="#5a5a5a" stroke-width="0.8" fill="#fbfdfb"/>
<line x1="597.6" y1="166.6" x2="597.6" y2="173.6" stroke="#8a8a8a" stroke-width="0.6"/>
<line x1="600" y1="166.6" x2="600" y2="173.6" stroke="#8a8a8a" stroke-width="0.6"/>
<rect x="595.2" y="182.1" width="7.2" height="6" stroke="#5a5a5a" stroke-width="0.8" fill="#fbfdfb"/>
<line x1="597.6" y1="182.1" x2="597.6" y2="188.1" stroke="#8a8a8a" stroke-width="0.6"/>
<line x1="600" y1="182.1" x2="600" y2="188.1" stroke="#8a8a8a" stroke-width="0.6"/>
<rect x="595.2" y="704.5" width="7.2" height="5.5" stroke="#5a5a5a" stroke-width="0.8" fill="#fbfdfb"/>
<line x1="597.6" y1="704.5" x2="597.6" y2="710" stroke="#8a8a8a" stroke-width="0.6"/>
<line x1="600" y1="704.5" x2="600" y2="710" stroke="#8a8a8a" stroke-width="0.6"/>
<path d="M595.1 718.5 L595.1 724.5 L596.7 726.1 L600.9 726.1 L602.5 724.5 L602.5 718.5Z" stroke="#5a5a5a" stroke-width="0.8" fill="#fbfdfb"/>
<line x1="597.5" y1="718.5" x2="597.5" y2="725.9" stroke="#888" stroke-width="0.6"/>
<line x1="600.1" y1="718.5" x2="600.1" y2="725.9" stroke="#888" stroke-width="0.6"/>
<path d="M596.2 726.1 Q598.8 729.1 601.4 726.1 Z" stroke="#5a5a5a" stroke-width="0.7" fill="#b8b8b8" />
<line x1="598.8" y1="717.5" x2="598.8" y2="726.5" stroke="#555" stroke-width="0.6"/>
<path d="M612.7 166.4 Q615.3 162.6 617.9 166.4 Z" stroke="#5a5a5a" stroke-width="0.7" fill="#b8b8b8" />
<path d="M611.1 173.6 L611.1 168.2 L612.7 166.4 L617.9 166.4 L619.5 168.2 L619.5 173.6Z" stroke="#5a5a5a" stroke-width="0.8" fill="#fbfdfb"/>
<line x1="614" y1="166.6" x2="614" y2="173.6" stroke="#888" stroke-width="0.6"/>
<line x1="616.6" y1="166.6" x2="616.6" y2="173.6" stroke="#888" stroke-width="0.6"/>
<line x1="615.3" y1="166.6" x2="615.3" y2="174.6" stroke="#555" stroke-width="0.6"/>
<rect x="611.7" y="182.1" width="7.2" height="6" stroke="#5a5a5a" stroke-width="0.8" fill="#fbfdfb"/>
<line x1="614.1" y1="182.1" x2="614.1" y2="188.1" stroke="#8a8a8a" stroke-width="0.6"/>
<line x1="616.5" y1="182.1" x2="616.5" y2="188.1" stroke="#8a8a8a" stroke-width="0.6"/>
<rect x="611.7" y="704.5" width="7.2" height="5.5" stroke="#5a5a5a" stroke-width="0.8" fill="#fbfdfb"/>
<line x1="614.1" y1="704.5" x2="614.1" y2="710" stroke="#8a8a8a" stroke-width="0.6"/>
<line x1="616.5" y1="704.5" x2="616.5" y2="710" stroke="#8a8a8a" stroke-width="0.6"/>
<path d="M611.6 718.5 L611.6 724.5 L613.2 726.1 L617.4 726.1 L619 724.5 L619 718.5Z" stroke="#5a5a5a" stroke-width="0.8" fill="#fbfdfb"/>
<line x1="614" y1="718.5" x2="614" y2="725.9" stroke="#888" stroke-width="0.6"/>
<line x1="616.6" y1="718.5" x2="616.6" y2="725.9" stroke="#888" stroke-width="0.6"/>
<path d="M612.7 726.1 Q615.3 729.1 617.9 726.1 Z" stroke="#5a5a5a" stroke-width="0.7" fill="#b8b8b8" />
<line x1="615.3" y1="717.5" x2="615.3" y2="726.5" stroke="#555" stroke-width="0.6"/>
<path d="M540 166.7 L533 166.7 Q529.5 166.7 529.5 170 L529.5 179 Q529.5 182.6 533 182.6 L536 182.6" stroke="#5a5a5a" stroke-width="0.9" fill="none" />
<path d="M540 708.8 L533 708.8 Q529.5 708.8 529.5 712 L529.5 722 Q529.5 725.6 533 725.6 L540 725.6" stroke="#5a5a5a" stroke-width="0.9" fill="none" />
<rect x="620" y="165" width="7" height="9" stroke="#5a5a5a" stroke-width="0.8" fill="#fbfdfb"/>
<rect x="623" y="719" width="7" height="8" stroke="#5a5a5a" stroke-width="0.8" fill="#fbfdfb"/>
<path d="M547.2 729.7 L547.2 762 Q547.2 785.5 570 785.5 L594 785.5 Q616 785.5 616 762 L616 729.7" stroke="#5a5a5a" stroke-width="0.9" fill="#fbfdfb" />
<rect x="571.6" y="734" width="20.1" height="48" stroke="#5a5a5a" stroke-width="0.8" fill="none"/>
<rect x="572" y="780" width="19.5" height="5.5" fill="#bbb"/>
<line x1="571.6" y1="729.7" x2="547.2" y2="729.7" stroke="#5a5a5a" stroke-width="0.8"/>
<line x1="591.7" y1="729.7" x2="616" y2="729.7" stroke="#5a5a5a" stroke-width="0.8"/>
<rect x="530.6" y="728.8" width="12" height="43.6" stroke="#5a5a5a" stroke-width="0.9" fill="#fbfdfb"/>
<rect x="526.2" y="728.8" width="4.4" height="43.6" stroke="#5a5a5a" stroke-width="0.8" fill="#fbfdfb" rx="1"/>
<line x1="520" y1="750.6" x2="560" y2="750.6" stroke="#999" stroke-width="0.6" stroke-dasharray="6 2 2 2"/>
<rect x="542.5" y="724" width="4" height="55" stroke="#5a5a5a" stroke-width="0.8" fill="#fbfdfb"/>
<circle cx="540.2" cy="730.5" r="3.2" stroke="#5a5a5a" stroke-width="0.8" fill="#fbfdfb"/>
<line x1="537" y1="730.5" x2="543.4" y2="730.5" stroke="#8a8a8a" stroke-width="0.6"/>
<circle cx="540.2" cy="769" r="3.2" stroke="#5a5a5a" stroke-width="0.8" fill="#fbfdfb"/>
<line x1="537" y1="769" x2="543.4" y2="769" stroke="#8a8a8a" stroke-width="0.6"/>
<path d="M547 779 Q549 786 556 786" stroke="#5a5a5a" stroke-width="0.8" fill="none" />
<line x1="631.2" y1="300" x2="631.2" y2="556" stroke="#5a5a5a" stroke-width="0.8"/>
<line x1="636.5" y1="300" x2="636.5" y2="556" stroke="#777" stroke-width="1.2"/>
<line x1="642.7" y1="300" x2="642.7" y2="556" stroke="#999" stroke-width="1"/>
<line x1="647.1" y1="300" x2="647.1" y2="556" stroke="#5a5a5a" stroke-width="0.9"/>
<line x1="629.4" y1="307.5" x2="648.8" y2="307.5" stroke="#777" stroke-width="0.8"/>
<line x1="629.4" y1="310" x2="648.8" y2="310" stroke="#777" stroke-width="0.8"/>
<line x1="629.4" y1="312.5" x2="648.8" y2="312.5" stroke="#777" stroke-width="0.8"/>
<line x1="629.4" y1="315" x2="648.8" y2="315" stroke="#777" stroke-width="0.8"/>
<line x1="629.4" y1="317.5" x2="648.8" y2="317.5" stroke="#777" stroke-width="0.8"/>
<line x1="629.4" y1="320" x2="648.8" y2="320" stroke="#777" stroke-width="0.8"/>
<line x1="629.4" y1="322" x2="648.8" y2="322" stroke="#777" stroke-width="0.8"/>
<line x1="629.4" y1="555.5" x2="648.8" y2="555.5" stroke="#777" stroke-width="0.8"/>
<line x1="629.4" y1="558" x2="648.8" y2="558" stroke="#777" stroke-width="0.8"/>
<line x1="629.4" y1="560.5" x2="648.8" y2="560.5" stroke="#777" stroke-width="0.8"/>
<line x1="629.4" y1="563" x2="648.8" y2="563" stroke="#777" stroke-width="0.8"/>
<line x1="629.4" y1="565.5" x2="648.8" y2="565.5" stroke="#777" stroke-width="0.8"/>
<line x1="629.4" y1="567" x2="648.8" y2="567" stroke="#777" stroke-width="0.8"/>
<line x1="634" y1="315" x2="634" y2="552" stroke="#bbb" stroke-width="0.6" stroke-dasharray="20 3"/>
<line x1="639.5" y1="315" x2="639.5" y2="552" stroke="#bbb" stroke-width="0.6" stroke-dasharray="20 3"/>
<path d="M629.4 382.8 Q621 383 620 390 Q616 400 616 415 Q617 440 622 447 Q625 451 629.4 451" stroke="#5a5a5a" stroke-width="0.8" fill="none" />
<rect x="630" y="272" width="15" height="34" stroke="#5a5a5a" stroke-width="0.9" fill="#fbfdfb"/>
<rect x="645" y="275" width="4.5" height="31" stroke="#5a5a5a" stroke-width="0.8" fill="#fbfdfb"/>
<rect x="649.4" y="298.7" width="2.8" height="6.6" stroke="#5a5a5a" stroke-width="0.7" fill="#fbfdfb"/>
<path d="M633.2 285.5 L637.4 283 L641.6 285.5 L641.6 293.7 L637.4 296.2 L633.2 293.7 Z" stroke="#5a5a5a" stroke-width="0.8" fill="#fbfdfb" />
<circle cx="637.4" cy="289.6" r="2.2" stroke="#5a5a5a" stroke-width="0.7" fill="none"/>
<line x1="649.5" y1="289.6" x2="672" y2="289.6" stroke="#888" stroke-width="0.6"/>
<line x1="637.4" y1="264" x2="637.4" y2="306" stroke="#aaa" stroke-width="0.5"/>
<rect x="629.4" y="567" width="19.6" height="26" stroke="#5a5a5a" stroke-width="0.9" fill="#fbfdfb"/>
<rect x="645" y="570" width="6" height="12" stroke="#5a5a5a" stroke-width="0.8" fill="#fbfdfb"/>
<path d="M633.2 580.6 L637.4 578.1 L641.6 580.6 L641.6 588.8 L637.4 591.3 L633.2 588.8 Z" stroke="#5a5a5a" stroke-width="0.8" fill="#fbfdfb" />
<circle cx="637.4" cy="584.7" r="2.2" stroke="#5a5a5a" stroke-width="0.7" fill="none"/>
<rect x="633" y="593" width="11" height="12" stroke="#5a5a5a" stroke-width="0.9" fill="#fbfdfb" rx="1.5"/>
<line x1="640" y1="584.7" x2="672" y2="584.7" stroke="#888" stroke-width="0.6"/>
<path d="M863 99.2 L768 99.2 Q762 99.2 757 104 L716 145 Q700.4 160 700.4 180 L700.4 728" stroke="#5a5a5a" stroke-width="0.9" fill="none" />
<path d="M863 105.6 L770 105.6 Q765 105.6 761 109.5 L721 149.5 Q705.2 164 705.2 182 L705.2 728" stroke="#5a5a5a" stroke-width="0.9" fill="none" />
<rect x="863" y="98.5" width="17" height="8" stroke="#5a5a5a" stroke-width="0.8" fill="#fbfdfb"/>
<rect x="699" y="205" width="9" height="11" stroke="#5a5a5a" stroke-width="0.8" fill="#fbfdfb"/>
<rect x="699" y="667" width="9" height="13" stroke="#5a5a5a" stroke-width="0.8" fill="#fbfdfb"/>
<circle cx="712.3" cy="208.7" r="4" stroke="#333" stroke-width="1" fill="#fbfdfb"/>
<circle cx="712.3" cy="208.7" r="1.8" stroke="#444" stroke-width="0.8" fill="none"/>
<circle cx="712.3" cy="673.6" r="4" stroke="#333" stroke-width="1" fill="#fbfdfb"/>
<circle cx="712.3" cy="673.6" r="1.8" stroke="#444" stroke-width="0.8" fill="none"/>
<rect x="764.8" y="116.9" width="43.3" height="51.4" stroke="#3a3a3a" stroke-width="1" fill="#fbfdfb" rx="3.5"/>
<ellipse cx="786.4" cy="142.6" rx="10.9" ry="11.5" stroke="#333" stroke-width="1.3" fill="#fbfdfb"/>
<ellipse cx="786.4" cy="142.6" rx="9" ry="9.5" stroke="#5a5a5a" stroke-width="0.8" fill="none"/>
<circle cx="769.7" cy="123.8" r="3.6" stroke="#444" stroke-width="0.9" fill="#fbfdfb"/>
<circle cx="769.7" cy="123.8" r="1.8" stroke="#444" stroke-width="0.8" fill="none"/>
<circle cx="769.7" cy="161.4" r="3.6" stroke="#444" stroke-width="0.9" fill="#fbfdfb"/>
<circle cx="769.7" cy="161.4" r="1.8" stroke="#444" stroke-width="0.8" fill="none"/>
<circle cx="803.1" cy="123.8" r="3.6" stroke="#444" stroke-width="0.9" fill="#fbfdfb"/>
<circle cx="803.1" cy="123.8" r="1.8" stroke="#444" stroke-width="0.8" fill="none"/>
<circle cx="803.1" cy="161.4" r="3.6" stroke="#444" stroke-width="0.9" fill="#fbfdfb"/>
<circle cx="803.1" cy="161.4" r="1.8" stroke="#444" stroke-width="0.8" fill="none"/>
<line x1="756.8" y1="142.6" x2="816" y2="142.6" stroke="#999" stroke-width="0.6" stroke-dasharray="8 2 2 2"/>
<line x1="786.4" y1="113.9" x2="786.4" y2="171.3" stroke="#999" stroke-width="0.6" stroke-dasharray="8 2 2 2"/>
<rect x="992.6" y="116.9" width="43" height="51.4" stroke="#3a3a3a" stroke-width="1" fill="#fbfdfb" rx="3.5"/>
<ellipse cx="1014.1" cy="142.6" rx="10.9" ry="11.5" stroke="#333" stroke-width="1.3" fill="#fbfdfb"/>
<ellipse cx="1014.1" cy="142.6" rx="9" ry="9.5" stroke="#5a5a5a" stroke-width="0.8" fill="none"/>
<circle cx="997.4" cy="123.8" r="3.6" stroke="#444" stroke-width="0.9" fill="#fbfdfb"/>
<circle cx="997.4" cy="123.8" r="1.8" stroke="#444" stroke-width="0.8" fill="none"/>
<circle cx="997.4" cy="161.4" r="3.6" stroke="#444" stroke-width="0.9" fill="#fbfdfb"/>
<circle cx="997.4" cy="161.4" r="1.8" stroke="#444" stroke-width="0.8" fill="none"/>
<circle cx="1030.8" cy="123.8" r="3.6" stroke="#444" stroke-width="0.9" fill="#fbfdfb"/>
<circle cx="1030.8" cy="123.8" r="1.8" stroke="#444" stroke-width="0.8" fill="none"/>
<circle cx="1030.8" cy="161.4" r="3.6" stroke="#444" stroke-width="0.9" fill="#fbfdfb"/>
<circle cx="1030.8" cy="161.4" r="1.8" stroke="#444" stroke-width="0.8" fill="none"/>
<line x1="984.6" y1="142.6" x2="1043.6" y2="142.6" stroke="#999" stroke-width="0.6" stroke-dasharray="8 2 2 2"/>
<line x1="1014.1" y1="113.9" x2="1014.1" y2="171.3" stroke="#999" stroke-width="0.6" stroke-dasharray="8 2 2 2"/>
<rect x="990" y="722" width="48" height="60" fill="#fbfdfb"/>
<rect x="992.8" y="724.8" width="42" height="51.6" stroke="#3a3a3a" stroke-width="1" fill="#fbfdfb" rx="3.5"/>
<ellipse cx="1013.8" cy="750.6" rx="15" ry="19" stroke="#333" stroke-width="1.3" fill="#fbfdfb"/>
<ellipse cx="1013.8" cy="750.6" rx="12.5" ry="16.3" stroke="#5a5a5a" stroke-width="0.8" fill="none"/>
<circle cx="996.8" cy="731.3" r="3.6" stroke="#444" stroke-width="0.9" fill="#fbfdfb"/>
<circle cx="996.8" cy="731.3" r="1.8" stroke="#444" stroke-width="0.8" fill="none"/>
<circle cx="996.8" cy="769.9" r="3.6" stroke="#444" stroke-width="0.9" fill="#fbfdfb"/>
<circle cx="996.8" cy="769.9" r="1.8" stroke="#444" stroke-width="0.8" fill="none"/>
<circle cx="1030.8" cy="731.3" r="3.6" stroke="#444" stroke-width="0.9" fill="#fbfdfb"/>
<circle cx="1030.8" cy="731.3" r="1.8" stroke="#444" stroke-width="0.8" fill="none"/>
<circle cx="1030.8" cy="769.9" r="3.6" stroke="#444" stroke-width="0.9" fill="#fbfdfb"/>
<circle cx="1030.8" cy="769.9" r="1.8" stroke="#444" stroke-width="0.8" fill="none"/>
<line x1="984.8" y1="750.6" x2="1042.8" y2="750.6" stroke="#999" stroke-width="0.6" stroke-dasharray="8 2 2 2"/>
<line x1="1013.8" y1="721.8" x2="1013.8" y2="779.4" stroke="#999" stroke-width="0.6" stroke-dasharray="8 2 2 2"/>
<rect x="740.2" y="166.4" width="12.4" height="17.2" stroke="#3a3a3a" stroke-width="0.9" fill="#fbfdfb"/>
<line x1="746.4" y1="168.4" x2="746.4" y2="181.6" stroke="#999" stroke-width="0.6" stroke-dasharray="3 2"/>
<rect x="740.2" y="707.8" width="12.4" height="17.2" stroke="#3a3a3a" stroke-width="0.9" fill="#fbfdfb"/>
<line x1="746.4" y1="709.8" x2="746.4" y2="723" stroke="#999" stroke-width="0.6" stroke-dasharray="3 2"/>
<rect x="904.3" y="166.4" width="12.4" height="17.2" stroke="#3a3a3a" stroke-width="0.9" fill="#fbfdfb"/>
<line x1="910.5" y1="168.4" x2="910.5" y2="181.6" stroke="#999" stroke-width="0.6" stroke-dasharray="3 2"/>
<rect x="904.3" y="707.8" width="12.4" height="17.2" stroke="#3a3a3a" stroke-width="0.9" fill="#fbfdfb"/>
<line x1="910.5" y1="709.8" x2="910.5" y2="723" stroke="#999" stroke-width="0.6" stroke-dasharray="3 2"/>
<rect x="1047.9" y="166.4" width="12.4" height="17.2" stroke="#3a3a3a" stroke-width="0.9" fill="#fbfdfb"/>
<line x1="1054.1" y1="168.4" x2="1054.1" y2="181.6" stroke="#999" stroke-width="0.6" stroke-dasharray="3 2"/>
<rect x="1047.9" y="707.8" width="12.4" height="17.2" stroke="#3a3a3a" stroke-width="0.9" fill="#fbfdfb"/>
<line x1="1054.1" y1="709.8" x2="1054.1" y2="723" stroke="#999" stroke-width="0.6" stroke-dasharray="3 2"/>
<line x1="757.8" y1="759" x2="757.8" y2="784" stroke="#5a5a5a" stroke-width="0.8"/>
<line x1="815.7" y1="759" x2="815.7" y2="784" stroke="#5a5a5a" stroke-width="0.8"/>
<line x1="757.8" y1="781" x2="815.7" y2="781" stroke="#8a8a8a" stroke-width="0.6"/>
<line x1="814.6" y1="118" x2="814.6" y2="140" stroke="#5a5a5a" stroke-width="0.7"/>
<line x1="986" y1="118" x2="986" y2="135" stroke="#5a5a5a" stroke-width="0.7"/>
<line x1="1042.6" y1="110" x2="1042.6" y2="135" stroke="#5a5a5a" stroke-width="0.7"/>
<line x1="983.5" y1="760" x2="983.5" y2="783" stroke="#5a5a5a" stroke-width="0.7"/>
<rect x="888.5" y="367" width="23" height="99.5" fill="#fbfdfb"/>
<line x1="893" y1="433.5" x2="893" y2="438.5" stroke="#777" stroke-width="0.9"/>
<line x1="900.6" y1="433.5" x2="900.6" y2="438.5" stroke="#777" stroke-width="0.9"/>
<line x1="907.9" y1="433.5" x2="907.9" y2="438.5" stroke="#777" stroke-width="0.9"/>
<line x1="907.9" y1="462.6" x2="907.9" y2="470" stroke="#777" stroke-width="0.9"/>
<line x1="63.3" y1="250.6" x2="368.3" y2="250.6" stroke="#6a6a6a" stroke-width="0.8"/>
<path d="M63.3 250.6 L69.8 249.1 L69.8 252.1Z" stroke="#333" stroke-width="0.3" fill="#333"/>
<path d="M368.3 250.6 L361.8 249.1 L361.8 252.1Z" stroke="#333" stroke-width="0.3" fill="#333"/>
<line x1="87.8" y1="419" x2="343.5" y2="419" stroke="#6a6a6a" stroke-width="0.8"/>
<path d="M87.8 419 L94.3 417.5 L94.3 420.5Z" stroke="#333" stroke-width="0.3" fill="#333"/>
<path d="M343.5 419 L337 417.5 L337 420.5Z" stroke="#333" stroke-width="0.3" fill="#333"/>
<line x1="96" y1="656.4" x2="333.5" y2="656.4" stroke="#6a6a6a" stroke-width="0.8"/>
<path d="M96 656.4 L102.5 654.9 L102.5 657.9Z" stroke="#333" stroke-width="0.3" fill="#333"/>
<path d="M333.5 656.4 L327 654.9 L327 657.9Z" stroke="#333" stroke-width="0.3" fill="#333"/>
<line x1="21" y1="806" x2="409" y2="806" stroke="#6a6a6a" stroke-width="0.8"/>
<path d="M21 806 L27.5 804.5 L27.5 807.5Z" stroke="#333" stroke-width="0.3" fill="#333"/>
<path d="M409 806 L402.5 804.5 L402.5 807.5Z" stroke="#333" stroke-width="0.3" fill="#333"/>
<line x1="21" y1="718" x2="21" y2="810" stroke="#8a8a8a" stroke-width="0.6"/>
<line x1="409" y1="720" x2="409" y2="810" stroke="#8a8a8a" stroke-width="0.6"/>
<line x1="416.8" y1="185" x2="474" y2="185" stroke="#8a8a8a" stroke-width="0.6"/>
<line x1="471" y1="185" x2="471" y2="704" stroke="#6a6a6a" stroke-width="0.8"/>
<path d="M471 185 L469.5 191.5 L472.5 191.5Z" stroke="#333" stroke-width="0.3" fill="#333"/>
<path d="M471 704 L469.5 697.5 L472.5 697.5Z" stroke="#333" stroke-width="0.3" fill="#333"/>
<line x1="413" y1="708" x2="474" y2="708" stroke="#8a8a8a" stroke-width="0.6"/>
<line x1="416" y1="208.7" x2="458" y2="208.7" stroke="#8a8a8a" stroke-width="0.6"/>
<line x1="405" y1="288.9" x2="458" y2="288.9" stroke="#8a8a8a" stroke-width="0.6"/>
<line x1="405" y1="308.7" x2="458" y2="308.7" stroke="#8a8a8a" stroke-width="0.6"/>
<line x1="455.5" y1="208.7" x2="455.5" y2="288.9" stroke="#6a6a6a" stroke-width="0.8"/>
<path d="M455.5 208.7 L454 215.2 L457 215.2Z" stroke="#333" stroke-width="0.3" fill="#333"/>
<path d="M455.5 288.9 L454 282.4 L457 282.4Z" stroke="#333" stroke-width="0.3" fill="#333"/>
<line x1="455.5" y1="288.9" x2="455.5" y2="308.7" stroke="#6a6a6a" stroke-width="0.8"/>
<path d="M455.5 288.9 L454 295.4 L457 295.4Z" stroke="#333" stroke-width="0.3" fill="#333"/>
<path d="M455.5 308.7 L454 302.2 L457 302.2Z" stroke="#333" stroke-width="0.3" fill="#333"/>
<line x1="455.5" y1="308.7" x2="455.5" y2="668" stroke="#6a6a6a" stroke-width="0.8"/>
<path d="M455.5 668 L454 661.5 L457 661.5Z" stroke="#333" stroke-width="0.3" fill="#333"/>
<line x1="405" y1="343.4" x2="440" y2="343.4" stroke="#8a8a8a" stroke-width="0.6"/>
<line x1="437" y1="309.6" x2="437" y2="343.4" stroke="#6a6a6a" stroke-width="0.8"/>
<path d="M437 309.6 L435.5 316.1 L438.5 316.1Z" stroke="#333" stroke-width="0.3" fill="#333"/>
<path d="M437 343.4 L435.5 336.9 L438.5 336.9Z" stroke="#333" stroke-width="0.3" fill="#333"/>
<line x1="403" y1="446.3" x2="442" y2="446.3" stroke="#8a8a8a" stroke-width="0.6"/>
<line x1="440.3" y1="446.3" x2="440.3" y2="604" stroke="#6a6a6a" stroke-width="0.8"/>
<path d="M440.3 446.3 L438.8 452.8 L441.8 452.8Z" stroke="#333" stroke-width="0.3" fill="#333"/>
<path d="M440.3 604 L438.8 597.5 L441.8 597.5Z" stroke="#333" stroke-width="0.3" fill="#333"/>
<line x1="440.3" y1="604" x2="440.3" y2="673" stroke="#6a6a6a" stroke-width="0.8"/>
<path d="M440.3 604 L438.8 610.5 L441.8 610.5Z" stroke="#333" stroke-width="0.3" fill="#333"/>
<path d="M440.3 673 L438.8 666.5 L441.8 666.5Z" stroke="#333" stroke-width="0.3" fill="#333"/>
<line x1="440.3" y1="673" x2="440.3" y2="709" stroke="#6a6a6a" stroke-width="0.8"/>
<path d="M440.3 673 L438.8 679.5 L441.8 679.5Z" stroke="#333" stroke-width="0.3" fill="#333"/>
<path d="M440.3 709 L438.8 702.5 L441.8 702.5Z" stroke="#333" stroke-width="0.3" fill="#333"/>
<line x1="405" y1="604" x2="442" y2="604" stroke="#8a8a8a" stroke-width="0.6"/>
<line x1="405" y1="673" x2="458" y2="673" stroke="#8a8a8a" stroke-width="0.6"/>
<line x1="413" y1="709" x2="442" y2="709" stroke="#8a8a8a" stroke-width="0.6"/>
<line x1="362.6" y1="308.5" x2="362.6" y2="566" stroke="#6a6a6a" stroke-width="0.8"/>
<path d="M362.6 308.5 L361.1 315 L364.1 315Z" stroke="#333" stroke-width="0.3" fill="#333"/>
<path d="M362.6 566 L361.1 559.5 L364.1 559.5Z" stroke="#333" stroke-width="0.3" fill="#333"/>
<line x1="352" y1="566" x2="365" y2="566" stroke="#8a8a8a" stroke-width="0.6"/>
<line x1="393.8" y1="373.6" x2="407" y2="373.6" stroke="#6a6a6a" stroke-width="0.8"/>
<path d="M393.8 373.6 L400.3 372.1 L400.3 375.1Z" stroke="#333" stroke-width="0.3" fill="#333"/>
<line x1="407" y1="373.6" x2="436.2" y2="373.6" stroke="#6a6a6a" stroke-width="0.7"/>
<path d="M396.4 373.6 L389.9 372.1 L389.9 375.1Z" stroke="#333" stroke-width="0.3" fill="#333"/>
<line x1="393.5" y1="651.3" x2="408" y2="651.3" stroke="#6a6a6a" stroke-width="0.7"/>
<line x1="372" y1="651.3" x2="396" y2="651.3" stroke="#6a6a6a" stroke-width="0.7"/>
<path d="M397 651.3 L390.5 649.8 L390.5 652.8Z" stroke="#333" stroke-width="0.3" fill="#333"/>
<path d="M408 651.3 L414.5 649.8 L414.5 652.8Z" stroke="#333" stroke-width="0.3" fill="#333"/>
<line x1="392.5" y1="340" x2="392.5" y2="348" stroke="#6a6a6a" stroke-width="0.8"/>
<path d="M392.5 340 L391 346.5 L394 346.5Z" stroke="#333" stroke-width="0.3" fill="#333"/>
<path d="M392.5 348 L391 341.5 L394 341.5Z" stroke="#333" stroke-width="0.3" fill="#333"/>
<path d="M386 662 L393 662 L393 681" stroke="#6a6a6a" stroke-width="0.7" fill="none"/>
<line x1="71.2" y1="56" x2="181" y2="56" stroke="#888" stroke-width="0.7"/>
<line x1="71.2" y1="56" x2="111" y2="130" stroke="#888" stroke-width="0.6"/>
<circle cx="111" cy="130" r="0.9" stroke="#444" stroke-width="0.5" fill="#444"/>
<line x1="262.9" y1="56" x2="384.4" y2="56" stroke="#888" stroke-width="0.7"/>
<line x1="262.9" y1="56" x2="239.4" y2="289.3" stroke="#888" stroke-width="0.6"/>
<circle cx="239.4" cy="289.3" r="0.9" stroke="#444" stroke-width="0.5" fill="#444"/>
<line x1="412" y1="268.5" x2="445" y2="268.5" stroke="#888" stroke-width="0.7"/>
<line x1="412" y1="268.5" x2="397" y2="302" stroke="#555" stroke-width="0.8"/>
<line x1="411.7" y1="430.2" x2="442.8" y2="430.2" stroke="#888" stroke-width="0.7"/>
<line x1="411.7" y1="430.2" x2="396.6" y2="458.5" stroke="#555" stroke-width="0.8"/>
<line x1="104.9" y1="628" x2="147.3" y2="628" stroke="#888" stroke-width="0.7"/>
<line x1="526.3" y1="73" x2="630" y2="73" stroke="#6a6a6a" stroke-width="0.8"/>
<path d="M526.3 73 L532.8 71.5 L532.8 74.5Z" stroke="#333" stroke-width="0.3" fill="#333"/>
<path d="M630 73 L623.5 71.5 L623.5 74.5Z" stroke="#333" stroke-width="0.3" fill="#333"/>
<line x1="526.3" y1="68" x2="526.3" y2="127.8" stroke="#8a8a8a" stroke-width="0.6"/>
<line x1="630" y1="68" x2="630" y2="172" stroke="#8a8a8a" stroke-width="0.6"/>
<line x1="500" y1="127.8" x2="527" y2="127.8" stroke="#8a8a8a" stroke-width="0.6"/>
<line x1="500" y1="157.9" x2="527" y2="157.9" stroke="#8a8a8a" stroke-width="0.6"/>
<line x1="502.6" y1="127.8" x2="502.6" y2="157.9" stroke="#6a6a6a" stroke-width="0.8"/>
<path d="M502.6 127.8 L501.1 134.3 L504.1 134.3Z" stroke="#333" stroke-width="0.3" fill="#333"/>
<path d="M502.6 157.9 L501.1 151.4 L504.1 151.4Z" stroke="#333" stroke-width="0.3" fill="#333"/>
<line x1="515.4" y1="129.5" x2="515.4" y2="156.2" stroke="#6a6a6a" stroke-width="0.8"/>
<path d="M515.4 129.5 L513.9 136 L516.9 136Z" stroke="#333" stroke-width="0.3" fill="#333"/>
<path d="M515.4 156.2 L513.9 149.7 L516.9 149.7Z" stroke="#333" stroke-width="0.3" fill="#333"/>
<line x1="482" y1="88" x2="565" y2="88" stroke="#8a8a8a" stroke-width="0.6"/>
<line x1="482" y1="785.5" x2="560" y2="785.5" stroke="#8a8a8a" stroke-width="0.6"/>
<line x1="484.4" y1="88" x2="484.4" y2="785.5" stroke="#6a6a6a" stroke-width="0.8"/>
<path d="M484.4 88 L482.9 94.5 L485.9 94.5Z" stroke="#333" stroke-width="0.3" fill="#333"/>
<path d="M484.4 785.5 L482.9 779 L485.9 779Z" stroke="#333" stroke-width="0.3" fill="#333"/>
<line x1="496.8" y1="244.5" x2="527.7" y2="244.5" stroke="#888" stroke-width="0.7"/>
<line x1="527.7" y1="244.5" x2="549" y2="278" stroke="#555" stroke-width="0.9"/>
<line x1="516" y1="266.6" x2="545" y2="266.6" stroke="#8a8a8a" stroke-width="0.6"/>
<line x1="519.3" y1="266.6" x2="519.3" y2="712.3" stroke="#6a6a6a" stroke-width="0.8"/>
<path d="M519.3 266.6 L517.8 273.1 L520.8 273.1Z" stroke="#333" stroke-width="0.3" fill="#333"/>
<path d="M519.3 712.3 L517.8 705.8 L520.8 705.8Z" stroke="#333" stroke-width="0.3" fill="#333"/>
<path d="M519.3 671.6 L517.8 678.1 L520.8 678.1Z" stroke="#333" stroke-width="0.3" fill="#333"/>
<line x1="516" y1="671.6" x2="545" y2="671.6" stroke="#8a8a8a" stroke-width="0.6"/>
<line x1="499" y1="712.3" x2="535" y2="712.3" stroke="#8a8a8a" stroke-width="0.6"/>
<line x1="499" y1="574" x2="582" y2="574" stroke="#8a8a8a" stroke-width="0.6"/>
<line x1="502.1" y1="574" x2="502.1" y2="712.3" stroke="#6a6a6a" stroke-width="0.8"/>
<path d="M502.1 574 L500.6 580.5 L503.6 580.5Z" stroke="#333" stroke-width="0.3" fill="#333"/>
<path d="M502.1 712.3 L500.6 705.8 L503.6 705.8Z" stroke="#333" stroke-width="0.3" fill="#333"/>
<line x1="545.4" y1="301" x2="618.8" y2="301" stroke="#6a6a6a" stroke-width="0.8"/>
<path d="M545.4 301 L551.9 299.5 L551.9 302.5Z" stroke="#333" stroke-width="0.3" fill="#333"/>
<path d="M618.8 301 L612.3 299.5 L612.3 302.5Z" stroke="#333" stroke-width="0.3" fill="#333"/>
<line x1="576.4" y1="478.6" x2="588.2" y2="478.6" stroke="#6a6a6a" stroke-width="0.8"/>
<path d="M576.4 478.6 L582.9 477.1 L582.9 480.1Z" stroke="#333" stroke-width="0.3" fill="#333"/>
<path d="M588.2 478.6 L581.7 477.1 L581.7 480.1Z" stroke="#333" stroke-width="0.3" fill="#333"/>
<line x1="576.4" y1="476" x2="576.4" y2="504" stroke="#8a8a8a" stroke-width="0.6"/>
<line x1="588.2" y1="476" x2="588.2" y2="504" stroke="#8a8a8a" stroke-width="0.6"/>
<line x1="565" y1="504.2" x2="590" y2="504.2" stroke="#8a8a8a" stroke-width="0.6"/>
<line x1="567.5" y1="504.2" x2="567.5" y2="574" stroke="#6a6a6a" stroke-width="0.8"/>
<path d="M567.5 504.2 L566 510.7 L569 510.7Z" stroke="#333" stroke-width="0.3" fill="#333"/>
<path d="M567.5 574 L566 567.5 L569 567.5Z" stroke="#333" stroke-width="0.3" fill="#333"/>
<line x1="597.6" y1="497" x2="597.6" y2="509" stroke="#6a6a6a" stroke-width="0.8"/>
<path d="M597.6 497 L596.1 503.5 L599.1 503.5Z" stroke="#333" stroke-width="0.3" fill="#333"/>
<path d="M597.6 509 L596.1 502.5 L599.1 502.5Z" stroke="#333" stroke-width="0.3" fill="#333"/>
<line x1="597.6" y1="517" x2="597.6" y2="558" stroke="#888" stroke-width="0.6"/>
<line x1="620" y1="397" x2="665" y2="397" stroke="#6a6a6a" stroke-width="0.7"/>
<path d="M631 397 L624.5 395.5 L624.5 398.5Z" stroke="#333" stroke-width="0.3" fill="#333"/>
<path d="M647 397 L653.5 395.5 L653.5 398.5Z" stroke="#333" stroke-width="0.3" fill="#333"/>
<line x1="670.6" y1="289.6" x2="670.6" y2="586" stroke="#6a6a6a" stroke-width="0.8"/>
<path d="M670.6 289.6 L669.1 296.1 L672.1 296.1Z" stroke="#333" stroke-width="0.3" fill="#333"/>
<path d="M670.6 586 L669.1 579.5 L672.1 579.5Z" stroke="#333" stroke-width="0.3" fill="#333"/>
<line x1="670.6" y1="586" x2="670.6" y2="712.3" stroke="#6a6a6a" stroke-width="0.8"/>
<path d="M670.6 586 L669.1 592.5 L672.1 592.5Z" stroke="#333" stroke-width="0.3" fill="#333"/>
<path d="M670.6 712.3 L669.1 705.8 L672.1 705.8Z" stroke="#333" stroke-width="0.3" fill="#333"/>
<line x1="630" y1="712.3" x2="673" y2="712.3" stroke="#8a8a8a" stroke-width="0.6"/>
<line x1="631" y1="621.2" x2="648" y2="621.2" stroke="#6a6a6a" stroke-width="0.7"/>
<path d="M631 621.2 L624.5 619.7 L624.5 622.7Z" stroke="#333" stroke-width="0.3" fill="#333"/>
<path d="M646 621.2 L652.5 619.7 L652.5 622.7Z" stroke="#333" stroke-width="0.3" fill="#333"/>
<line x1="646" y1="600" x2="646" y2="624" stroke="#8a8a8a" stroke-width="0.6"/>
<line x1="651.9" y1="567" x2="651.9" y2="832" stroke="#8a8a8a" stroke-width="0.6"/>
<line x1="526.8" y1="808.2" x2="629.7" y2="808.2" stroke="#6a6a6a" stroke-width="0.8"/>
<path d="M526.8 808.2 L533.3 806.7 L533.3 809.7Z" stroke="#333" stroke-width="0.3" fill="#333"/>
<path d="M629.7 808.2 L623.2 806.7 L623.2 809.7Z" stroke="#333" stroke-width="0.3" fill="#333"/>
<line x1="526.8" y1="828.3" x2="651.9" y2="828.3" stroke="#6a6a6a" stroke-width="0.8"/>
<path d="M526.8 828.3 L533.3 826.8 L533.3 829.8Z" stroke="#333" stroke-width="0.3" fill="#333"/>
<path d="M651.9 828.3 L645.4 826.8 L645.4 829.8Z" stroke="#333" stroke-width="0.3" fill="#333"/>
<line x1="526.8" y1="772" x2="526.8" y2="832" stroke="#8a8a8a" stroke-width="0.6"/>
<line x1="629.7" y1="718" x2="629.7" y2="812" stroke="#8a8a8a" stroke-width="0.6"/>
<line x1="498" y1="728.8" x2="527" y2="728.8" stroke="#8a8a8a" stroke-width="0.6"/>
<line x1="498" y1="772.4" x2="527" y2="772.4" stroke="#8a8a8a" stroke-width="0.6"/>
<line x1="500" y1="728.8" x2="500" y2="772.4" stroke="#6a6a6a" stroke-width="0.8"/>
<path d="M500 728.8 L498.5 735.3 L501.5 735.3Z" stroke="#333" stroke-width="0.3" fill="#333"/>
<path d="M500 772.4 L498.5 765.9 L501.5 765.9Z" stroke="#333" stroke-width="0.3" fill="#333"/>
<line x1="513.2" y1="730.5" x2="513.2" y2="770.7" stroke="#6a6a6a" stroke-width="0.8"/>
<path d="M513.2 730.5 L511.7 737 L514.7 737Z" stroke="#333" stroke-width="0.3" fill="#333"/>
<path d="M513.2 770.7 L511.7 764.2 L514.7 764.2Z" stroke="#333" stroke-width="0.3" fill="#333"/>
<line x1="786.2" y1="75.1" x2="900.6" y2="75.1" stroke="#6a6a6a" stroke-width="0.8"/>
<path d="M786.2 75.1 L792.7 73.6 L792.7 76.6Z" stroke="#333" stroke-width="0.3" fill="#333"/>
<path d="M900.6 75.1 L894.1 73.6 L894.1 76.6Z" stroke="#333" stroke-width="0.3" fill="#333"/>
<line x1="900.6" y1="75.1" x2="1014.5" y2="75.1" stroke="#6a6a6a" stroke-width="0.8"/>
<path d="M900.6 75.1 L907.1 73.6 L907.1 76.6Z" stroke="#333" stroke-width="0.3" fill="#333"/>
<path d="M1014.5 75.1 L1008 73.6 L1008 76.6Z" stroke="#333" stroke-width="0.3" fill="#333"/>
<line x1="786.2" y1="72" x2="786.2" y2="176" stroke="#8a8a8a" stroke-width="0.6"/>
<line x1="1014.5" y1="72" x2="1014.5" y2="176" stroke="#8a8a8a" stroke-width="0.6"/>
<line x1="757.4" y1="122" x2="757.4" y2="176" stroke="#6a6a6a" stroke-width="0.7"/>
<path d="M757.4 143 L755.9 149.5 L758.9 149.5Z" stroke="#333" stroke-width="0.3" fill="#333"/>
<path d="M757.4 175 L755.9 168.5 L758.9 168.5Z" stroke="#333" stroke-width="0.3" fill="#333"/>
<line x1="987.8" y1="122" x2="987.8" y2="176" stroke="#6a6a6a" stroke-width="0.7"/>
<path d="M987.8 143 L986.3 149.5 L989.3 149.5Z" stroke="#333" stroke-width="0.3" fill="#333"/>
<path d="M987.8 175 L986.3 168.5 L989.3 168.5Z" stroke="#333" stroke-width="0.3" fill="#333"/>
<line x1="1088" y1="209" x2="1126" y2="209" stroke="#8a8a8a" stroke-width="0.6"/>
<line x1="1088" y1="289" x2="1126" y2="289" stroke="#8a8a8a" stroke-width="0.6"/>
<line x1="1088" y1="309" x2="1126" y2="309" stroke="#8a8a8a" stroke-width="0.6"/>
<line x1="1123.6" y1="209" x2="1123.6" y2="289" stroke="#6a6a6a" stroke-width="0.8"/>
<path d="M1123.6 209 L1122.1 215.5 L1125.1 215.5Z" stroke="#333" stroke-width="0.3" fill="#333"/>
<path d="M1123.6 289 L1122.1 282.5 L1125.1 282.5Z" stroke="#333" stroke-width="0.3" fill="#333"/>
<line x1="1123.6" y1="289" x2="1123.6" y2="309" stroke="#6a6a6a" stroke-width="0.8"/>
<path d="M1123.6 289 L1122.1 295.5 L1125.1 295.5Z" stroke="#333" stroke-width="0.3" fill="#333"/>
<path d="M1123.6 309 L1122.1 302.5 L1125.1 302.5Z" stroke="#333" stroke-width="0.3" fill="#333"/>
<line x1="1123.6" y1="309" x2="1123.6" y2="671.2" stroke="#6a6a6a" stroke-width="0.7"/>
<path d="M1123.6 671.2 L1122.1 664.7 L1125.1 664.7Z" stroke="#333" stroke-width="0.3" fill="#333"/>
<line x1="1088" y1="446.4" x2="1108" y2="446.4" stroke="#8a8a8a" stroke-width="0.6"/>
<line x1="1105.5" y1="446.4" x2="1105.5" y2="604" stroke="#6a6a6a" stroke-width="0.8"/>
<path d="M1105.5 446.4 L1104 452.9 L1107 452.9Z" stroke="#333" stroke-width="0.3" fill="#333"/>
<path d="M1105.5 604 L1104 597.5 L1107 597.5Z" stroke="#333" stroke-width="0.3" fill="#333"/>
<line x1="1105.5" y1="604" x2="1105.5" y2="673.2" stroke="#6a6a6a" stroke-width="0.8"/>
<path d="M1105.5 604 L1104 610.5 L1107 610.5Z" stroke="#333" stroke-width="0.3" fill="#333"/>
<path d="M1105.5 673.2 L1104 666.7 L1107 666.7Z" stroke="#333" stroke-width="0.3" fill="#333"/>
<line x1="1105.5" y1="673.2" x2="1105.5" y2="712.3" stroke="#6a6a6a" stroke-width="0.8"/>
<path d="M1105.5 673.2 L1104 679.7 L1107 679.7Z" stroke="#333" stroke-width="0.3" fill="#333"/>
<path d="M1105.5 712.3 L1104 705.8 L1107 705.8Z" stroke="#333" stroke-width="0.3" fill="#333"/>
<line x1="1088" y1="604" x2="1108" y2="604" stroke="#8a8a8a" stroke-width="0.6"/>
<line x1="1088" y1="673.2" x2="1126" y2="673.2" stroke="#8a8a8a" stroke-width="0.6"/>
<line x1="1093" y1="712.3" x2="1108" y2="712.3" stroke="#8a8a8a" stroke-width="0.6"/>
<line x1="732.2" y1="394.4" x2="1067.5" y2="394.4" stroke="#777" stroke-width="0.8"/>
<path d="M732.2 394.4 L738.7 392.9 L738.7 395.9Z" stroke="#333" stroke-width="0.3" fill="#333"/>
<path d="M1067.5 394.4 L1061 392.9 L1061 395.9Z" stroke="#333" stroke-width="0.3" fill="#333"/>
<line x1="714" y1="426.5" x2="1085.6" y2="426.5" stroke="#6a6a6a" stroke-width="0.8"/>
<path d="M714 426.5 L720.5 425 L720.5 428Z" stroke="#333" stroke-width="0.3" fill="#333"/>
<path d="M1085.6 426.5 L1079.1 425 L1079.1 428Z" stroke="#333" stroke-width="0.3" fill="#333"/>
<line x1="710" y1="467.5" x2="1089.6" y2="467.5" stroke="#6a6a6a" stroke-width="0.8"/>
<path d="M710 467.5 L716.5 466 L716.5 469Z" stroke="#333" stroke-width="0.3" fill="#333"/>
<path d="M1089.6 467.5 L1083.1 466 L1083.1 469Z" stroke="#333" stroke-width="0.3" fill="#333"/>
<rect x="1091.9" y="486" width="2.8" height="105.5" stroke="#5a5a5a" stroke-width="0.8" fill="none"/>
<rect x="705.3" y="486.7" width="2.7" height="104.3" stroke="#5a5a5a" stroke-width="0.7" fill="none"/>
<line x1="900.6" y1="805" x2="1014.5" y2="805" stroke="#6a6a6a" stroke-width="0.8"/>
<path d="M900.6 805 L907.1 803.5 L907.1 806.5Z" stroke="#333" stroke-width="0.3" fill="#333"/>
<path d="M1014.5 805 L1008 803.5 L1008 806.5Z" stroke="#333" stroke-width="0.3" fill="#333"/>
<line x1="1014.5" y1="776" x2="1014.5" y2="808" stroke="#8a8a8a" stroke-width="0.6"/>
<line x1="900.6" y1="786" x2="900.6" y2="808" stroke="#8a8a8a" stroke-width="0.6"/>
<line x1="1048" y1="733.4" x2="1048" y2="771.6" stroke="#6a6a6a" stroke-width="0.7"/>
<path d="M1048 750.6 L1046.5 744.1 L1049.5 744.1Z" stroke="#333" stroke-width="0.3" fill="#333"/>
<path d="M1048 733.4 L1046.5 739.9 L1049.5 739.9Z" stroke="#333" stroke-width="0.3" fill="#333"/>
<text transform="translate(561 25) skewX(-7)" x="0" y="13.8" font-size="39.3" fill="#262626" stroke="#fbfdfb" stroke-width="0.9" text-anchor="middle" textLength="292" lengthAdjust="spacingAndGlyphs">Блок радиаторов 238.1301.000</text>
<text transform="translate(125.6 46.2) skewX(-8) scale(1 1.2500)" x="0" y="3.44" font-size="9.6" fill="#4a4a4a" text-anchor="middle" textLength="103.4" lengthAdjust="spacingAndGlyphs">Радиатор водяной 238.1301.100</text>
<text transform="translate(323.9 46.2) skewX(-8) scale(1 1.2500)" x="0" y="3.44" font-size="9.6" fill="#4a4a4a" text-anchor="middle" textLength="113.4" lengthAdjust="spacingAndGlyphs">Радиатор масляный 1504.08.000-1</text>
<text transform="translate(215.8 241.4) skewX(-8) scale(1 1.2500)" x="0" y="4.16" font-size="11.6" fill="#4a4a4a" text-anchor="middle" textLength="11.6" lengthAdjust="spacingAndGlyphs">633</text>
<text transform="translate(215.9 409.7) skewX(-8) scale(1 1.2500)" x="0" y="4.24" font-size="11.8" fill="#4a4a4a" text-anchor="middle" textLength="11.9" lengthAdjust="spacingAndGlyphs">540</text>
<text transform="translate(215.5 646.5) skewX(-8) scale(1 1.2500)" x="0" y="4.16" font-size="11.6" fill="#4a4a4a" text-anchor="middle" textLength="11.6" lengthAdjust="spacingAndGlyphs">500</text>
<text transform="translate(215.5 796.8) skewX(-8) scale(1 1.2500)" x="0" y="4.16" font-size="11.6" fill="#4a4a4a" text-anchor="middle" textLength="11.6" lengthAdjust="spacingAndGlyphs">805</text>
<text transform="translate(429 259.3) skewX(-8) scale(1 1.2500)" x="0" y="4.00" font-size="11.2" fill="#4a4a4a" text-anchor="middle" textLength="28.3" lengthAdjust="spacingAndGlyphs">8отв ⌀11</text>
<text transform="translate(448.6 247.2) rotate(-90) skewX(-8) scale(1 1.2500)" x="0" y="3.20" font-size="8.9" fill="#4a4a4a" text-anchor="middle" textLength="11.3" lengthAdjust="spacingAndGlyphs">115</text>
<text transform="translate(448.6 298.5) rotate(-90) skewX(-8) scale(1 1.2500)" x="0" y="3.20" font-size="8.9" fill="#4a4a4a" text-anchor="middle" textLength="8.6" lengthAdjust="spacingAndGlyphs">28</text>
<text transform="translate(430 324.5) rotate(-90) skewX(-8) scale(1 1.2500)" x="0" y="3.20" font-size="8.9" fill="#4a4a4a" text-anchor="middle" textLength="8.6" lengthAdjust="spacingAndGlyphs">50</text>
<text transform="translate(388.7 343) rotate(-90) skewX(-8) scale(1 1.2500)" x="0" y="3.20" font-size="8.9" fill="#4a4a4a" text-anchor="middle" textLength="7.6" lengthAdjust="spacingAndGlyphs">22</text>
<text transform="translate(422.4 365) skewX(-8) scale(1 1.2500)" x="0" y="4.00" font-size="11.2" fill="#4a4a4a" text-anchor="middle" textLength="20.5" lengthAdjust="spacingAndGlyphs">8отв 9</text>
<text transform="translate(356.6 437.7) rotate(-90) skewX(-8) scale(1 1.2500)" x="0" y="3.20" font-size="8.9" fill="#4a4a4a" text-anchor="middle" textLength="13.6" lengthAdjust="spacingAndGlyphs">375</text>
<text transform="translate(427.2 420.8) skewX(-8) scale(1 1.2500)" x="0" y="4.00" font-size="11.2" fill="#4a4a4a" text-anchor="middle" textLength="26.5" lengthAdjust="spacingAndGlyphs">8отв ⌀9</text>
<text transform="translate(464.3 444.7) rotate(-90) skewX(-8) scale(1 1.2500)" x="0" y="2.96" font-size="8.3" fill="#4a4a4a" text-anchor="middle" textLength="16.4" lengthAdjust="spacingAndGlyphs">749</text>
<text transform="translate(477.8 435.4) rotate(-90) skewX(-8) scale(1 1.2500)" x="0" y="2.96" font-size="8.3" fill="#4a4a4a" text-anchor="middle" textLength="19" lengthAdjust="spacingAndGlyphs">1003</text>
<text transform="translate(448.5 491.5) rotate(-90) skewX(-8) scale(1 1.2500)" x="0" y="2.96" font-size="8.3" fill="#4a4a4a" text-anchor="middle" textLength="15.2" lengthAdjust="spacingAndGlyphs">524</text>
<text transform="translate(434.1 526) rotate(-90) skewX(-8) scale(1 1.2500)" x="0" y="3.28" font-size="9.2" fill="#4a4a4a" text-anchor="middle" textLength="16.9" lengthAdjust="spacingAndGlyphs">226</text>
<text transform="translate(127 604.2) skewX(-8) scale(1 1.2500)" x="0" y="3.80" font-size="10.6" fill="#4a4a4a" text-anchor="middle" textLength="30.8" lengthAdjust="spacingAndGlyphs">⌀24+0,165</text>
<text transform="translate(125.7 617.5) skewX(-8) scale(1 1.2500)" x="0" y="3.80" font-size="10.6" fill="#4a4a4a" text-anchor="middle" textLength="35.1" lengthAdjust="spacingAndGlyphs">M27x1,5-6g</text>
<text transform="translate(93.3 636) skewX(-8) scale(1 1.2500)" x="0" y="3.80" font-size="10.6" fill="#4a4a4a" text-anchor="middle" textLength="9.6" lengthAdjust="spacingAndGlyphs">60°</text>
<text transform="translate(384.3 642.8) skewX(-8) scale(1 1.2500)" x="0" y="3.80" font-size="10.6" fill="#4a4a4a" text-anchor="middle" textLength="21.8" lengthAdjust="spacingAndGlyphs">4отв 9</text>
<text transform="translate(434.3 637.2) rotate(-90) skewX(-8) scale(1 1.2500)" x="0" y="3.20" font-size="8.9" fill="#4a4a4a" text-anchor="middle" textLength="14.6" lengthAdjust="spacingAndGlyphs">100</text>
<text transform="translate(434.3 692.8) rotate(-90) skewX(-8) scale(1 1.2500)" x="0" y="3.20" font-size="8.9" fill="#4a4a4a" text-anchor="middle" textLength="8.6" lengthAdjust="spacingAndGlyphs">55</text>
<text transform="translate(387 673) rotate(-90) skewX(-8) scale(1 1.2500)" x="0" y="3.20" font-size="8.9" fill="#4a4a4a" text-anchor="middle" textLength="7.6" lengthAdjust="spacingAndGlyphs">37</text>
<text transform="translate(578.8 64.5) skewX(-8) scale(1 1.2500)" x="0" y="4.40" font-size="12.3" fill="#4a4a4a" text-anchor="middle" textLength="26.9" lengthAdjust="spacingAndGlyphs">213±2,5</text>
<text transform="translate(496.8 142.8) rotate(-90) skewX(-8) scale(1 1.2500)" x="0" y="3.20" font-size="8.9" fill="#4a4a4a" text-anchor="middle" textLength="11.6" lengthAdjust="spacingAndGlyphs">⌀44</text>
<text transform="translate(509.2 142.8) rotate(-90) skewX(-8) scale(1 1.2500)" x="0" y="3.20" font-size="8.9" fill="#4a4a4a" text-anchor="middle" textLength="17.6" lengthAdjust="spacingAndGlyphs">⌀41,5</text>
<text transform="translate(512.4 235.7) skewX(-8) scale(1 1.2500)" x="0" y="4.00" font-size="11.2" fill="#4a4a4a" text-anchor="middle" textLength="25" lengthAdjust="spacingAndGlyphs">8отв М8</text>
<text transform="translate(582.7 291.3) skewX(-8) scale(1 1.2500)" x="0" y="4.20" font-size="11.7" fill="#4a4a4a" text-anchor="middle" textLength="11.7" lengthAdjust="spacingAndGlyphs">153</text>
<text transform="translate(658.6 388) skewX(-8) scale(1 1.2500)" x="0" y="4.00" font-size="11.2" fill="#4a4a4a" text-anchor="middle" textLength="7.5" lengthAdjust="spacingAndGlyphs">47</text>
<text transform="translate(663 437.6) rotate(-90) skewX(-8) scale(1 1.2500)" x="0" y="3.20" font-size="8.9" fill="#4a4a4a" text-anchor="middle" textLength="14.6" lengthAdjust="spacingAndGlyphs">425</text>
<text transform="translate(512.5 467.8) rotate(-90) skewX(-8) scale(1 1.2500)" x="0" y="3.20" font-size="8.9" fill="#4a4a4a" text-anchor="middle" textLength="14.6" lengthAdjust="spacingAndGlyphs">580</text>
<text transform="translate(583.4 469.4) rotate(-90) skewX(-8) scale(1 1.2500)" x="0" y="3.20" font-size="8.9" fill="#4a4a4a" text-anchor="middle" textLength="9.1" lengthAdjust="spacingAndGlyphs">25</text>
<text transform="translate(561.3 537.8) rotate(-90) skewX(-8) scale(1 1.2500)" x="0" y="3.20" font-size="8.9" fill="#4a4a4a" text-anchor="middle" textLength="13.6" lengthAdjust="spacingAndGlyphs">100</text>
<text transform="translate(591.4 539.6) rotate(-90) skewX(-8) scale(1 1.2500)" x="0" y="3.20" font-size="8.9" fill="#4a4a4a" text-anchor="middle" textLength="25.6" lengthAdjust="spacingAndGlyphs">4отв 14</text>
<text transform="translate(648 611.5) rotate(-90) skewX(-8) scale(1 1.2500)" x="0" y="2.80" font-size="7.8" fill="#4a4a4a" text-anchor="middle" textLength="2.9" lengthAdjust="spacingAndGlyphs">5</text>
<text transform="translate(496 641.6) rotate(-90) skewX(-8) scale(1 1.2500)" x="0" y="3.20" font-size="8.9" fill="#4a4a4a" text-anchor="middle" textLength="21.6" lengthAdjust="spacingAndGlyphs">198,5</text>
<text transform="translate(664 647.7) rotate(-90) skewX(-8) scale(1 1.2500)" x="0" y="3.20" font-size="8.9" fill="#4a4a4a" text-anchor="middle" textLength="12.6" lengthAdjust="spacingAndGlyphs">181</text>
<text transform="translate(512.7 691) rotate(-90) skewX(-8) scale(1 1.2500)" x="0" y="3.20" font-size="8.9" fill="#4a4a4a" text-anchor="middle" textLength="8.6" lengthAdjust="spacingAndGlyphs">59</text>
<text transform="translate(494 750.6) rotate(-90) skewX(-8) scale(1 1.2500)" x="0" y="3.20" font-size="8.9" fill="#4a4a4a" text-anchor="middle" textLength="12.6" lengthAdjust="spacingAndGlyphs">⌀63</text>
<text transform="translate(508 750.6) rotate(-90) skewX(-8) scale(1 1.2500)" x="0" y="3.20" font-size="8.9" fill="#4a4a4a" text-anchor="middle" textLength="12.6" lengthAdjust="spacingAndGlyphs">⌀60</text>
<text transform="translate(578.3 798.3) skewX(-8) scale(1 1.2500)" x="0" y="4.40" font-size="12.3" fill="#4a4a4a" text-anchor="middle" textLength="26.9" lengthAdjust="spacingAndGlyphs">213±2,5</text>
<text transform="translate(589.2 818.2) skewX(-8) scale(1 1.2500)" x="0" y="4.04" font-size="11.3" fill="#4a4a4a" text-anchor="middle" textLength="11.3" lengthAdjust="spacingAndGlyphs">259</text>
<text transform="translate(844 65.5) skewX(-8) scale(1 1.2500)" x="0" y="4.00" font-size="11.2" fill="#4a4a4a" text-anchor="middle" textLength="11.2" lengthAdjust="spacingAndGlyphs">235</text>
<text transform="translate(957.3 66.2) skewX(-8) scale(1 1.2500)" x="0" y="4.00" font-size="11.2" fill="#4a4a4a" text-anchor="middle" textLength="11.2" lengthAdjust="spacingAndGlyphs">235</text>
<text transform="translate(751 128.3) rotate(-90) skewX(-8) scale(1 1.2500)" x="0" y="3.20" font-size="8.9" fill="#4a4a4a" text-anchor="middle" textLength="8.6" lengthAdjust="spacingAndGlyphs">51</text>
<text transform="translate(981.1 127.3) rotate(-90) skewX(-8) scale(1 1.2500)" x="0" y="3.20" font-size="8.9" fill="#4a4a4a" text-anchor="middle" textLength="8.6" lengthAdjust="spacingAndGlyphs">51</text>
<text transform="translate(1116 247.4) rotate(-90) skewX(-8) scale(1 1.2500)" x="0" y="3.20" font-size="8.9" fill="#4a4a4a" text-anchor="middle" textLength="12.6" lengthAdjust="spacingAndGlyphs">115</text>
<text transform="translate(1116 298.3) rotate(-90) skewX(-8) scale(1 1.2500)" x="0" y="3.20" font-size="8.9" fill="#4a4a4a" text-anchor="middle" textLength="8.6" lengthAdjust="spacingAndGlyphs">28</text>
<text transform="translate(900.4 383.9) skewX(-8) scale(1 1.2500)" x="0" y="4.48" font-size="12.5" fill="#4a4a4a" text-anchor="middle" textLength="12.5" lengthAdjust="spacingAndGlyphs">705</text>
<text transform="translate(901.2 416) skewX(-8) scale(1 1.2500)" x="0" y="4.72" font-size="13.2" fill="#4a4a4a" text-anchor="middle" textLength="22.2" lengthAdjust="spacingAndGlyphs">775±2</text>
<text transform="translate(900.6 457) skewX(-8) scale(1 1.2500)" x="0" y="4.48" font-size="12.5" fill="#4a4a4a" text-anchor="middle" textLength="12.5" lengthAdjust="spacingAndGlyphs">793</text>
<text transform="translate(1116 491.7) rotate(-90) skewX(-8) scale(1 1.2500)" x="0" y="3.20" font-size="8.9" fill="#4a4a4a" text-anchor="middle" textLength="14.6" lengthAdjust="spacingAndGlyphs">524</text>
<text transform="translate(1099.4 525.7) rotate(-90) skewX(-8) scale(1 1.2500)" x="0" y="3.20" font-size="8.9" fill="#4a4a4a" text-anchor="middle" textLength="14.6" lengthAdjust="spacingAndGlyphs">226</text>
<text transform="translate(1100.3 637) rotate(-90) skewX(-8) scale(1 1.2500)" x="0" y="3.20" font-size="8.9" fill="#4a4a4a" text-anchor="middle" textLength="13.6" lengthAdjust="spacingAndGlyphs">100</text>
<text transform="translate(1100 692.3) rotate(-90) skewX(-8) scale(1 1.2500)" x="0" y="3.20" font-size="8.9" fill="#4a4a4a" text-anchor="middle" textLength="8.6" lengthAdjust="spacingAndGlyphs">55</text>
<text transform="translate(1041.3 762) rotate(-90) skewX(-8) scale(1 1.2500)" x="0" y="3.20" font-size="8.9" fill="#4a4a4a" text-anchor="middle" textLength="8.6" lengthAdjust="spacingAndGlyphs">51</text>
<text transform="translate(957.3 795.5) skewX(-8) scale(1 1.2500)" x="0" y="4.00" font-size="11.2" fill="#4a4a4a" text-anchor="middle" textLength="11.2" lengthAdjust="spacingAndGlyphs">235</text></svg>
</body></html>
